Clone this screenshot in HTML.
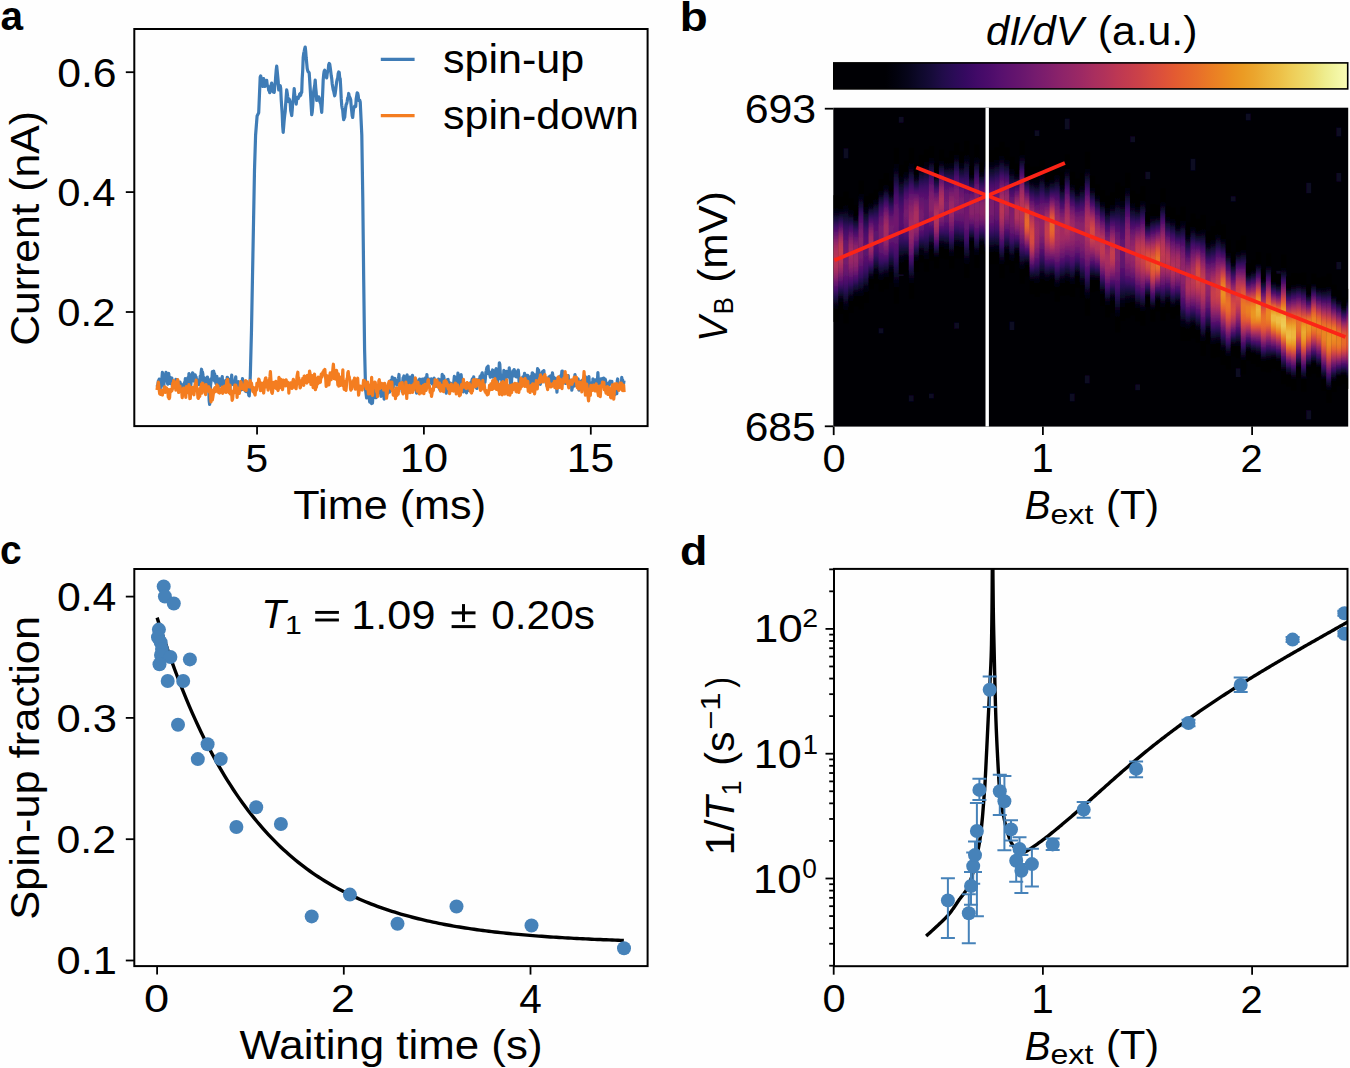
<!DOCTYPE html>
<html><head><meta charset="utf-8"><title>figure</title>
<style>html,body{margin:0;padding:0;background:#fff;}svg{display:block;}</style>
</head><body>
<svg width="1350" height="1068" viewBox="0 0 1350 1068">
<defs><linearGradient id="cbg" x1="0" y1="0" x2="1" y2="0"><stop offset="0" stop-color="#000004"/><stop offset="0.1" stop-color="#000004"/><stop offset="0.1225" stop-color="#02020e"/><stop offset="0.1450" stop-color="#07051b"/><stop offset="0.1675" stop-color="#0e092b"/><stop offset="0.1900" stop-color="#160b39"/><stop offset="0.2125" stop-color="#210c4a"/><stop offset="0.2350" stop-color="#2b0b57"/><stop offset="0.2575" stop-color="#360961"/><stop offset="0.2800" stop-color="#420a68"/><stop offset="0.3025" stop-color="#4c0c6b"/><stop offset="0.3250" stop-color="#57106e"/><stop offset="0.3475" stop-color="#61136e"/><stop offset="0.3700" stop-color="#6a176e"/><stop offset="0.3925" stop-color="#751b6e"/><stop offset="0.4150" stop-color="#7f1e6c"/><stop offset="0.4375" stop-color="#8a226a"/><stop offset="0.4600" stop-color="#932667"/><stop offset="0.4825" stop-color="#9d2964"/><stop offset="0.5050" stop-color="#a82e5f"/><stop offset="0.5275" stop-color="#b1325a"/><stop offset="0.5500" stop-color="#bc3754"/><stop offset="0.5725" stop-color="#c43c4e"/><stop offset="0.5950" stop-color="#cc4248"/><stop offset="0.6175" stop-color="#d54a41"/><stop offset="0.6400" stop-color="#dd513a"/><stop offset="0.6625" stop-color="#e35a32"/><stop offset="0.6850" stop-color="#e6642d"/><stop offset="0.7075" stop-color="#e86e2a"/><stop offset="0.7300" stop-color="#ea7a25"/><stop offset="0.7525" stop-color="#eb8523"/><stop offset="0.7750" stop-color="#eb9121"/><stop offset="0.7975" stop-color="#eb9c24"/><stop offset="0.8200" stop-color="#eba62e"/><stop offset="0.8425" stop-color="#ecb33a"/><stop offset="0.8650" stop-color="#edbe45"/><stop offset="0.8875" stop-color="#eecb55"/><stop offset="0.9100" stop-color="#eed664"/><stop offset="0.9325" stop-color="#ede075"/><stop offset="0.9550" stop-color="#eeec8d"/><stop offset="0.9775" stop-color="#f2f5a2"/><stop offset="1.0000" stop-color="#fafcb6"/></linearGradient>
<filter id="hblur" x="-2%" y="-2%" width="104%" height="104%"><feGaussianBlur stdDeviation="0.5 0.3"/></filter>
<linearGradient id="hc0" x1="0" y1="0" x2="0" y2="1"><stop offset="0.000" stop-color="#000004"/><stop offset="0.050" stop-color="#000004"/><stop offset="0.100" stop-color="#000004"/><stop offset="0.150" stop-color="#08051d"/><stop offset="0.200" stop-color="#1e0c45"/><stop offset="0.250" stop-color="#400a67"/><stop offset="0.300" stop-color="#61136e"/><stop offset="0.350" stop-color="#82206c"/><stop offset="0.400" stop-color="#9f2a63"/><stop offset="0.450" stop-color="#b1325a"/><stop offset="0.500" stop-color="#b93556"/><stop offset="0.550" stop-color="#b43359"/><stop offset="0.600" stop-color="#a32c61"/><stop offset="0.650" stop-color="#87216b"/><stop offset="0.700" stop-color="#64156e"/><stop offset="0.750" stop-color="#420a68"/><stop offset="0.800" stop-color="#1f0c48"/><stop offset="0.850" stop-color="#09061f"/><stop offset="0.900" stop-color="#000004"/><stop offset="0.950" stop-color="#000004"/><stop offset="1.000" stop-color="#000004"/></linearGradient>
<linearGradient id="hc1" x1="0" y1="0" x2="0" y2="1"><stop offset="0.000" stop-color="#000004"/><stop offset="0.050" stop-color="#000004"/><stop offset="0.100" stop-color="#000004"/><stop offset="0.150" stop-color="#0b0724"/><stop offset="0.200" stop-color="#280b53"/><stop offset="0.250" stop-color="#510e6c"/><stop offset="0.300" stop-color="#7a1d6d"/><stop offset="0.350" stop-color="#9f2a63"/><stop offset="0.400" stop-color="#b73557"/><stop offset="0.450" stop-color="#c13a50"/><stop offset="0.500" stop-color="#bf3952"/><stop offset="0.550" stop-color="#b3325a"/><stop offset="0.600" stop-color="#9f2a63"/><stop offset="0.650" stop-color="#84206b"/><stop offset="0.700" stop-color="#64156e"/><stop offset="0.750" stop-color="#440a68"/><stop offset="0.800" stop-color="#210c4a"/><stop offset="0.850" stop-color="#09061f"/><stop offset="0.900" stop-color="#000004"/><stop offset="0.950" stop-color="#000004"/><stop offset="1.000" stop-color="#000004"/></linearGradient>
<linearGradient id="hc2" x1="0" y1="0" x2="0" y2="1"><stop offset="0.000" stop-color="#000004"/><stop offset="0.050" stop-color="#000004"/><stop offset="0.100" stop-color="#000004"/><stop offset="0.150" stop-color="#060419"/><stop offset="0.200" stop-color="#140b34"/><stop offset="0.250" stop-color="#290b55"/><stop offset="0.300" stop-color="#420a68"/><stop offset="0.350" stop-color="#550f6d"/><stop offset="0.400" stop-color="#65156e"/><stop offset="0.450" stop-color="#71196e"/><stop offset="0.500" stop-color="#741a6e"/><stop offset="0.550" stop-color="#721a6e"/><stop offset="0.600" stop-color="#69166e"/><stop offset="0.650" stop-color="#59106e"/><stop offset="0.700" stop-color="#440a68"/><stop offset="0.750" stop-color="#2b0b57"/><stop offset="0.800" stop-color="#150b37"/><stop offset="0.850" stop-color="#060419"/><stop offset="0.900" stop-color="#000004"/><stop offset="0.950" stop-color="#000004"/><stop offset="1.000" stop-color="#000004"/></linearGradient>
<linearGradient id="hc3" x1="0" y1="0" x2="0" y2="1"><stop offset="0.000" stop-color="#000004"/><stop offset="0.050" stop-color="#000004"/><stop offset="0.100" stop-color="#000004"/><stop offset="0.150" stop-color="#08051d"/><stop offset="0.200" stop-color="#1c0c43"/><stop offset="0.250" stop-color="#3d0965"/><stop offset="0.300" stop-color="#5d126e"/><stop offset="0.350" stop-color="#7a1d6d"/><stop offset="0.400" stop-color="#922568"/><stop offset="0.450" stop-color="#9f2a63"/><stop offset="0.500" stop-color="#a02a63"/><stop offset="0.550" stop-color="#972766"/><stop offset="0.600" stop-color="#87216b"/><stop offset="0.650" stop-color="#6f196e"/><stop offset="0.700" stop-color="#540f6d"/><stop offset="0.750" stop-color="#360961"/><stop offset="0.800" stop-color="#190c3e"/><stop offset="0.850" stop-color="#07051b"/><stop offset="0.900" stop-color="#000004"/><stop offset="0.950" stop-color="#000004"/><stop offset="1.000" stop-color="#000004"/></linearGradient>
<linearGradient id="hc4" x1="0" y1="0" x2="0" y2="1"><stop offset="0.000" stop-color="#000004"/><stop offset="0.050" stop-color="#000004"/><stop offset="0.100" stop-color="#000004"/><stop offset="0.150" stop-color="#07051b"/><stop offset="0.200" stop-color="#1b0c41"/><stop offset="0.250" stop-color="#380962"/><stop offset="0.300" stop-color="#540f6d"/><stop offset="0.350" stop-color="#6d186e"/><stop offset="0.400" stop-color="#84206b"/><stop offset="0.450" stop-color="#922568"/><stop offset="0.500" stop-color="#972766"/><stop offset="0.550" stop-color="#932667"/><stop offset="0.600" stop-color="#87216b"/><stop offset="0.650" stop-color="#721a6e"/><stop offset="0.700" stop-color="#57106e"/><stop offset="0.750" stop-color="#390963"/><stop offset="0.800" stop-color="#1b0c41"/><stop offset="0.850" stop-color="#08051d"/><stop offset="0.900" stop-color="#000004"/><stop offset="0.950" stop-color="#000004"/><stop offset="1.000" stop-color="#000004"/></linearGradient>
<linearGradient id="hc5" x1="0" y1="0" x2="0" y2="1"><stop offset="0.000" stop-color="#000004"/><stop offset="0.050" stop-color="#000004"/><stop offset="0.100" stop-color="#000004"/><stop offset="0.150" stop-color="#07051b"/><stop offset="0.200" stop-color="#180c3c"/><stop offset="0.250" stop-color="#340a5f"/><stop offset="0.300" stop-color="#4f0d6c"/><stop offset="0.350" stop-color="#65156e"/><stop offset="0.400" stop-color="#781c6d"/><stop offset="0.450" stop-color="#82206c"/><stop offset="0.500" stop-color="#84206b"/><stop offset="0.550" stop-color="#7f1e6c"/><stop offset="0.600" stop-color="#741a6e"/><stop offset="0.650" stop-color="#61136e"/><stop offset="0.700" stop-color="#4a0c6b"/><stop offset="0.750" stop-color="#310a5c"/><stop offset="0.800" stop-color="#180c3c"/><stop offset="0.850" stop-color="#07051b"/><stop offset="0.900" stop-color="#000004"/><stop offset="0.950" stop-color="#000004"/><stop offset="1.000" stop-color="#000004"/></linearGradient>
<linearGradient id="hc6" x1="0" y1="0" x2="0" y2="1"><stop offset="0.000" stop-color="#000004"/><stop offset="0.050" stop-color="#000004"/><stop offset="0.100" stop-color="#000004"/><stop offset="0.150" stop-color="#050417"/><stop offset="0.200" stop-color="#120a32"/><stop offset="0.250" stop-color="#240c4f"/><stop offset="0.300" stop-color="#380962"/><stop offset="0.350" stop-color="#490b6a"/><stop offset="0.400" stop-color="#550f6d"/><stop offset="0.450" stop-color="#5c126e"/><stop offset="0.500" stop-color="#5d126e"/><stop offset="0.550" stop-color="#5c126e"/><stop offset="0.600" stop-color="#550f6d"/><stop offset="0.650" stop-color="#490b6a"/><stop offset="0.700" stop-color="#380962"/><stop offset="0.750" stop-color="#240c4f"/><stop offset="0.800" stop-color="#120a32"/><stop offset="0.850" stop-color="#050417"/><stop offset="0.900" stop-color="#000004"/><stop offset="0.950" stop-color="#000004"/><stop offset="1.000" stop-color="#000004"/></linearGradient>
<linearGradient id="hc7" x1="0" y1="0" x2="0" y2="1"><stop offset="0.000" stop-color="#000004"/><stop offset="0.050" stop-color="#000004"/><stop offset="0.100" stop-color="#000004"/><stop offset="0.150" stop-color="#07051b"/><stop offset="0.200" stop-color="#1b0c41"/><stop offset="0.250" stop-color="#380962"/><stop offset="0.300" stop-color="#57106e"/><stop offset="0.350" stop-color="#721a6e"/><stop offset="0.400" stop-color="#8c2369"/><stop offset="0.450" stop-color="#9d2964"/><stop offset="0.500" stop-color="#a62d60"/><stop offset="0.550" stop-color="#a52c60"/><stop offset="0.600" stop-color="#982766"/><stop offset="0.650" stop-color="#7f1e6c"/><stop offset="0.700" stop-color="#61136e"/><stop offset="0.750" stop-color="#3e0966"/><stop offset="0.800" stop-color="#1e0c45"/><stop offset="0.850" stop-color="#08051d"/><stop offset="0.900" stop-color="#000004"/><stop offset="0.950" stop-color="#000004"/><stop offset="1.000" stop-color="#000004"/></linearGradient>
<linearGradient id="hc8" x1="0" y1="0" x2="0" y2="1"><stop offset="0.000" stop-color="#000004"/><stop offset="0.050" stop-color="#000004"/><stop offset="0.100" stop-color="#000004"/><stop offset="0.150" stop-color="#050417"/><stop offset="0.200" stop-color="#120a32"/><stop offset="0.250" stop-color="#240c4f"/><stop offset="0.300" stop-color="#380962"/><stop offset="0.350" stop-color="#490b6a"/><stop offset="0.400" stop-color="#550f6d"/><stop offset="0.450" stop-color="#5c126e"/><stop offset="0.500" stop-color="#5d126e"/><stop offset="0.550" stop-color="#5c126e"/><stop offset="0.600" stop-color="#550f6d"/><stop offset="0.650" stop-color="#490b6a"/><stop offset="0.700" stop-color="#380962"/><stop offset="0.750" stop-color="#240c4f"/><stop offset="0.800" stop-color="#120a32"/><stop offset="0.850" stop-color="#050417"/><stop offset="0.900" stop-color="#000004"/><stop offset="0.950" stop-color="#000004"/><stop offset="1.000" stop-color="#000004"/></linearGradient>
<linearGradient id="hc9" x1="0" y1="0" x2="0" y2="1"><stop offset="0.000" stop-color="#000004"/><stop offset="0.050" stop-color="#000004"/><stop offset="0.100" stop-color="#000004"/><stop offset="0.150" stop-color="#08051d"/><stop offset="0.200" stop-color="#1b0c41"/><stop offset="0.250" stop-color="#360961"/><stop offset="0.300" stop-color="#4f0d6c"/><stop offset="0.350" stop-color="#62146e"/><stop offset="0.400" stop-color="#71196e"/><stop offset="0.450" stop-color="#771c6d"/><stop offset="0.500" stop-color="#781c6d"/><stop offset="0.550" stop-color="#741a6e"/><stop offset="0.600" stop-color="#6a176e"/><stop offset="0.650" stop-color="#5c126e"/><stop offset="0.700" stop-color="#470b6a"/><stop offset="0.750" stop-color="#2f0a5b"/><stop offset="0.800" stop-color="#160b39"/><stop offset="0.850" stop-color="#060419"/><stop offset="0.900" stop-color="#000004"/><stop offset="0.950" stop-color="#000004"/><stop offset="1.000" stop-color="#000004"/></linearGradient>
<linearGradient id="hc10" x1="0" y1="0" x2="0" y2="1"><stop offset="0.000" stop-color="#000004"/><stop offset="0.050" stop-color="#000004"/><stop offset="0.100" stop-color="#000004"/><stop offset="0.150" stop-color="#08051d"/><stop offset="0.200" stop-color="#1e0c45"/><stop offset="0.250" stop-color="#3d0965"/><stop offset="0.300" stop-color="#5d126e"/><stop offset="0.350" stop-color="#7a1d6d"/><stop offset="0.400" stop-color="#902568"/><stop offset="0.450" stop-color="#9f2a63"/><stop offset="0.500" stop-color="#a32c61"/><stop offset="0.550" stop-color="#9f2a63"/><stop offset="0.600" stop-color="#902568"/><stop offset="0.650" stop-color="#781c6d"/><stop offset="0.700" stop-color="#5d126e"/><stop offset="0.750" stop-color="#3d0965"/><stop offset="0.800" stop-color="#1e0c45"/><stop offset="0.850" stop-color="#08051d"/><stop offset="0.900" stop-color="#000004"/><stop offset="0.950" stop-color="#000004"/><stop offset="1.000" stop-color="#000004"/></linearGradient>
<linearGradient id="hc11" x1="0" y1="0" x2="0" y2="1"><stop offset="0.000" stop-color="#000004"/><stop offset="0.050" stop-color="#000004"/><stop offset="0.100" stop-color="#000004"/><stop offset="0.150" stop-color="#07051b"/><stop offset="0.200" stop-color="#160b39"/><stop offset="0.250" stop-color="#2f0a5b"/><stop offset="0.300" stop-color="#470b6a"/><stop offset="0.350" stop-color="#5d126e"/><stop offset="0.400" stop-color="#6c186e"/><stop offset="0.450" stop-color="#721a6e"/><stop offset="0.500" stop-color="#721a6e"/><stop offset="0.550" stop-color="#6a176e"/><stop offset="0.600" stop-color="#5d126e"/><stop offset="0.650" stop-color="#4d0d6c"/><stop offset="0.700" stop-color="#390963"/><stop offset="0.750" stop-color="#240c4f"/><stop offset="0.800" stop-color="#110a30"/><stop offset="0.850" stop-color="#050417"/><stop offset="0.900" stop-color="#000004"/><stop offset="0.950" stop-color="#000004"/><stop offset="1.000" stop-color="#000004"/></linearGradient>
<linearGradient id="hc12" x1="0" y1="0" x2="0" y2="1"><stop offset="0.000" stop-color="#000004"/><stop offset="0.050" stop-color="#000004"/><stop offset="0.100" stop-color="#000004"/><stop offset="0.150" stop-color="#060419"/><stop offset="0.200" stop-color="#150b37"/><stop offset="0.250" stop-color="#2b0b57"/><stop offset="0.300" stop-color="#440a68"/><stop offset="0.350" stop-color="#57106e"/><stop offset="0.400" stop-color="#67166e"/><stop offset="0.450" stop-color="#6f196e"/><stop offset="0.500" stop-color="#6f196e"/><stop offset="0.550" stop-color="#6a176e"/><stop offset="0.600" stop-color="#5f136e"/><stop offset="0.650" stop-color="#4f0d6c"/><stop offset="0.700" stop-color="#3d0965"/><stop offset="0.750" stop-color="#260c51"/><stop offset="0.800" stop-color="#120a32"/><stop offset="0.850" stop-color="#050417"/><stop offset="0.900" stop-color="#000004"/><stop offset="0.950" stop-color="#000004"/><stop offset="1.000" stop-color="#000004"/></linearGradient>
<linearGradient id="hc13" x1="0" y1="0" x2="0" y2="1"><stop offset="0.000" stop-color="#000004"/><stop offset="0.050" stop-color="#000004"/><stop offset="0.100" stop-color="#000004"/><stop offset="0.150" stop-color="#040314"/><stop offset="0.200" stop-color="#10092d"/><stop offset="0.250" stop-color="#1e0c45"/><stop offset="0.300" stop-color="#310a5c"/><stop offset="0.350" stop-color="#400a67"/><stop offset="0.400" stop-color="#4c0c6b"/><stop offset="0.450" stop-color="#540f6d"/><stop offset="0.500" stop-color="#550f6d"/><stop offset="0.550" stop-color="#540f6d"/><stop offset="0.600" stop-color="#4c0c6b"/><stop offset="0.650" stop-color="#400a67"/><stop offset="0.700" stop-color="#310a5c"/><stop offset="0.750" stop-color="#1e0c45"/><stop offset="0.800" stop-color="#0e092b"/><stop offset="0.850" stop-color="#040314"/><stop offset="0.900" stop-color="#000004"/><stop offset="0.950" stop-color="#000004"/><stop offset="1.000" stop-color="#000004"/></linearGradient>
<linearGradient id="hc14" x1="0" y1="0" x2="0" y2="1"><stop offset="0.000" stop-color="#000004"/><stop offset="0.050" stop-color="#000004"/><stop offset="0.100" stop-color="#000004"/><stop offset="0.150" stop-color="#060419"/><stop offset="0.200" stop-color="#160b39"/><stop offset="0.250" stop-color="#2f0a5b"/><stop offset="0.300" stop-color="#490b6a"/><stop offset="0.350" stop-color="#5d126e"/><stop offset="0.400" stop-color="#6d186e"/><stop offset="0.450" stop-color="#741a6e"/><stop offset="0.500" stop-color="#741a6e"/><stop offset="0.550" stop-color="#6f196e"/><stop offset="0.600" stop-color="#64156e"/><stop offset="0.650" stop-color="#540f6d"/><stop offset="0.700" stop-color="#3e0966"/><stop offset="0.750" stop-color="#280b53"/><stop offset="0.800" stop-color="#140b34"/><stop offset="0.850" stop-color="#050417"/><stop offset="0.900" stop-color="#000004"/><stop offset="0.950" stop-color="#000004"/><stop offset="1.000" stop-color="#000004"/></linearGradient>
<linearGradient id="hc15" x1="0" y1="0" x2="0" y2="1"><stop offset="0.000" stop-color="#000004"/><stop offset="0.050" stop-color="#000004"/><stop offset="0.100" stop-color="#000004"/><stop offset="0.150" stop-color="#08051d"/><stop offset="0.200" stop-color="#1c0c43"/><stop offset="0.250" stop-color="#3b0964"/><stop offset="0.300" stop-color="#59106e"/><stop offset="0.350" stop-color="#741a6e"/><stop offset="0.400" stop-color="#88226a"/><stop offset="0.450" stop-color="#972766"/><stop offset="0.500" stop-color="#9f2a63"/><stop offset="0.550" stop-color="#9d2964"/><stop offset="0.600" stop-color="#922568"/><stop offset="0.650" stop-color="#7d1e6d"/><stop offset="0.700" stop-color="#61136e"/><stop offset="0.750" stop-color="#400a67"/><stop offset="0.800" stop-color="#1f0c48"/><stop offset="0.850" stop-color="#09061f"/><stop offset="0.900" stop-color="#000004"/><stop offset="0.950" stop-color="#000004"/><stop offset="1.000" stop-color="#000004"/></linearGradient>
<linearGradient id="hc16" x1="0" y1="0" x2="0" y2="1"><stop offset="0.000" stop-color="#000004"/><stop offset="0.050" stop-color="#000004"/><stop offset="0.100" stop-color="#000004"/><stop offset="0.150" stop-color="#09061f"/><stop offset="0.200" stop-color="#210c4a"/><stop offset="0.250" stop-color="#450a69"/><stop offset="0.300" stop-color="#67166e"/><stop offset="0.350" stop-color="#85216b"/><stop offset="0.400" stop-color="#9d2964"/><stop offset="0.450" stop-color="#a82e5f"/><stop offset="0.500" stop-color="#ab2f5e"/><stop offset="0.550" stop-color="#a52c60"/><stop offset="0.600" stop-color="#952667"/><stop offset="0.650" stop-color="#7f1e6c"/><stop offset="0.700" stop-color="#62146e"/><stop offset="0.750" stop-color="#420a68"/><stop offset="0.800" stop-color="#1f0c48"/><stop offset="0.850" stop-color="#09061f"/><stop offset="0.900" stop-color="#000004"/><stop offset="0.950" stop-color="#000004"/><stop offset="1.000" stop-color="#000004"/></linearGradient>
<linearGradient id="hc17" x1="0" y1="0" x2="0" y2="1"><stop offset="0.000" stop-color="#000004"/><stop offset="0.050" stop-color="#000004"/><stop offset="0.100" stop-color="#000004"/><stop offset="0.150" stop-color="#050417"/><stop offset="0.200" stop-color="#140b34"/><stop offset="0.250" stop-color="#280b53"/><stop offset="0.300" stop-color="#3d0965"/><stop offset="0.350" stop-color="#4f0d6c"/><stop offset="0.400" stop-color="#5d126e"/><stop offset="0.450" stop-color="#69166e"/><stop offset="0.500" stop-color="#71196e"/><stop offset="0.550" stop-color="#751b6e"/><stop offset="0.600" stop-color="#741a6e"/><stop offset="0.650" stop-color="#6c186e"/><stop offset="0.700" stop-color="#5c126e"/><stop offset="0.750" stop-color="#440a68"/><stop offset="0.800" stop-color="#260c51"/><stop offset="0.850" stop-color="#0e092b"/><stop offset="0.900" stop-color="#02010a"/><stop offset="0.950" stop-color="#000004"/><stop offset="1.000" stop-color="#000004"/></linearGradient>
<linearGradient id="hc18" x1="0" y1="0" x2="0" y2="1"><stop offset="0.000" stop-color="#000004"/><stop offset="0.050" stop-color="#000004"/><stop offset="0.100" stop-color="#000004"/><stop offset="0.150" stop-color="#050417"/><stop offset="0.200" stop-color="#120a32"/><stop offset="0.250" stop-color="#260c51"/><stop offset="0.300" stop-color="#3b0964"/><stop offset="0.350" stop-color="#4d0d6c"/><stop offset="0.400" stop-color="#5a116e"/><stop offset="0.450" stop-color="#62146e"/><stop offset="0.500" stop-color="#64156e"/><stop offset="0.550" stop-color="#62146e"/><stop offset="0.600" stop-color="#5a116e"/><stop offset="0.650" stop-color="#4d0d6c"/><stop offset="0.700" stop-color="#3b0964"/><stop offset="0.750" stop-color="#260c51"/><stop offset="0.800" stop-color="#120a32"/><stop offset="0.850" stop-color="#050417"/><stop offset="0.900" stop-color="#000004"/><stop offset="0.950" stop-color="#000004"/><stop offset="1.000" stop-color="#000004"/></linearGradient>
<linearGradient id="hc19" x1="0" y1="0" x2="0" y2="1"><stop offset="0.000" stop-color="#000004"/><stop offset="0.050" stop-color="#000004"/><stop offset="0.100" stop-color="#000004"/><stop offset="0.150" stop-color="#07051b"/><stop offset="0.200" stop-color="#180c3c"/><stop offset="0.250" stop-color="#320a5e"/><stop offset="0.300" stop-color="#4c0c6b"/><stop offset="0.350" stop-color="#62146e"/><stop offset="0.400" stop-color="#741a6e"/><stop offset="0.450" stop-color="#801f6c"/><stop offset="0.500" stop-color="#85216b"/><stop offset="0.550" stop-color="#87216b"/><stop offset="0.600" stop-color="#7f1e6c"/><stop offset="0.650" stop-color="#6f196e"/><stop offset="0.700" stop-color="#57106e"/><stop offset="0.750" stop-color="#3b0964"/><stop offset="0.800" stop-color="#1c0c43"/><stop offset="0.850" stop-color="#08051d"/><stop offset="0.900" stop-color="#000004"/><stop offset="0.950" stop-color="#000004"/><stop offset="1.000" stop-color="#000004"/></linearGradient>
<linearGradient id="hc20" x1="0" y1="0" x2="0" y2="1"><stop offset="0.000" stop-color="#000004"/><stop offset="0.050" stop-color="#000004"/><stop offset="0.100" stop-color="#000004"/><stop offset="0.150" stop-color="#09061f"/><stop offset="0.200" stop-color="#1f0c48"/><stop offset="0.250" stop-color="#420a68"/><stop offset="0.300" stop-color="#62146e"/><stop offset="0.350" stop-color="#7f1e6c"/><stop offset="0.400" stop-color="#972766"/><stop offset="0.450" stop-color="#a82e5f"/><stop offset="0.500" stop-color="#b1325a"/><stop offset="0.550" stop-color="#b3325a"/><stop offset="0.600" stop-color="#a92e5e"/><stop offset="0.650" stop-color="#932667"/><stop offset="0.700" stop-color="#741a6e"/><stop offset="0.750" stop-color="#4f0d6c"/><stop offset="0.800" stop-color="#280b53"/><stop offset="0.850" stop-color="#0b0724"/><stop offset="0.900" stop-color="#000004"/><stop offset="0.950" stop-color="#000004"/><stop offset="1.000" stop-color="#000004"/></linearGradient>
<linearGradient id="hc21" x1="0" y1="0" x2="0" y2="1"><stop offset="0.000" stop-color="#000004"/><stop offset="0.050" stop-color="#000004"/><stop offset="0.100" stop-color="#000004"/><stop offset="0.150" stop-color="#09061f"/><stop offset="0.200" stop-color="#210c4a"/><stop offset="0.250" stop-color="#470b6a"/><stop offset="0.300" stop-color="#6a176e"/><stop offset="0.350" stop-color="#8a226a"/><stop offset="0.400" stop-color="#a22b62"/><stop offset="0.450" stop-color="#ae305c"/><stop offset="0.500" stop-color="#ad305d"/><stop offset="0.550" stop-color="#a32c61"/><stop offset="0.600" stop-color="#902568"/><stop offset="0.650" stop-color="#781c6d"/><stop offset="0.700" stop-color="#5c126e"/><stop offset="0.750" stop-color="#3d0965"/><stop offset="0.800" stop-color="#1e0c45"/><stop offset="0.850" stop-color="#08051d"/><stop offset="0.900" stop-color="#000004"/><stop offset="0.950" stop-color="#000004"/><stop offset="1.000" stop-color="#000004"/></linearGradient>
<linearGradient id="hc22" x1="0" y1="0" x2="0" y2="1"><stop offset="0.000" stop-color="#000004"/><stop offset="0.050" stop-color="#000004"/><stop offset="0.100" stop-color="#040314"/><stop offset="0.150" stop-color="#150b37"/><stop offset="0.200" stop-color="#2d0b59"/><stop offset="0.250" stop-color="#450a69"/><stop offset="0.300" stop-color="#59106e"/><stop offset="0.350" stop-color="#67166e"/><stop offset="0.400" stop-color="#71196e"/><stop offset="0.450" stop-color="#741a6e"/><stop offset="0.500" stop-color="#741a6e"/><stop offset="0.550" stop-color="#6f196e"/><stop offset="0.600" stop-color="#67166e"/><stop offset="0.650" stop-color="#59106e"/><stop offset="0.700" stop-color="#450a69"/><stop offset="0.750" stop-color="#2d0b59"/><stop offset="0.800" stop-color="#160b39"/><stop offset="0.850" stop-color="#060419"/><stop offset="0.900" stop-color="#000004"/><stop offset="0.950" stop-color="#000004"/><stop offset="1.000" stop-color="#000004"/></linearGradient>
<linearGradient id="hc23" x1="0" y1="0" x2="0" y2="1"><stop offset="0.000" stop-color="#000004"/><stop offset="0.050" stop-color="#000004"/><stop offset="0.100" stop-color="#000004"/><stop offset="0.150" stop-color="#07051b"/><stop offset="0.200" stop-color="#1b0c41"/><stop offset="0.250" stop-color="#380962"/><stop offset="0.300" stop-color="#550f6d"/><stop offset="0.350" stop-color="#721a6e"/><stop offset="0.400" stop-color="#88226a"/><stop offset="0.450" stop-color="#972766"/><stop offset="0.500" stop-color="#9a2865"/><stop offset="0.550" stop-color="#932667"/><stop offset="0.600" stop-color="#84206b"/><stop offset="0.650" stop-color="#6d186e"/><stop offset="0.700" stop-color="#520e6d"/><stop offset="0.750" stop-color="#340a5f"/><stop offset="0.800" stop-color="#190c3e"/><stop offset="0.850" stop-color="#07051b"/><stop offset="0.900" stop-color="#000004"/><stop offset="0.950" stop-color="#000004"/><stop offset="1.000" stop-color="#000004"/></linearGradient>
<linearGradient id="hc24" x1="0" y1="0" x2="0" y2="1"><stop offset="0.000" stop-color="#000004"/><stop offset="0.050" stop-color="#000004"/><stop offset="0.100" stop-color="#000004"/><stop offset="0.150" stop-color="#07051b"/><stop offset="0.200" stop-color="#180c3c"/><stop offset="0.250" stop-color="#310a5c"/><stop offset="0.300" stop-color="#4c0c6b"/><stop offset="0.350" stop-color="#62146e"/><stop offset="0.400" stop-color="#741a6e"/><stop offset="0.450" stop-color="#7f1e6c"/><stop offset="0.500" stop-color="#82206c"/><stop offset="0.550" stop-color="#801f6c"/><stop offset="0.600" stop-color="#751b6e"/><stop offset="0.650" stop-color="#64156e"/><stop offset="0.700" stop-color="#4d0d6c"/><stop offset="0.750" stop-color="#320a5e"/><stop offset="0.800" stop-color="#180c3c"/><stop offset="0.850" stop-color="#07051b"/><stop offset="0.900" stop-color="#000004"/><stop offset="0.950" stop-color="#000004"/><stop offset="1.000" stop-color="#000004"/></linearGradient>
<linearGradient id="hc25" x1="0" y1="0" x2="0" y2="1"><stop offset="0.000" stop-color="#000004"/><stop offset="0.050" stop-color="#000004"/><stop offset="0.100" stop-color="#000004"/><stop offset="0.150" stop-color="#060419"/><stop offset="0.200" stop-color="#160b39"/><stop offset="0.250" stop-color="#2f0a5b"/><stop offset="0.300" stop-color="#470b6a"/><stop offset="0.350" stop-color="#5c126e"/><stop offset="0.400" stop-color="#6c186e"/><stop offset="0.450" stop-color="#751b6e"/><stop offset="0.500" stop-color="#781c6d"/><stop offset="0.550" stop-color="#771c6d"/><stop offset="0.600" stop-color="#6d186e"/><stop offset="0.650" stop-color="#5d126e"/><stop offset="0.700" stop-color="#490b6a"/><stop offset="0.750" stop-color="#2f0a5b"/><stop offset="0.800" stop-color="#160b39"/><stop offset="0.850" stop-color="#060419"/><stop offset="0.900" stop-color="#000004"/><stop offset="0.950" stop-color="#000004"/><stop offset="1.000" stop-color="#000004"/></linearGradient>
<linearGradient id="hc26" x1="0" y1="0" x2="0" y2="1"><stop offset="0.000" stop-color="#000004"/><stop offset="0.050" stop-color="#000004"/><stop offset="0.100" stop-color="#000004"/><stop offset="0.150" stop-color="#060419"/><stop offset="0.200" stop-color="#140b34"/><stop offset="0.250" stop-color="#280b53"/><stop offset="0.300" stop-color="#3e0966"/><stop offset="0.350" stop-color="#520e6d"/><stop offset="0.400" stop-color="#61136e"/><stop offset="0.450" stop-color="#6a176e"/><stop offset="0.500" stop-color="#6f196e"/><stop offset="0.550" stop-color="#6f196e"/><stop offset="0.600" stop-color="#67166e"/><stop offset="0.650" stop-color="#5a116e"/><stop offset="0.700" stop-color="#470b6a"/><stop offset="0.750" stop-color="#2f0a5b"/><stop offset="0.800" stop-color="#160b39"/><stop offset="0.850" stop-color="#07051b"/><stop offset="0.900" stop-color="#000004"/><stop offset="0.950" stop-color="#000004"/><stop offset="1.000" stop-color="#000004"/></linearGradient>
<linearGradient id="hc27" x1="0" y1="0" x2="0" y2="1"><stop offset="0.000" stop-color="#000004"/><stop offset="0.050" stop-color="#000004"/><stop offset="0.100" stop-color="#000004"/><stop offset="0.150" stop-color="#07051b"/><stop offset="0.200" stop-color="#180c3c"/><stop offset="0.250" stop-color="#320a5e"/><stop offset="0.300" stop-color="#4d0d6c"/><stop offset="0.350" stop-color="#64156e"/><stop offset="0.400" stop-color="#771c6d"/><stop offset="0.450" stop-color="#84206b"/><stop offset="0.500" stop-color="#88226a"/><stop offset="0.550" stop-color="#88226a"/><stop offset="0.600" stop-color="#7f1e6c"/><stop offset="0.650" stop-color="#6c186e"/><stop offset="0.700" stop-color="#540f6d"/><stop offset="0.750" stop-color="#380962"/><stop offset="0.800" stop-color="#1b0c41"/><stop offset="0.850" stop-color="#07051b"/><stop offset="0.900" stop-color="#000004"/><stop offset="0.950" stop-color="#000004"/><stop offset="1.000" stop-color="#000004"/></linearGradient>
<linearGradient id="hc28" x1="0" y1="0" x2="0" y2="1"><stop offset="0.000" stop-color="#000004"/><stop offset="0.050" stop-color="#000004"/><stop offset="0.100" stop-color="#000004"/><stop offset="0.150" stop-color="#07051b"/><stop offset="0.200" stop-color="#1b0c41"/><stop offset="0.250" stop-color="#360961"/><stop offset="0.300" stop-color="#510e6c"/><stop offset="0.350" stop-color="#69166e"/><stop offset="0.400" stop-color="#7a1d6d"/><stop offset="0.450" stop-color="#84206b"/><stop offset="0.500" stop-color="#87216b"/><stop offset="0.550" stop-color="#84206b"/><stop offset="0.600" stop-color="#7a1d6d"/><stop offset="0.650" stop-color="#69166e"/><stop offset="0.700" stop-color="#510e6c"/><stop offset="0.750" stop-color="#360961"/><stop offset="0.800" stop-color="#1b0c41"/><stop offset="0.850" stop-color="#07051b"/><stop offset="0.900" stop-color="#000004"/><stop offset="0.950" stop-color="#000004"/><stop offset="1.000" stop-color="#000004"/></linearGradient>
<linearGradient id="hc29" x1="0" y1="0" x2="0" y2="1"><stop offset="0.000" stop-color="#000004"/><stop offset="0.050" stop-color="#000004"/><stop offset="0.100" stop-color="#000004"/><stop offset="0.150" stop-color="#07051b"/><stop offset="0.200" stop-color="#190c3e"/><stop offset="0.250" stop-color="#340a5f"/><stop offset="0.300" stop-color="#4f0d6c"/><stop offset="0.350" stop-color="#67166e"/><stop offset="0.400" stop-color="#7a1d6d"/><stop offset="0.450" stop-color="#85216b"/><stop offset="0.500" stop-color="#8a226a"/><stop offset="0.550" stop-color="#88226a"/><stop offset="0.600" stop-color="#7f1e6c"/><stop offset="0.650" stop-color="#6c186e"/><stop offset="0.700" stop-color="#540f6d"/><stop offset="0.750" stop-color="#360961"/><stop offset="0.800" stop-color="#1b0c41"/><stop offset="0.850" stop-color="#07051b"/><stop offset="0.900" stop-color="#000004"/><stop offset="0.950" stop-color="#000004"/><stop offset="1.000" stop-color="#000004"/></linearGradient>
<linearGradient id="hc30" x1="0" y1="0" x2="0" y2="1"><stop offset="0.000" stop-color="#000004"/><stop offset="0.050" stop-color="#000004"/><stop offset="0.100" stop-color="#000004"/><stop offset="0.150" stop-color="#07051b"/><stop offset="0.200" stop-color="#190c3e"/><stop offset="0.250" stop-color="#340a5f"/><stop offset="0.300" stop-color="#510e6c"/><stop offset="0.350" stop-color="#6a176e"/><stop offset="0.400" stop-color="#82206c"/><stop offset="0.450" stop-color="#922568"/><stop offset="0.500" stop-color="#9b2964"/><stop offset="0.550" stop-color="#9a2865"/><stop offset="0.600" stop-color="#8d2369"/><stop offset="0.650" stop-color="#771c6d"/><stop offset="0.700" stop-color="#5a116e"/><stop offset="0.750" stop-color="#3b0964"/><stop offset="0.800" stop-color="#1b0c41"/><stop offset="0.850" stop-color="#08051d"/><stop offset="0.900" stop-color="#000004"/><stop offset="0.950" stop-color="#000004"/><stop offset="1.000" stop-color="#000004"/></linearGradient>
<linearGradient id="hc31" x1="0" y1="0" x2="0" y2="1"><stop offset="0.000" stop-color="#000004"/><stop offset="0.050" stop-color="#000004"/><stop offset="0.100" stop-color="#000004"/><stop offset="0.150" stop-color="#060419"/><stop offset="0.200" stop-color="#140b34"/><stop offset="0.250" stop-color="#290b55"/><stop offset="0.300" stop-color="#440a68"/><stop offset="0.350" stop-color="#59106e"/><stop offset="0.400" stop-color="#6a176e"/><stop offset="0.450" stop-color="#751b6e"/><stop offset="0.500" stop-color="#781c6d"/><stop offset="0.550" stop-color="#751b6e"/><stop offset="0.600" stop-color="#6a176e"/><stop offset="0.650" stop-color="#59106e"/><stop offset="0.700" stop-color="#420a68"/><stop offset="0.750" stop-color="#290b55"/><stop offset="0.800" stop-color="#140b34"/><stop offset="0.850" stop-color="#060419"/><stop offset="0.900" stop-color="#000004"/><stop offset="0.950" stop-color="#000004"/><stop offset="1.000" stop-color="#000004"/></linearGradient>
<linearGradient id="hc32" x1="0" y1="0" x2="0" y2="1"><stop offset="0.000" stop-color="#000004"/><stop offset="0.050" stop-color="#000004"/><stop offset="0.100" stop-color="#000004"/><stop offset="0.150" stop-color="#060419"/><stop offset="0.200" stop-color="#150b37"/><stop offset="0.250" stop-color="#2b0b57"/><stop offset="0.300" stop-color="#440a68"/><stop offset="0.350" stop-color="#57106e"/><stop offset="0.400" stop-color="#65156e"/><stop offset="0.450" stop-color="#6d186e"/><stop offset="0.500" stop-color="#6f196e"/><stop offset="0.550" stop-color="#6c186e"/><stop offset="0.600" stop-color="#62146e"/><stop offset="0.650" stop-color="#540f6d"/><stop offset="0.700" stop-color="#400a67"/><stop offset="0.750" stop-color="#290b55"/><stop offset="0.800" stop-color="#150b37"/><stop offset="0.850" stop-color="#060419"/><stop offset="0.900" stop-color="#000004"/><stop offset="0.950" stop-color="#000004"/><stop offset="1.000" stop-color="#000004"/></linearGradient>
<linearGradient id="hc33" x1="0" y1="0" x2="0" y2="1"><stop offset="0.000" stop-color="#000004"/><stop offset="0.050" stop-color="#000004"/><stop offset="0.100" stop-color="#000004"/><stop offset="0.150" stop-color="#09061f"/><stop offset="0.200" stop-color="#1f0c48"/><stop offset="0.250" stop-color="#420a68"/><stop offset="0.300" stop-color="#65156e"/><stop offset="0.350" stop-color="#87216b"/><stop offset="0.400" stop-color="#a22b62"/><stop offset="0.450" stop-color="#b3325a"/><stop offset="0.500" stop-color="#b93556"/><stop offset="0.550" stop-color="#b1325a"/><stop offset="0.600" stop-color="#a02a63"/><stop offset="0.650" stop-color="#84206b"/><stop offset="0.700" stop-color="#64156e"/><stop offset="0.750" stop-color="#420a68"/><stop offset="0.800" stop-color="#1f0c48"/><stop offset="0.850" stop-color="#09061f"/><stop offset="0.900" stop-color="#000004"/><stop offset="0.950" stop-color="#000004"/><stop offset="1.000" stop-color="#000004"/></linearGradient>
<linearGradient id="hc34" x1="0" y1="0" x2="0" y2="1"><stop offset="0.000" stop-color="#000004"/><stop offset="0.050" stop-color="#000004"/><stop offset="0.100" stop-color="#000004"/><stop offset="0.150" stop-color="#08051d"/><stop offset="0.200" stop-color="#1e0c45"/><stop offset="0.250" stop-color="#3d0965"/><stop offset="0.300" stop-color="#5d126e"/><stop offset="0.350" stop-color="#781c6d"/><stop offset="0.400" stop-color="#8f2469"/><stop offset="0.450" stop-color="#9b2964"/><stop offset="0.500" stop-color="#9d2964"/><stop offset="0.550" stop-color="#972766"/><stop offset="0.600" stop-color="#88226a"/><stop offset="0.650" stop-color="#721a6e"/><stop offset="0.700" stop-color="#57106e"/><stop offset="0.750" stop-color="#390963"/><stop offset="0.800" stop-color="#1c0c43"/><stop offset="0.850" stop-color="#08051d"/><stop offset="0.900" stop-color="#000004"/><stop offset="0.950" stop-color="#000004"/><stop offset="1.000" stop-color="#000004"/></linearGradient>
<linearGradient id="hc35" x1="0" y1="0" x2="0" y2="1"><stop offset="0.000" stop-color="#000004"/><stop offset="0.050" stop-color="#000004"/><stop offset="0.100" stop-color="#000004"/><stop offset="0.150" stop-color="#060419"/><stop offset="0.200" stop-color="#150b37"/><stop offset="0.250" stop-color="#2d0b59"/><stop offset="0.300" stop-color="#450a69"/><stop offset="0.350" stop-color="#5c126e"/><stop offset="0.400" stop-color="#6f196e"/><stop offset="0.450" stop-color="#7c1d6d"/><stop offset="0.500" stop-color="#801f6c"/><stop offset="0.550" stop-color="#7f1e6c"/><stop offset="0.600" stop-color="#741a6e"/><stop offset="0.650" stop-color="#61136e"/><stop offset="0.700" stop-color="#4a0c6b"/><stop offset="0.750" stop-color="#2f0a5b"/><stop offset="0.800" stop-color="#160b39"/><stop offset="0.850" stop-color="#060419"/><stop offset="0.900" stop-color="#000004"/><stop offset="0.950" stop-color="#000004"/><stop offset="1.000" stop-color="#000004"/></linearGradient>
<linearGradient id="hc36" x1="0" y1="0" x2="0" y2="1"><stop offset="0.000" stop-color="#000004"/><stop offset="0.050" stop-color="#000004"/><stop offset="0.100" stop-color="#000004"/><stop offset="0.150" stop-color="#09061f"/><stop offset="0.200" stop-color="#230c4c"/><stop offset="0.250" stop-color="#470b6a"/><stop offset="0.300" stop-color="#6a176e"/><stop offset="0.350" stop-color="#8c2369"/><stop offset="0.400" stop-color="#a52c60"/><stop offset="0.450" stop-color="#b3325a"/><stop offset="0.500" stop-color="#b43359"/><stop offset="0.550" stop-color="#ad305d"/><stop offset="0.600" stop-color="#9b2964"/><stop offset="0.650" stop-color="#82206c"/><stop offset="0.700" stop-color="#64156e"/><stop offset="0.750" stop-color="#440a68"/><stop offset="0.800" stop-color="#210c4a"/><stop offset="0.850" stop-color="#09061f"/><stop offset="0.900" stop-color="#000004"/><stop offset="0.950" stop-color="#000004"/><stop offset="1.000" stop-color="#000004"/></linearGradient>
<linearGradient id="hc37" x1="0" y1="0" x2="0" y2="1"><stop offset="0.000" stop-color="#000004"/><stop offset="0.050" stop-color="#000004"/><stop offset="0.100" stop-color="#010005"/><stop offset="0.150" stop-color="#0d0829"/><stop offset="0.200" stop-color="#2f0a5b"/><stop offset="0.250" stop-color="#57106e"/><stop offset="0.300" stop-color="#7c1d6d"/><stop offset="0.350" stop-color="#9b2964"/><stop offset="0.400" stop-color="#ae305c"/><stop offset="0.450" stop-color="#b63458"/><stop offset="0.500" stop-color="#b43359"/><stop offset="0.550" stop-color="#ad305d"/><stop offset="0.600" stop-color="#9d2964"/><stop offset="0.650" stop-color="#85216b"/><stop offset="0.700" stop-color="#67166e"/><stop offset="0.750" stop-color="#450a69"/><stop offset="0.800" stop-color="#210c4a"/><stop offset="0.850" stop-color="#09061f"/><stop offset="0.900" stop-color="#000004"/><stop offset="0.950" stop-color="#000004"/><stop offset="1.000" stop-color="#000004"/></linearGradient>
<linearGradient id="hc38" x1="0" y1="0" x2="0" y2="1"><stop offset="0.000" stop-color="#000004"/><stop offset="0.050" stop-color="#000004"/><stop offset="0.100" stop-color="#000004"/><stop offset="0.150" stop-color="#0b0724"/><stop offset="0.200" stop-color="#290b55"/><stop offset="0.250" stop-color="#540f6d"/><stop offset="0.300" stop-color="#7f1e6c"/><stop offset="0.350" stop-color="#a92e5e"/><stop offset="0.400" stop-color="#ce4347"/><stop offset="0.450" stop-color="#e35933"/><stop offset="0.500" stop-color="#e7672c"/><stop offset="0.550" stop-color="#e6662d"/><stop offset="0.600" stop-color="#db503b"/><stop offset="0.650" stop-color="#ba3655"/><stop offset="0.700" stop-color="#8c2369"/><stop offset="0.750" stop-color="#5a116e"/><stop offset="0.800" stop-color="#2d0b59"/><stop offset="0.850" stop-color="#0c0826"/><stop offset="0.900" stop-color="#000004"/><stop offset="0.950" stop-color="#000004"/><stop offset="1.000" stop-color="#000004"/></linearGradient>
<linearGradient id="hc39" x1="0" y1="0" x2="0" y2="1"><stop offset="0.000" stop-color="#000004"/><stop offset="0.050" stop-color="#000004"/><stop offset="0.100" stop-color="#000004"/><stop offset="0.150" stop-color="#0a0722"/><stop offset="0.200" stop-color="#260c51"/><stop offset="0.250" stop-color="#4c0c6b"/><stop offset="0.300" stop-color="#71196e"/><stop offset="0.350" stop-color="#932667"/><stop offset="0.400" stop-color="#b0315b"/><stop offset="0.450" stop-color="#c63d4d"/><stop offset="0.500" stop-color="#d34743"/><stop offset="0.550" stop-color="#d84c3e"/><stop offset="0.600" stop-color="#d34743"/><stop offset="0.650" stop-color="#bc3754"/><stop offset="0.700" stop-color="#952667"/><stop offset="0.750" stop-color="#64156e"/><stop offset="0.800" stop-color="#340a5f"/><stop offset="0.850" stop-color="#0e092b"/><stop offset="0.900" stop-color="#010005"/><stop offset="0.950" stop-color="#000004"/><stop offset="1.000" stop-color="#000004"/></linearGradient>
<linearGradient id="hc40" x1="0" y1="0" x2="0" y2="1"><stop offset="0.000" stop-color="#000004"/><stop offset="0.050" stop-color="#000004"/><stop offset="0.100" stop-color="#000004"/><stop offset="0.150" stop-color="#08051d"/><stop offset="0.200" stop-color="#1e0c45"/><stop offset="0.250" stop-color="#3e0966"/><stop offset="0.300" stop-color="#5d126e"/><stop offset="0.350" stop-color="#781c6d"/><stop offset="0.400" stop-color="#8d2369"/><stop offset="0.450" stop-color="#9a2865"/><stop offset="0.500" stop-color="#9d2964"/><stop offset="0.550" stop-color="#9a2865"/><stop offset="0.600" stop-color="#8f2469"/><stop offset="0.650" stop-color="#781c6d"/><stop offset="0.700" stop-color="#5d126e"/><stop offset="0.750" stop-color="#3e0966"/><stop offset="0.800" stop-color="#1e0c45"/><stop offset="0.850" stop-color="#08051d"/><stop offset="0.900" stop-color="#000004"/><stop offset="0.950" stop-color="#000004"/><stop offset="1.000" stop-color="#000004"/></linearGradient>
<linearGradient id="hc41" x1="0" y1="0" x2="0" y2="1"><stop offset="0.000" stop-color="#000004"/><stop offset="0.050" stop-color="#000004"/><stop offset="0.100" stop-color="#000004"/><stop offset="0.150" stop-color="#07051b"/><stop offset="0.200" stop-color="#180c3c"/><stop offset="0.250" stop-color="#320a5e"/><stop offset="0.300" stop-color="#4f0d6c"/><stop offset="0.350" stop-color="#69166e"/><stop offset="0.400" stop-color="#7f1e6c"/><stop offset="0.450" stop-color="#8c2369"/><stop offset="0.500" stop-color="#8f2469"/><stop offset="0.550" stop-color="#88226a"/><stop offset="0.600" stop-color="#7a1d6d"/><stop offset="0.650" stop-color="#65156e"/><stop offset="0.700" stop-color="#4c0c6b"/><stop offset="0.750" stop-color="#310a5c"/><stop offset="0.800" stop-color="#180c3c"/><stop offset="0.850" stop-color="#060419"/><stop offset="0.900" stop-color="#000004"/><stop offset="0.950" stop-color="#000004"/><stop offset="1.000" stop-color="#000004"/></linearGradient>
<linearGradient id="hc42" x1="0" y1="0" x2="0" y2="1"><stop offset="0.000" stop-color="#000004"/><stop offset="0.050" stop-color="#000004"/><stop offset="0.100" stop-color="#000004"/><stop offset="0.150" stop-color="#0a0722"/><stop offset="0.200" stop-color="#230c4c"/><stop offset="0.250" stop-color="#490b6a"/><stop offset="0.300" stop-color="#6f196e"/><stop offset="0.350" stop-color="#932667"/><stop offset="0.400" stop-color="#b1325a"/><stop offset="0.450" stop-color="#c33b4f"/><stop offset="0.500" stop-color="#c73e4c"/><stop offset="0.550" stop-color="#c03a51"/><stop offset="0.600" stop-color="#ad305d"/><stop offset="0.650" stop-color="#8f2469"/><stop offset="0.700" stop-color="#6c186e"/><stop offset="0.750" stop-color="#470b6a"/><stop offset="0.800" stop-color="#230c4c"/><stop offset="0.850" stop-color="#09061f"/><stop offset="0.900" stop-color="#000004"/><stop offset="0.950" stop-color="#000004"/><stop offset="1.000" stop-color="#000004"/></linearGradient>
<linearGradient id="hc43" x1="0" y1="0" x2="0" y2="1"><stop offset="0.000" stop-color="#000004"/><stop offset="0.050" stop-color="#000004"/><stop offset="0.100" stop-color="#000004"/><stop offset="0.150" stop-color="#0c0826"/><stop offset="0.200" stop-color="#2d0b59"/><stop offset="0.250" stop-color="#5c126e"/><stop offset="0.300" stop-color="#8d2369"/><stop offset="0.350" stop-color="#bd3853"/><stop offset="0.400" stop-color="#de5238"/><stop offset="0.450" stop-color="#e7672c"/><stop offset="0.500" stop-color="#e7692b"/><stop offset="0.550" stop-color="#e35a32"/><stop offset="0.600" stop-color="#ce4347"/><stop offset="0.650" stop-color="#ab2f5e"/><stop offset="0.700" stop-color="#801f6c"/><stop offset="0.750" stop-color="#550f6d"/><stop offset="0.800" stop-color="#290b55"/><stop offset="0.850" stop-color="#0b0724"/><stop offset="0.900" stop-color="#000004"/><stop offset="0.950" stop-color="#000004"/><stop offset="1.000" stop-color="#000004"/></linearGradient>
<linearGradient id="hc44" x1="0" y1="0" x2="0" y2="1"><stop offset="0.000" stop-color="#000004"/><stop offset="0.050" stop-color="#000004"/><stop offset="0.100" stop-color="#000004"/><stop offset="0.150" stop-color="#09061f"/><stop offset="0.200" stop-color="#210c4a"/><stop offset="0.250" stop-color="#440a68"/><stop offset="0.300" stop-color="#64156e"/><stop offset="0.350" stop-color="#801f6c"/><stop offset="0.400" stop-color="#982766"/><stop offset="0.450" stop-color="#a62d60"/><stop offset="0.500" stop-color="#ad305d"/><stop offset="0.550" stop-color="#a92e5e"/><stop offset="0.600" stop-color="#9f2a63"/><stop offset="0.650" stop-color="#87216b"/><stop offset="0.700" stop-color="#69166e"/><stop offset="0.750" stop-color="#470b6a"/><stop offset="0.800" stop-color="#230c4c"/><stop offset="0.850" stop-color="#09061f"/><stop offset="0.900" stop-color="#000004"/><stop offset="0.950" stop-color="#000004"/><stop offset="1.000" stop-color="#000004"/></linearGradient>
<linearGradient id="hc45" x1="0" y1="0" x2="0" y2="1"><stop offset="0.000" stop-color="#000004"/><stop offset="0.050" stop-color="#000004"/><stop offset="0.100" stop-color="#000004"/><stop offset="0.150" stop-color="#08051d"/><stop offset="0.200" stop-color="#1e0c45"/><stop offset="0.250" stop-color="#3e0966"/><stop offset="0.300" stop-color="#5d126e"/><stop offset="0.350" stop-color="#7c1d6d"/><stop offset="0.400" stop-color="#932667"/><stop offset="0.450" stop-color="#a22b62"/><stop offset="0.500" stop-color="#a32c61"/><stop offset="0.550" stop-color="#9d2964"/><stop offset="0.600" stop-color="#8c2369"/><stop offset="0.650" stop-color="#741a6e"/><stop offset="0.700" stop-color="#59106e"/><stop offset="0.750" stop-color="#390963"/><stop offset="0.800" stop-color="#1c0c43"/><stop offset="0.850" stop-color="#08051d"/><stop offset="0.900" stop-color="#000004"/><stop offset="0.950" stop-color="#000004"/><stop offset="1.000" stop-color="#000004"/></linearGradient>
<linearGradient id="hc46" x1="0" y1="0" x2="0" y2="1"><stop offset="0.000" stop-color="#000004"/><stop offset="0.050" stop-color="#000004"/><stop offset="0.100" stop-color="#000004"/><stop offset="0.150" stop-color="#09061f"/><stop offset="0.200" stop-color="#210c4a"/><stop offset="0.250" stop-color="#440a68"/><stop offset="0.300" stop-color="#64156e"/><stop offset="0.350" stop-color="#84206b"/><stop offset="0.400" stop-color="#9d2964"/><stop offset="0.450" stop-color="#ad305d"/><stop offset="0.500" stop-color="#b1325a"/><stop offset="0.550" stop-color="#ad305d"/><stop offset="0.600" stop-color="#9d2964"/><stop offset="0.650" stop-color="#84206b"/><stop offset="0.700" stop-color="#65156e"/><stop offset="0.750" stop-color="#440a68"/><stop offset="0.800" stop-color="#210c4a"/><stop offset="0.850" stop-color="#09061f"/><stop offset="0.900" stop-color="#000004"/><stop offset="0.950" stop-color="#000004"/><stop offset="1.000" stop-color="#000004"/></linearGradient>
<linearGradient id="hc47" x1="0" y1="0" x2="0" y2="1"><stop offset="0.000" stop-color="#000004"/><stop offset="0.050" stop-color="#000004"/><stop offset="0.100" stop-color="#010005"/><stop offset="0.150" stop-color="#0b0724"/><stop offset="0.200" stop-color="#240c4f"/><stop offset="0.250" stop-color="#490b6a"/><stop offset="0.300" stop-color="#6c186e"/><stop offset="0.350" stop-color="#87216b"/><stop offset="0.400" stop-color="#9a2865"/><stop offset="0.450" stop-color="#a02a63"/><stop offset="0.500" stop-color="#9b2964"/><stop offset="0.550" stop-color="#902568"/><stop offset="0.600" stop-color="#7f1e6c"/><stop offset="0.650" stop-color="#6a176e"/><stop offset="0.700" stop-color="#520e6d"/><stop offset="0.750" stop-color="#360961"/><stop offset="0.800" stop-color="#190c3e"/><stop offset="0.850" stop-color="#07051b"/><stop offset="0.900" stop-color="#000004"/><stop offset="0.950" stop-color="#000004"/><stop offset="1.000" stop-color="#000004"/></linearGradient>
<linearGradient id="hc48" x1="0" y1="0" x2="0" y2="1"><stop offset="0.000" stop-color="#000004"/><stop offset="0.050" stop-color="#000004"/><stop offset="0.100" stop-color="#000004"/><stop offset="0.150" stop-color="#08051d"/><stop offset="0.200" stop-color="#1e0c45"/><stop offset="0.250" stop-color="#3b0964"/><stop offset="0.300" stop-color="#59106e"/><stop offset="0.350" stop-color="#721a6e"/><stop offset="0.400" stop-color="#84206b"/><stop offset="0.450" stop-color="#8c2369"/><stop offset="0.500" stop-color="#8d2369"/><stop offset="0.550" stop-color="#87216b"/><stop offset="0.600" stop-color="#7c1d6d"/><stop offset="0.650" stop-color="#69166e"/><stop offset="0.700" stop-color="#520e6d"/><stop offset="0.750" stop-color="#360961"/><stop offset="0.800" stop-color="#1b0c41"/><stop offset="0.850" stop-color="#07051b"/><stop offset="0.900" stop-color="#000004"/><stop offset="0.950" stop-color="#000004"/><stop offset="1.000" stop-color="#000004"/></linearGradient>
<linearGradient id="hc49" x1="0" y1="0" x2="0" y2="1"><stop offset="0.000" stop-color="#000004"/><stop offset="0.050" stop-color="#000004"/><stop offset="0.100" stop-color="#000004"/><stop offset="0.150" stop-color="#09061f"/><stop offset="0.200" stop-color="#1e0c45"/><stop offset="0.250" stop-color="#3d0965"/><stop offset="0.300" stop-color="#5a116e"/><stop offset="0.350" stop-color="#721a6e"/><stop offset="0.400" stop-color="#84206b"/><stop offset="0.450" stop-color="#8c2369"/><stop offset="0.500" stop-color="#8c2369"/><stop offset="0.550" stop-color="#85216b"/><stop offset="0.600" stop-color="#7a1d6d"/><stop offset="0.650" stop-color="#67166e"/><stop offset="0.700" stop-color="#510e6c"/><stop offset="0.750" stop-color="#360961"/><stop offset="0.800" stop-color="#190c3e"/><stop offset="0.850" stop-color="#07051b"/><stop offset="0.900" stop-color="#000004"/><stop offset="0.950" stop-color="#000004"/><stop offset="1.000" stop-color="#000004"/></linearGradient>
<linearGradient id="hc50" x1="0" y1="0" x2="0" y2="1"><stop offset="0.000" stop-color="#000004"/><stop offset="0.050" stop-color="#000004"/><stop offset="0.100" stop-color="#000004"/><stop offset="0.150" stop-color="#0a0722"/><stop offset="0.200" stop-color="#260c51"/><stop offset="0.250" stop-color="#4d0d6c"/><stop offset="0.300" stop-color="#741a6e"/><stop offset="0.350" stop-color="#952667"/><stop offset="0.400" stop-color="#ad305d"/><stop offset="0.450" stop-color="#b63458"/><stop offset="0.500" stop-color="#b1325a"/><stop offset="0.550" stop-color="#a32c61"/><stop offset="0.600" stop-color="#902568"/><stop offset="0.650" stop-color="#771c6d"/><stop offset="0.700" stop-color="#5a116e"/><stop offset="0.750" stop-color="#3b0964"/><stop offset="0.800" stop-color="#1c0c43"/><stop offset="0.850" stop-color="#08051d"/><stop offset="0.900" stop-color="#000004"/><stop offset="0.950" stop-color="#000004"/><stop offset="1.000" stop-color="#000004"/></linearGradient>
<linearGradient id="hc51" x1="0" y1="0" x2="0" y2="1"><stop offset="0.000" stop-color="#000004"/><stop offset="0.050" stop-color="#000004"/><stop offset="0.100" stop-color="#000004"/><stop offset="0.150" stop-color="#0a0722"/><stop offset="0.200" stop-color="#260c51"/><stop offset="0.250" stop-color="#4f0d6c"/><stop offset="0.300" stop-color="#7a1d6d"/><stop offset="0.350" stop-color="#a22b62"/><stop offset="0.400" stop-color="#c13a50"/><stop offset="0.450" stop-color="#d24644"/><stop offset="0.500" stop-color="#d34743"/><stop offset="0.550" stop-color="#c83f4b"/><stop offset="0.600" stop-color="#b3325a"/><stop offset="0.650" stop-color="#932667"/><stop offset="0.700" stop-color="#6f196e"/><stop offset="0.750" stop-color="#4a0c6b"/><stop offset="0.800" stop-color="#240c4f"/><stop offset="0.850" stop-color="#0a0722"/><stop offset="0.900" stop-color="#000004"/><stop offset="0.950" stop-color="#000004"/><stop offset="1.000" stop-color="#000004"/></linearGradient>
<linearGradient id="hc52" x1="0" y1="0" x2="0" y2="1"><stop offset="0.000" stop-color="#000004"/><stop offset="0.050" stop-color="#000004"/><stop offset="0.100" stop-color="#000004"/><stop offset="0.150" stop-color="#09061f"/><stop offset="0.200" stop-color="#1f0c48"/><stop offset="0.250" stop-color="#420a68"/><stop offset="0.300" stop-color="#62146e"/><stop offset="0.350" stop-color="#7f1e6c"/><stop offset="0.400" stop-color="#982766"/><stop offset="0.450" stop-color="#a92e5e"/><stop offset="0.500" stop-color="#b43359"/><stop offset="0.550" stop-color="#b93556"/><stop offset="0.600" stop-color="#b1325a"/><stop offset="0.650" stop-color="#9b2964"/><stop offset="0.700" stop-color="#7a1d6d"/><stop offset="0.750" stop-color="#540f6d"/><stop offset="0.800" stop-color="#2b0b57"/><stop offset="0.850" stop-color="#0c0826"/><stop offset="0.900" stop-color="#010005"/><stop offset="0.950" stop-color="#000004"/><stop offset="1.000" stop-color="#000004"/></linearGradient>
<linearGradient id="hc53" x1="0" y1="0" x2="0" y2="1"><stop offset="0.000" stop-color="#000004"/><stop offset="0.050" stop-color="#000004"/><stop offset="0.100" stop-color="#000004"/><stop offset="0.150" stop-color="#0a0722"/><stop offset="0.200" stop-color="#240c4f"/><stop offset="0.250" stop-color="#4a0c6b"/><stop offset="0.300" stop-color="#71196e"/><stop offset="0.350" stop-color="#922568"/><stop offset="0.400" stop-color="#ae305c"/><stop offset="0.450" stop-color="#bd3853"/><stop offset="0.500" stop-color="#c13a50"/><stop offset="0.550" stop-color="#bc3754"/><stop offset="0.600" stop-color="#ab2f5e"/><stop offset="0.650" stop-color="#902568"/><stop offset="0.700" stop-color="#6f196e"/><stop offset="0.750" stop-color="#4a0c6b"/><stop offset="0.800" stop-color="#240c4f"/><stop offset="0.850" stop-color="#0a0722"/><stop offset="0.900" stop-color="#000004"/><stop offset="0.950" stop-color="#000004"/><stop offset="1.000" stop-color="#000004"/></linearGradient>
<linearGradient id="hc54" x1="0" y1="0" x2="0" y2="1"><stop offset="0.000" stop-color="#000004"/><stop offset="0.050" stop-color="#000004"/><stop offset="0.100" stop-color="#000004"/><stop offset="0.150" stop-color="#08051d"/><stop offset="0.200" stop-color="#1e0c45"/><stop offset="0.250" stop-color="#3e0966"/><stop offset="0.300" stop-color="#5d126e"/><stop offset="0.350" stop-color="#781c6d"/><stop offset="0.400" stop-color="#902568"/><stop offset="0.450" stop-color="#a02a63"/><stop offset="0.500" stop-color="#a92e5e"/><stop offset="0.550" stop-color="#a82e5f"/><stop offset="0.600" stop-color="#9d2964"/><stop offset="0.650" stop-color="#87216b"/><stop offset="0.700" stop-color="#67166e"/><stop offset="0.750" stop-color="#450a69"/><stop offset="0.800" stop-color="#210c4a"/><stop offset="0.850" stop-color="#09061f"/><stop offset="0.900" stop-color="#000004"/><stop offset="0.950" stop-color="#000004"/><stop offset="1.000" stop-color="#000004"/></linearGradient>
<linearGradient id="hc55" x1="0" y1="0" x2="0" y2="1"><stop offset="0.000" stop-color="#000004"/><stop offset="0.050" stop-color="#000004"/><stop offset="0.100" stop-color="#000004"/><stop offset="0.150" stop-color="#09061f"/><stop offset="0.200" stop-color="#210c4a"/><stop offset="0.250" stop-color="#450a69"/><stop offset="0.300" stop-color="#69166e"/><stop offset="0.350" stop-color="#8c2369"/><stop offset="0.400" stop-color="#a92e5e"/><stop offset="0.450" stop-color="#bd3853"/><stop offset="0.500" stop-color="#c43c4e"/><stop offset="0.550" stop-color="#c03a51"/><stop offset="0.600" stop-color="#ae305c"/><stop offset="0.650" stop-color="#8f2469"/><stop offset="0.700" stop-color="#6c186e"/><stop offset="0.750" stop-color="#470b6a"/><stop offset="0.800" stop-color="#210c4a"/><stop offset="0.850" stop-color="#09061f"/><stop offset="0.900" stop-color="#000004"/><stop offset="0.950" stop-color="#000004"/><stop offset="1.000" stop-color="#000004"/></linearGradient>
<linearGradient id="hc56" x1="0" y1="0" x2="0" y2="1"><stop offset="0.000" stop-color="#000004"/><stop offset="0.050" stop-color="#000004"/><stop offset="0.100" stop-color="#000004"/><stop offset="0.150" stop-color="#060419"/><stop offset="0.200" stop-color="#160b39"/><stop offset="0.250" stop-color="#310a5c"/><stop offset="0.300" stop-color="#4c0c6b"/><stop offset="0.350" stop-color="#65156e"/><stop offset="0.400" stop-color="#781c6d"/><stop offset="0.450" stop-color="#84206b"/><stop offset="0.500" stop-color="#85216b"/><stop offset="0.550" stop-color="#7f1e6c"/><stop offset="0.600" stop-color="#71196e"/><stop offset="0.650" stop-color="#5c126e"/><stop offset="0.700" stop-color="#450a69"/><stop offset="0.750" stop-color="#2b0b57"/><stop offset="0.800" stop-color="#150b37"/><stop offset="0.850" stop-color="#060419"/><stop offset="0.900" stop-color="#000004"/><stop offset="0.950" stop-color="#000004"/><stop offset="1.000" stop-color="#000004"/></linearGradient>
<linearGradient id="hc57" x1="0" y1="0" x2="0" y2="1"><stop offset="0.000" stop-color="#000004"/><stop offset="0.050" stop-color="#000004"/><stop offset="0.100" stop-color="#000004"/><stop offset="0.150" stop-color="#050417"/><stop offset="0.200" stop-color="#140b34"/><stop offset="0.250" stop-color="#260c51"/><stop offset="0.300" stop-color="#3d0965"/><stop offset="0.350" stop-color="#4f0d6c"/><stop offset="0.400" stop-color="#5d126e"/><stop offset="0.450" stop-color="#65156e"/><stop offset="0.500" stop-color="#67166e"/><stop offset="0.550" stop-color="#64156e"/><stop offset="0.600" stop-color="#5c126e"/><stop offset="0.650" stop-color="#4d0d6c"/><stop offset="0.700" stop-color="#3b0964"/><stop offset="0.750" stop-color="#260c51"/><stop offset="0.800" stop-color="#120a32"/><stop offset="0.850" stop-color="#050417"/><stop offset="0.900" stop-color="#000004"/><stop offset="0.950" stop-color="#000004"/><stop offset="1.000" stop-color="#000004"/></linearGradient>
<linearGradient id="hc58" x1="0" y1="0" x2="0" y2="1"><stop offset="0.000" stop-color="#000004"/><stop offset="0.050" stop-color="#000004"/><stop offset="0.100" stop-color="#000004"/><stop offset="0.150" stop-color="#08051d"/><stop offset="0.200" stop-color="#1c0c43"/><stop offset="0.250" stop-color="#3d0965"/><stop offset="0.300" stop-color="#5a116e"/><stop offset="0.350" stop-color="#741a6e"/><stop offset="0.400" stop-color="#88226a"/><stop offset="0.450" stop-color="#952667"/><stop offset="0.500" stop-color="#9a2865"/><stop offset="0.550" stop-color="#972766"/><stop offset="0.600" stop-color="#8d2369"/><stop offset="0.650" stop-color="#781c6d"/><stop offset="0.700" stop-color="#5f136e"/><stop offset="0.750" stop-color="#400a67"/><stop offset="0.800" stop-color="#1f0c48"/><stop offset="0.850" stop-color="#09061f"/><stop offset="0.900" stop-color="#000004"/><stop offset="0.950" stop-color="#000004"/><stop offset="1.000" stop-color="#000004"/></linearGradient>
<linearGradient id="hc59" x1="0" y1="0" x2="0" y2="1"><stop offset="0.000" stop-color="#000004"/><stop offset="0.050" stop-color="#000004"/><stop offset="0.100" stop-color="#000004"/><stop offset="0.150" stop-color="#08051d"/><stop offset="0.200" stop-color="#1b0c41"/><stop offset="0.250" stop-color="#380962"/><stop offset="0.300" stop-color="#550f6d"/><stop offset="0.350" stop-color="#6f196e"/><stop offset="0.400" stop-color="#84206b"/><stop offset="0.450" stop-color="#922568"/><stop offset="0.500" stop-color="#982766"/><stop offset="0.550" stop-color="#952667"/><stop offset="0.600" stop-color="#8a226a"/><stop offset="0.650" stop-color="#751b6e"/><stop offset="0.700" stop-color="#5a116e"/><stop offset="0.750" stop-color="#3b0964"/><stop offset="0.800" stop-color="#1c0c43"/><stop offset="0.850" stop-color="#08051d"/><stop offset="0.900" stop-color="#000004"/><stop offset="0.950" stop-color="#000004"/><stop offset="1.000" stop-color="#000004"/></linearGradient>
<linearGradient id="hc60" x1="0" y1="0" x2="0" y2="1"><stop offset="0.000" stop-color="#000004"/><stop offset="0.050" stop-color="#000004"/><stop offset="0.100" stop-color="#000004"/><stop offset="0.150" stop-color="#0b0724"/><stop offset="0.200" stop-color="#280b53"/><stop offset="0.250" stop-color="#510e6c"/><stop offset="0.300" stop-color="#781c6d"/><stop offset="0.350" stop-color="#9f2a63"/><stop offset="0.400" stop-color="#b93556"/><stop offset="0.450" stop-color="#c33b4f"/><stop offset="0.500" stop-color="#c13a50"/><stop offset="0.550" stop-color="#b63458"/><stop offset="0.600" stop-color="#a22b62"/><stop offset="0.650" stop-color="#85216b"/><stop offset="0.700" stop-color="#65156e"/><stop offset="0.750" stop-color="#440a68"/><stop offset="0.800" stop-color="#210c4a"/><stop offset="0.850" stop-color="#09061f"/><stop offset="0.900" stop-color="#000004"/><stop offset="0.950" stop-color="#000004"/><stop offset="1.000" stop-color="#000004"/></linearGradient>
<linearGradient id="hc61" x1="0" y1="0" x2="0" y2="1"><stop offset="0.000" stop-color="#000004"/><stop offset="0.050" stop-color="#000004"/><stop offset="0.100" stop-color="#000004"/><stop offset="0.150" stop-color="#0a0722"/><stop offset="0.200" stop-color="#240c4f"/><stop offset="0.250" stop-color="#4c0c6b"/><stop offset="0.300" stop-color="#71196e"/><stop offset="0.350" stop-color="#952667"/><stop offset="0.400" stop-color="#b43359"/><stop offset="0.450" stop-color="#c73e4c"/><stop offset="0.500" stop-color="#ce4347"/><stop offset="0.550" stop-color="#c83f4b"/><stop offset="0.600" stop-color="#b73557"/><stop offset="0.650" stop-color="#982766"/><stop offset="0.700" stop-color="#721a6e"/><stop offset="0.750" stop-color="#4c0c6b"/><stop offset="0.800" stop-color="#240c4f"/><stop offset="0.850" stop-color="#0a0722"/><stop offset="0.900" stop-color="#000004"/><stop offset="0.950" stop-color="#000004"/><stop offset="1.000" stop-color="#000004"/></linearGradient>
<linearGradient id="hc62" x1="0" y1="0" x2="0" y2="1"><stop offset="0.000" stop-color="#000004"/><stop offset="0.050" stop-color="#000004"/><stop offset="0.100" stop-color="#000004"/><stop offset="0.150" stop-color="#0b0724"/><stop offset="0.200" stop-color="#2b0b57"/><stop offset="0.250" stop-color="#550f6d"/><stop offset="0.300" stop-color="#801f6c"/><stop offset="0.350" stop-color="#a82e5f"/><stop offset="0.400" stop-color="#c63d4d"/><stop offset="0.450" stop-color="#d74b3f"/><stop offset="0.500" stop-color="#dd513a"/><stop offset="0.550" stop-color="#da4e3c"/><stop offset="0.600" stop-color="#cc4248"/><stop offset="0.650" stop-color="#b0315b"/><stop offset="0.700" stop-color="#87216b"/><stop offset="0.750" stop-color="#59106e"/><stop offset="0.800" stop-color="#2d0b59"/><stop offset="0.850" stop-color="#0c0826"/><stop offset="0.900" stop-color="#000004"/><stop offset="0.950" stop-color="#000004"/><stop offset="1.000" stop-color="#000004"/></linearGradient>
<linearGradient id="hc63" x1="0" y1="0" x2="0" y2="1"><stop offset="0.000" stop-color="#000004"/><stop offset="0.050" stop-color="#000004"/><stop offset="0.100" stop-color="#000004"/><stop offset="0.150" stop-color="#0b0724"/><stop offset="0.200" stop-color="#2b0b57"/><stop offset="0.250" stop-color="#550f6d"/><stop offset="0.300" stop-color="#82206c"/><stop offset="0.350" stop-color="#ab2f5e"/><stop offset="0.400" stop-color="#cb4149"/><stop offset="0.450" stop-color="#e05536"/><stop offset="0.500" stop-color="#e5612f"/><stop offset="0.550" stop-color="#e45f30"/><stop offset="0.600" stop-color="#da4e3c"/><stop offset="0.650" stop-color="#bc3754"/><stop offset="0.700" stop-color="#8d2369"/><stop offset="0.750" stop-color="#5c126e"/><stop offset="0.800" stop-color="#2f0a5b"/><stop offset="0.850" stop-color="#0c0826"/><stop offset="0.900" stop-color="#000004"/><stop offset="0.950" stop-color="#000004"/><stop offset="1.000" stop-color="#000004"/></linearGradient>
<linearGradient id="hc64" x1="0" y1="0" x2="0" y2="1"><stop offset="0.000" stop-color="#000004"/><stop offset="0.050" stop-color="#000004"/><stop offset="0.100" stop-color="#000004"/><stop offset="0.150" stop-color="#0c0826"/><stop offset="0.200" stop-color="#2d0b59"/><stop offset="0.250" stop-color="#59106e"/><stop offset="0.300" stop-color="#85216b"/><stop offset="0.350" stop-color="#b0315b"/><stop offset="0.400" stop-color="#d24644"/><stop offset="0.450" stop-color="#e45e31"/><stop offset="0.500" stop-color="#e97128"/><stop offset="0.550" stop-color="#e97726"/><stop offset="0.600" stop-color="#e6662d"/><stop offset="0.650" stop-color="#d04545"/><stop offset="0.700" stop-color="#a02a63"/><stop offset="0.750" stop-color="#69166e"/><stop offset="0.800" stop-color="#360961"/><stop offset="0.850" stop-color="#0d0829"/><stop offset="0.900" stop-color="#000004"/><stop offset="0.950" stop-color="#000004"/><stop offset="1.000" stop-color="#000004"/></linearGradient>
<linearGradient id="hc65" x1="0" y1="0" x2="0" y2="1"><stop offset="0.000" stop-color="#000004"/><stop offset="0.050" stop-color="#000004"/><stop offset="0.100" stop-color="#000004"/><stop offset="0.150" stop-color="#0a0722"/><stop offset="0.200" stop-color="#260c51"/><stop offset="0.250" stop-color="#4c0c6b"/><stop offset="0.300" stop-color="#71196e"/><stop offset="0.350" stop-color="#922568"/><stop offset="0.400" stop-color="#ad305d"/><stop offset="0.450" stop-color="#bc3754"/><stop offset="0.500" stop-color="#c03a51"/><stop offset="0.550" stop-color="#bc3754"/><stop offset="0.600" stop-color="#ad305d"/><stop offset="0.650" stop-color="#922568"/><stop offset="0.700" stop-color="#71196e"/><stop offset="0.750" stop-color="#4c0c6b"/><stop offset="0.800" stop-color="#260c51"/><stop offset="0.850" stop-color="#0a0722"/><stop offset="0.900" stop-color="#000004"/><stop offset="0.950" stop-color="#000004"/><stop offset="1.000" stop-color="#000004"/></linearGradient>
<linearGradient id="hc66" x1="0" y1="0" x2="0" y2="1"><stop offset="0.000" stop-color="#000004"/><stop offset="0.050" stop-color="#000004"/><stop offset="0.100" stop-color="#000004"/><stop offset="0.150" stop-color="#09061f"/><stop offset="0.200" stop-color="#1f0c48"/><stop offset="0.250" stop-color="#420a68"/><stop offset="0.300" stop-color="#65156e"/><stop offset="0.350" stop-color="#87216b"/><stop offset="0.400" stop-color="#a32c61"/><stop offset="0.450" stop-color="#b63458"/><stop offset="0.500" stop-color="#bd3853"/><stop offset="0.550" stop-color="#b73557"/><stop offset="0.600" stop-color="#a62d60"/><stop offset="0.650" stop-color="#8a226a"/><stop offset="0.700" stop-color="#67166e"/><stop offset="0.750" stop-color="#440a68"/><stop offset="0.800" stop-color="#210c4a"/><stop offset="0.850" stop-color="#09061f"/><stop offset="0.900" stop-color="#000004"/><stop offset="0.950" stop-color="#000004"/><stop offset="1.000" stop-color="#000004"/></linearGradient>
<linearGradient id="hc67" x1="0" y1="0" x2="0" y2="1"><stop offset="0.000" stop-color="#000004"/><stop offset="0.050" stop-color="#000004"/><stop offset="0.100" stop-color="#000004"/><stop offset="0.150" stop-color="#08051d"/><stop offset="0.200" stop-color="#1c0c43"/><stop offset="0.250" stop-color="#3b0964"/><stop offset="0.300" stop-color="#59106e"/><stop offset="0.350" stop-color="#751b6e"/><stop offset="0.400" stop-color="#8d2369"/><stop offset="0.450" stop-color="#a02a63"/><stop offset="0.500" stop-color="#ad305d"/><stop offset="0.550" stop-color="#b1325a"/><stop offset="0.600" stop-color="#a82e5f"/><stop offset="0.650" stop-color="#902568"/><stop offset="0.700" stop-color="#71196e"/><stop offset="0.750" stop-color="#4a0c6b"/><stop offset="0.800" stop-color="#240c4f"/><stop offset="0.850" stop-color="#0a0722"/><stop offset="0.900" stop-color="#000004"/><stop offset="0.950" stop-color="#000004"/><stop offset="1.000" stop-color="#000004"/></linearGradient>
<linearGradient id="hc68" x1="0" y1="0" x2="0" y2="1"><stop offset="0.000" stop-color="#000004"/><stop offset="0.050" stop-color="#000004"/><stop offset="0.100" stop-color="#000004"/><stop offset="0.150" stop-color="#08051d"/><stop offset="0.200" stop-color="#1e0c45"/><stop offset="0.250" stop-color="#3e0966"/><stop offset="0.300" stop-color="#61136e"/><stop offset="0.350" stop-color="#7f1e6c"/><stop offset="0.400" stop-color="#9a2865"/><stop offset="0.450" stop-color="#a92e5e"/><stop offset="0.500" stop-color="#ae305c"/><stop offset="0.550" stop-color="#a82e5f"/><stop offset="0.600" stop-color="#972766"/><stop offset="0.650" stop-color="#7d1e6d"/><stop offset="0.700" stop-color="#5f136e"/><stop offset="0.750" stop-color="#3e0966"/><stop offset="0.800" stop-color="#1e0c45"/><stop offset="0.850" stop-color="#08051d"/><stop offset="0.900" stop-color="#000004"/><stop offset="0.950" stop-color="#000004"/><stop offset="1.000" stop-color="#000004"/></linearGradient>
<linearGradient id="hc69" x1="0" y1="0" x2="0" y2="1"><stop offset="0.000" stop-color="#000004"/><stop offset="0.050" stop-color="#000004"/><stop offset="0.100" stop-color="#000004"/><stop offset="0.150" stop-color="#08051d"/><stop offset="0.200" stop-color="#1e0c45"/><stop offset="0.250" stop-color="#3d0965"/><stop offset="0.300" stop-color="#5c126e"/><stop offset="0.350" stop-color="#751b6e"/><stop offset="0.400" stop-color="#88226a"/><stop offset="0.450" stop-color="#922568"/><stop offset="0.500" stop-color="#922568"/><stop offset="0.550" stop-color="#8a226a"/><stop offset="0.600" stop-color="#7c1d6d"/><stop offset="0.650" stop-color="#69166e"/><stop offset="0.700" stop-color="#510e6c"/><stop offset="0.750" stop-color="#360961"/><stop offset="0.800" stop-color="#190c3e"/><stop offset="0.850" stop-color="#07051b"/><stop offset="0.900" stop-color="#000004"/><stop offset="0.950" stop-color="#000004"/><stop offset="1.000" stop-color="#000004"/></linearGradient>
<linearGradient id="hc70" x1="0" y1="0" x2="0" y2="1"><stop offset="0.000" stop-color="#000004"/><stop offset="0.050" stop-color="#000004"/><stop offset="0.100" stop-color="#000004"/><stop offset="0.150" stop-color="#08051d"/><stop offset="0.200" stop-color="#1c0c43"/><stop offset="0.250" stop-color="#3b0964"/><stop offset="0.300" stop-color="#5c126e"/><stop offset="0.350" stop-color="#7a1d6d"/><stop offset="0.400" stop-color="#972766"/><stop offset="0.450" stop-color="#a92e5e"/><stop offset="0.500" stop-color="#b3325a"/><stop offset="0.550" stop-color="#b1325a"/><stop offset="0.600" stop-color="#a22b62"/><stop offset="0.650" stop-color="#85216b"/><stop offset="0.700" stop-color="#64156e"/><stop offset="0.750" stop-color="#420a68"/><stop offset="0.800" stop-color="#1f0c48"/><stop offset="0.850" stop-color="#08051d"/><stop offset="0.900" stop-color="#000004"/><stop offset="0.950" stop-color="#000004"/><stop offset="1.000" stop-color="#000004"/></linearGradient>
<linearGradient id="hc71" x1="0" y1="0" x2="0" y2="1"><stop offset="0.000" stop-color="#000004"/><stop offset="0.050" stop-color="#000004"/><stop offset="0.100" stop-color="#000004"/><stop offset="0.150" stop-color="#09061f"/><stop offset="0.200" stop-color="#1f0c48"/><stop offset="0.250" stop-color="#420a68"/><stop offset="0.300" stop-color="#62146e"/><stop offset="0.350" stop-color="#801f6c"/><stop offset="0.400" stop-color="#9a2865"/><stop offset="0.450" stop-color="#ae305c"/><stop offset="0.500" stop-color="#b93556"/><stop offset="0.550" stop-color="#bd3853"/><stop offset="0.600" stop-color="#b3325a"/><stop offset="0.650" stop-color="#9b2964"/><stop offset="0.700" stop-color="#781c6d"/><stop offset="0.750" stop-color="#510e6c"/><stop offset="0.800" stop-color="#280b53"/><stop offset="0.850" stop-color="#0b0724"/><stop offset="0.900" stop-color="#000004"/><stop offset="0.950" stop-color="#000004"/><stop offset="1.000" stop-color="#000004"/></linearGradient>
<linearGradient id="hc72" x1="0" y1="0" x2="0" y2="1"><stop offset="0.000" stop-color="#000004"/><stop offset="0.050" stop-color="#000004"/><stop offset="0.100" stop-color="#010005"/><stop offset="0.150" stop-color="#0d0829"/><stop offset="0.200" stop-color="#310a5c"/><stop offset="0.250" stop-color="#5d126e"/><stop offset="0.300" stop-color="#8d2369"/><stop offset="0.350" stop-color="#b73557"/><stop offset="0.400" stop-color="#d04545"/><stop offset="0.450" stop-color="#d84c3e"/><stop offset="0.500" stop-color="#d34743"/><stop offset="0.550" stop-color="#c63d4d"/><stop offset="0.600" stop-color="#ae305c"/><stop offset="0.650" stop-color="#902568"/><stop offset="0.700" stop-color="#6d186e"/><stop offset="0.750" stop-color="#4a0c6b"/><stop offset="0.800" stop-color="#240c4f"/><stop offset="0.850" stop-color="#0a0722"/><stop offset="0.900" stop-color="#000004"/><stop offset="0.950" stop-color="#000004"/><stop offset="1.000" stop-color="#000004"/></linearGradient>
<linearGradient id="hc73" x1="0" y1="0" x2="0" y2="1"><stop offset="0.000" stop-color="#000004"/><stop offset="0.050" stop-color="#000004"/><stop offset="0.100" stop-color="#000004"/><stop offset="0.150" stop-color="#0a0722"/><stop offset="0.200" stop-color="#240c4f"/><stop offset="0.250" stop-color="#4a0c6b"/><stop offset="0.300" stop-color="#71196e"/><stop offset="0.350" stop-color="#952667"/><stop offset="0.400" stop-color="#b1325a"/><stop offset="0.450" stop-color="#c33b4f"/><stop offset="0.500" stop-color="#c63d4d"/><stop offset="0.550" stop-color="#bf3952"/><stop offset="0.600" stop-color="#ab2f5e"/><stop offset="0.650" stop-color="#8f2469"/><stop offset="0.700" stop-color="#6c186e"/><stop offset="0.750" stop-color="#490b6a"/><stop offset="0.800" stop-color="#230c4c"/><stop offset="0.850" stop-color="#09061f"/><stop offset="0.900" stop-color="#000004"/><stop offset="0.950" stop-color="#000004"/><stop offset="1.000" stop-color="#000004"/></linearGradient>
<linearGradient id="hc74" x1="0" y1="0" x2="0" y2="1"><stop offset="0.000" stop-color="#000004"/><stop offset="0.050" stop-color="#000004"/><stop offset="0.100" stop-color="#000004"/><stop offset="0.150" stop-color="#09061f"/><stop offset="0.200" stop-color="#1e0c45"/><stop offset="0.250" stop-color="#3e0966"/><stop offset="0.300" stop-color="#5f136e"/><stop offset="0.350" stop-color="#7a1d6d"/><stop offset="0.400" stop-color="#8d2369"/><stop offset="0.450" stop-color="#952667"/><stop offset="0.500" stop-color="#932667"/><stop offset="0.550" stop-color="#8a226a"/><stop offset="0.600" stop-color="#7c1d6d"/><stop offset="0.650" stop-color="#67166e"/><stop offset="0.700" stop-color="#4f0d6c"/><stop offset="0.750" stop-color="#340a5f"/><stop offset="0.800" stop-color="#190c3e"/><stop offset="0.850" stop-color="#07051b"/><stop offset="0.900" stop-color="#000004"/><stop offset="0.950" stop-color="#000004"/><stop offset="1.000" stop-color="#000004"/></linearGradient>
<linearGradient id="hc75" x1="0" y1="0" x2="0" y2="1"><stop offset="0.000" stop-color="#000004"/><stop offset="0.050" stop-color="#000004"/><stop offset="0.100" stop-color="#000004"/><stop offset="0.150" stop-color="#09061f"/><stop offset="0.200" stop-color="#210c4a"/><stop offset="0.250" stop-color="#440a68"/><stop offset="0.300" stop-color="#67166e"/><stop offset="0.350" stop-color="#8a226a"/><stop offset="0.400" stop-color="#a82e5f"/><stop offset="0.450" stop-color="#bd3853"/><stop offset="0.500" stop-color="#c63d4d"/><stop offset="0.550" stop-color="#c33b4f"/><stop offset="0.600" stop-color="#b1325a"/><stop offset="0.650" stop-color="#922568"/><stop offset="0.700" stop-color="#6d186e"/><stop offset="0.750" stop-color="#470b6a"/><stop offset="0.800" stop-color="#230c4c"/><stop offset="0.850" stop-color="#09061f"/><stop offset="0.900" stop-color="#000004"/><stop offset="0.950" stop-color="#000004"/><stop offset="1.000" stop-color="#000004"/></linearGradient>
<linearGradient id="hc76" x1="0" y1="0" x2="0" y2="1"><stop offset="0.000" stop-color="#000004"/><stop offset="0.050" stop-color="#000004"/><stop offset="0.100" stop-color="#000004"/><stop offset="0.150" stop-color="#0a0722"/><stop offset="0.200" stop-color="#240c4f"/><stop offset="0.250" stop-color="#4c0c6b"/><stop offset="0.300" stop-color="#71196e"/><stop offset="0.350" stop-color="#952667"/><stop offset="0.400" stop-color="#b3325a"/><stop offset="0.450" stop-color="#c63d4d"/><stop offset="0.500" stop-color="#cf4446"/><stop offset="0.550" stop-color="#ce4347"/><stop offset="0.600" stop-color="#bf3952"/><stop offset="0.650" stop-color="#a22b62"/><stop offset="0.700" stop-color="#7a1d6d"/><stop offset="0.750" stop-color="#510e6c"/><stop offset="0.800" stop-color="#280b53"/><stop offset="0.850" stop-color="#0b0724"/><stop offset="0.900" stop-color="#000004"/><stop offset="0.950" stop-color="#000004"/><stop offset="1.000" stop-color="#000004"/></linearGradient>
<linearGradient id="hc77" x1="0" y1="0" x2="0" y2="1"><stop offset="0.000" stop-color="#000004"/><stop offset="0.050" stop-color="#000004"/><stop offset="0.100" stop-color="#000004"/><stop offset="0.150" stop-color="#0c0826"/><stop offset="0.200" stop-color="#310a5c"/><stop offset="0.250" stop-color="#62146e"/><stop offset="0.300" stop-color="#972766"/><stop offset="0.350" stop-color="#ca404a"/><stop offset="0.400" stop-color="#e7672c"/><stop offset="0.450" stop-color="#eb8822"/><stop offset="0.500" stop-color="#eb8f21"/><stop offset="0.550" stop-color="#ea7f24"/><stop offset="0.600" stop-color="#e45c31"/><stop offset="0.650" stop-color="#c13a50"/><stop offset="0.700" stop-color="#902568"/><stop offset="0.750" stop-color="#5d126e"/><stop offset="0.800" stop-color="#2f0a5b"/><stop offset="0.850" stop-color="#0c0826"/><stop offset="0.900" stop-color="#000004"/><stop offset="0.950" stop-color="#000004"/><stop offset="1.000" stop-color="#000004"/></linearGradient>
<linearGradient id="hc78" x1="0" y1="0" x2="0" y2="1"><stop offset="0.000" stop-color="#000004"/><stop offset="0.050" stop-color="#000004"/><stop offset="0.100" stop-color="#000004"/><stop offset="0.150" stop-color="#0c0826"/><stop offset="0.200" stop-color="#310a5c"/><stop offset="0.250" stop-color="#5f136e"/><stop offset="0.300" stop-color="#902568"/><stop offset="0.350" stop-color="#bd3853"/><stop offset="0.400" stop-color="#de5238"/><stop offset="0.450" stop-color="#e7692c"/><stop offset="0.500" stop-color="#e97228"/><stop offset="0.550" stop-color="#e7692b"/><stop offset="0.600" stop-color="#dd513a"/><stop offset="0.650" stop-color="#bd3853"/><stop offset="0.700" stop-color="#8f2469"/><stop offset="0.750" stop-color="#5f136e"/><stop offset="0.800" stop-color="#310a5c"/><stop offset="0.850" stop-color="#0c0826"/><stop offset="0.900" stop-color="#000004"/><stop offset="0.950" stop-color="#000004"/><stop offset="1.000" stop-color="#000004"/></linearGradient>
<linearGradient id="hc79" x1="0" y1="0" x2="0" y2="1"><stop offset="0.000" stop-color="#000004"/><stop offset="0.050" stop-color="#000004"/><stop offset="0.100" stop-color="#000004"/><stop offset="0.150" stop-color="#0a0722"/><stop offset="0.200" stop-color="#280b53"/><stop offset="0.250" stop-color="#4f0d6c"/><stop offset="0.300" stop-color="#751b6e"/><stop offset="0.350" stop-color="#9a2865"/><stop offset="0.400" stop-color="#b63458"/><stop offset="0.450" stop-color="#ca404a"/><stop offset="0.500" stop-color="#d34743"/><stop offset="0.550" stop-color="#d74b3f"/><stop offset="0.600" stop-color="#ce4347"/><stop offset="0.650" stop-color="#b73557"/><stop offset="0.700" stop-color="#922568"/><stop offset="0.750" stop-color="#62146e"/><stop offset="0.800" stop-color="#340a5f"/><stop offset="0.850" stop-color="#0e092b"/><stop offset="0.900" stop-color="#010005"/><stop offset="0.950" stop-color="#000004"/><stop offset="1.000" stop-color="#000004"/></linearGradient>
<linearGradient id="hc80" x1="0" y1="0" x2="0" y2="1"><stop offset="0.000" stop-color="#000004"/><stop offset="0.050" stop-color="#000004"/><stop offset="0.100" stop-color="#000004"/><stop offset="0.150" stop-color="#0c0826"/><stop offset="0.200" stop-color="#2f0a5b"/><stop offset="0.250" stop-color="#5c126e"/><stop offset="0.300" stop-color="#88226a"/><stop offset="0.350" stop-color="#b0315b"/><stop offset="0.400" stop-color="#c83f4b"/><stop offset="0.450" stop-color="#d24644"/><stop offset="0.500" stop-color="#cf4446"/><stop offset="0.550" stop-color="#c63d4d"/><stop offset="0.600" stop-color="#b3325a"/><stop offset="0.650" stop-color="#972766"/><stop offset="0.700" stop-color="#741a6e"/><stop offset="0.750" stop-color="#4d0d6c"/><stop offset="0.800" stop-color="#260c51"/><stop offset="0.850" stop-color="#0a0722"/><stop offset="0.900" stop-color="#000004"/><stop offset="0.950" stop-color="#000004"/><stop offset="1.000" stop-color="#000004"/></linearGradient>
<linearGradient id="hc81" x1="0" y1="0" x2="0" y2="1"><stop offset="0.000" stop-color="#000004"/><stop offset="0.050" stop-color="#000004"/><stop offset="0.100" stop-color="#000004"/><stop offset="0.150" stop-color="#0d0829"/><stop offset="0.200" stop-color="#310a5c"/><stop offset="0.250" stop-color="#61136e"/><stop offset="0.300" stop-color="#902568"/><stop offset="0.350" stop-color="#bd3853"/><stop offset="0.400" stop-color="#dd513a"/><stop offset="0.450" stop-color="#e7692b"/><stop offset="0.500" stop-color="#ea7726"/><stop offset="0.550" stop-color="#e97328"/><stop offset="0.600" stop-color="#e45e30"/><stop offset="0.650" stop-color="#ca404a"/><stop offset="0.700" stop-color="#9a2865"/><stop offset="0.750" stop-color="#65156e"/><stop offset="0.800" stop-color="#340a5f"/><stop offset="0.850" stop-color="#0d0829"/><stop offset="0.900" stop-color="#000004"/><stop offset="0.950" stop-color="#000004"/><stop offset="1.000" stop-color="#000004"/></linearGradient>
<linearGradient id="hc82" x1="0" y1="0" x2="0" y2="1"><stop offset="0.000" stop-color="#000004"/><stop offset="0.050" stop-color="#000004"/><stop offset="0.100" stop-color="#000004"/><stop offset="0.150" stop-color="#0d0829"/><stop offset="0.200" stop-color="#360961"/><stop offset="0.250" stop-color="#69166e"/><stop offset="0.300" stop-color="#a02a63"/><stop offset="0.350" stop-color="#d24644"/><stop offset="0.400" stop-color="#e7692b"/><stop offset="0.450" stop-color="#ea7f24"/><stop offset="0.500" stop-color="#ea7f24"/><stop offset="0.550" stop-color="#e87029"/><stop offset="0.600" stop-color="#df5337"/><stop offset="0.650" stop-color="#bf3952"/><stop offset="0.700" stop-color="#922568"/><stop offset="0.750" stop-color="#61136e"/><stop offset="0.800" stop-color="#320a5e"/><stop offset="0.850" stop-color="#0d0829"/><stop offset="0.900" stop-color="#000004"/><stop offset="0.950" stop-color="#000004"/><stop offset="1.000" stop-color="#000004"/></linearGradient>
<linearGradient id="hc83" x1="0" y1="0" x2="0" y2="1"><stop offset="0.000" stop-color="#000004"/><stop offset="0.050" stop-color="#000004"/><stop offset="0.100" stop-color="#000004"/><stop offset="0.150" stop-color="#0e092b"/><stop offset="0.200" stop-color="#380962"/><stop offset="0.250" stop-color="#6a176e"/><stop offset="0.300" stop-color="#a02a63"/><stop offset="0.350" stop-color="#d04545"/><stop offset="0.400" stop-color="#e86b2a"/><stop offset="0.450" stop-color="#eb8822"/><stop offset="0.500" stop-color="#eb9622"/><stop offset="0.550" stop-color="#eb9322"/><stop offset="0.600" stop-color="#ea7c25"/><stop offset="0.650" stop-color="#dd513a"/><stop offset="0.700" stop-color="#ad305d"/><stop offset="0.750" stop-color="#721a6e"/><stop offset="0.800" stop-color="#3b0964"/><stop offset="0.850" stop-color="#10092d"/><stop offset="0.900" stop-color="#000004"/><stop offset="0.950" stop-color="#000004"/><stop offset="1.000" stop-color="#000004"/></linearGradient>
<linearGradient id="hc84" x1="0" y1="0" x2="0" y2="1"><stop offset="0.000" stop-color="#000004"/><stop offset="0.050" stop-color="#000004"/><stop offset="0.100" stop-color="#000004"/><stop offset="0.150" stop-color="#10092d"/><stop offset="0.200" stop-color="#3d0965"/><stop offset="0.250" stop-color="#741a6e"/><stop offset="0.300" stop-color="#b0315b"/><stop offset="0.350" stop-color="#e05536"/><stop offset="0.400" stop-color="#eb8622"/><stop offset="0.450" stop-color="#eba62e"/><stop offset="0.500" stop-color="#ecb33a"/><stop offset="0.550" stop-color="#ebaa31"/><stop offset="0.600" stop-color="#eb8a22"/><stop offset="0.650" stop-color="#e25734"/><stop offset="0.700" stop-color="#b1325a"/><stop offset="0.750" stop-color="#751b6e"/><stop offset="0.800" stop-color="#3d0965"/><stop offset="0.850" stop-color="#10092d"/><stop offset="0.900" stop-color="#000004"/><stop offset="0.950" stop-color="#000004"/><stop offset="1.000" stop-color="#000004"/></linearGradient>
<linearGradient id="hc85" x1="0" y1="0" x2="0" y2="1"><stop offset="0.000" stop-color="#000004"/><stop offset="0.050" stop-color="#000004"/><stop offset="0.100" stop-color="#000004"/><stop offset="0.150" stop-color="#0d0829"/><stop offset="0.200" stop-color="#340a5f"/><stop offset="0.250" stop-color="#64156e"/><stop offset="0.300" stop-color="#972766"/><stop offset="0.350" stop-color="#c63d4d"/><stop offset="0.400" stop-color="#e25734"/><stop offset="0.450" stop-color="#e86c2a"/><stop offset="0.500" stop-color="#e97128"/><stop offset="0.550" stop-color="#e7672c"/><stop offset="0.600" stop-color="#dd513a"/><stop offset="0.650" stop-color="#bf3952"/><stop offset="0.700" stop-color="#922568"/><stop offset="0.750" stop-color="#61136e"/><stop offset="0.800" stop-color="#320a5e"/><stop offset="0.850" stop-color="#0d0829"/><stop offset="0.900" stop-color="#000004"/><stop offset="0.950" stop-color="#000004"/><stop offset="1.000" stop-color="#000004"/></linearGradient>
<linearGradient id="hc86" x1="0" y1="0" x2="0" y2="1"><stop offset="0.000" stop-color="#000004"/><stop offset="0.050" stop-color="#000004"/><stop offset="0.100" stop-color="#000004"/><stop offset="0.150" stop-color="#0d0829"/><stop offset="0.200" stop-color="#340a5f"/><stop offset="0.250" stop-color="#64156e"/><stop offset="0.300" stop-color="#972766"/><stop offset="0.350" stop-color="#c73e4c"/><stop offset="0.400" stop-color="#e45e30"/><stop offset="0.450" stop-color="#ea7a26"/><stop offset="0.500" stop-color="#eb8822"/><stop offset="0.550" stop-color="#ea8323"/><stop offset="0.600" stop-color="#e7692b"/><stop offset="0.650" stop-color="#cf4446"/><stop offset="0.700" stop-color="#9f2a63"/><stop offset="0.750" stop-color="#67166e"/><stop offset="0.800" stop-color="#340a5f"/><stop offset="0.850" stop-color="#0d0829"/><stop offset="0.900" stop-color="#000004"/><stop offset="0.950" stop-color="#000004"/><stop offset="1.000" stop-color="#000004"/></linearGradient>
<linearGradient id="hc87" x1="0" y1="0" x2="0" y2="1"><stop offset="0.000" stop-color="#000004"/><stop offset="0.050" stop-color="#000004"/><stop offset="0.100" stop-color="#000004"/><stop offset="0.150" stop-color="#0e092b"/><stop offset="0.200" stop-color="#390963"/><stop offset="0.250" stop-color="#721a6e"/><stop offset="0.300" stop-color="#b3325a"/><stop offset="0.350" stop-color="#e55f30"/><stop offset="0.400" stop-color="#eb9823"/><stop offset="0.450" stop-color="#edb73d"/><stop offset="0.500" stop-color="#edb73d"/><stop offset="0.550" stop-color="#eb9c25"/><stop offset="0.600" stop-color="#e97228"/><stop offset="0.650" stop-color="#d04545"/><stop offset="0.700" stop-color="#9f2a63"/><stop offset="0.750" stop-color="#69166e"/><stop offset="0.800" stop-color="#360961"/><stop offset="0.850" stop-color="#0d0829"/><stop offset="0.900" stop-color="#000004"/><stop offset="0.950" stop-color="#000004"/><stop offset="1.000" stop-color="#000004"/></linearGradient>
<linearGradient id="hc88" x1="0" y1="0" x2="0" y2="1"><stop offset="0.000" stop-color="#000004"/><stop offset="0.050" stop-color="#000004"/><stop offset="0.100" stop-color="#000004"/><stop offset="0.150" stop-color="#0e092b"/><stop offset="0.200" stop-color="#3b0964"/><stop offset="0.250" stop-color="#751b6e"/><stop offset="0.300" stop-color="#b63458"/><stop offset="0.350" stop-color="#e6622e"/><stop offset="0.400" stop-color="#eb9c25"/><stop offset="0.450" stop-color="#edbe45"/><stop offset="0.500" stop-color="#edbe45"/><stop offset="0.550" stop-color="#eba62e"/><stop offset="0.600" stop-color="#ea7c25"/><stop offset="0.650" stop-color="#d74b3f"/><stop offset="0.700" stop-color="#a52c60"/><stop offset="0.750" stop-color="#6c186e"/><stop offset="0.800" stop-color="#380962"/><stop offset="0.850" stop-color="#0e092b"/><stop offset="0.900" stop-color="#000004"/><stop offset="0.950" stop-color="#000004"/><stop offset="1.000" stop-color="#000004"/></linearGradient>
<linearGradient id="hc89" x1="0" y1="0" x2="0" y2="1"><stop offset="0.000" stop-color="#000004"/><stop offset="0.050" stop-color="#000004"/><stop offset="0.100" stop-color="#000004"/><stop offset="0.150" stop-color="#0e092b"/><stop offset="0.200" stop-color="#390963"/><stop offset="0.250" stop-color="#6f196e"/><stop offset="0.300" stop-color="#a92e5e"/><stop offset="0.350" stop-color="#da4e3c"/><stop offset="0.400" stop-color="#ea8123"/><stop offset="0.450" stop-color="#ebac33"/><stop offset="0.500" stop-color="#eec54e"/><stop offset="0.550" stop-color="#eecb55"/><stop offset="0.600" stop-color="#ecaf36"/><stop offset="0.650" stop-color="#e97527"/><stop offset="0.700" stop-color="#c33b4f"/><stop offset="0.750" stop-color="#7f1e6c"/><stop offset="0.800" stop-color="#400a67"/><stop offset="0.850" stop-color="#110a30"/><stop offset="0.900" stop-color="#000004"/><stop offset="0.950" stop-color="#000004"/><stop offset="1.000" stop-color="#000004"/></linearGradient>
<linearGradient id="hc90" x1="0" y1="0" x2="0" y2="1"><stop offset="0.000" stop-color="#000004"/><stop offset="0.050" stop-color="#000004"/><stop offset="0.100" stop-color="#000004"/><stop offset="0.150" stop-color="#0e092b"/><stop offset="0.200" stop-color="#390963"/><stop offset="0.250" stop-color="#71196e"/><stop offset="0.300" stop-color="#a92e5e"/><stop offset="0.350" stop-color="#da4e3c"/><stop offset="0.400" stop-color="#ea7e24"/><stop offset="0.450" stop-color="#eba32a"/><stop offset="0.500" stop-color="#edb83f"/><stop offset="0.550" stop-color="#edbc43"/><stop offset="0.600" stop-color="#eba32a"/><stop offset="0.650" stop-color="#e86e29"/><stop offset="0.700" stop-color="#c03a51"/><stop offset="0.750" stop-color="#7d1e6d"/><stop offset="0.800" stop-color="#400a67"/><stop offset="0.850" stop-color="#110a30"/><stop offset="0.900" stop-color="#000004"/><stop offset="0.950" stop-color="#000004"/><stop offset="1.000" stop-color="#000004"/></linearGradient>
<linearGradient id="hc91" x1="0" y1="0" x2="0" y2="1"><stop offset="0.000" stop-color="#000004"/><stop offset="0.050" stop-color="#000004"/><stop offset="0.100" stop-color="#000004"/><stop offset="0.150" stop-color="#10092d"/><stop offset="0.200" stop-color="#3b0964"/><stop offset="0.250" stop-color="#721a6e"/><stop offset="0.300" stop-color="#ad305d"/><stop offset="0.350" stop-color="#dd513a"/><stop offset="0.400" stop-color="#ea7f24"/><stop offset="0.450" stop-color="#eba32a"/><stop offset="0.500" stop-color="#edb53b"/><stop offset="0.550" stop-color="#edb53b"/><stop offset="0.600" stop-color="#eb9c24"/><stop offset="0.650" stop-color="#e7692b"/><stop offset="0.700" stop-color="#bf3952"/><stop offset="0.750" stop-color="#7d1e6d"/><stop offset="0.800" stop-color="#420a68"/><stop offset="0.850" stop-color="#110a30"/><stop offset="0.900" stop-color="#000004"/><stop offset="0.950" stop-color="#000004"/><stop offset="1.000" stop-color="#000004"/></linearGradient>
<linearGradient id="hc92" x1="0" y1="0" x2="0" y2="1"><stop offset="0.000" stop-color="#000004"/><stop offset="0.050" stop-color="#000004"/><stop offset="0.100" stop-color="#000004"/><stop offset="0.150" stop-color="#0d0829"/><stop offset="0.200" stop-color="#340a5f"/><stop offset="0.250" stop-color="#64156e"/><stop offset="0.300" stop-color="#972766"/><stop offset="0.350" stop-color="#c33b4f"/><stop offset="0.400" stop-color="#e15635"/><stop offset="0.450" stop-color="#e86c2a"/><stop offset="0.500" stop-color="#e97328"/><stop offset="0.550" stop-color="#e86c2a"/><stop offset="0.600" stop-color="#e15635"/><stop offset="0.650" stop-color="#c33b4f"/><stop offset="0.700" stop-color="#972766"/><stop offset="0.750" stop-color="#64156e"/><stop offset="0.800" stop-color="#340a5f"/><stop offset="0.850" stop-color="#0d0829"/><stop offset="0.900" stop-color="#000004"/><stop offset="0.950" stop-color="#000004"/><stop offset="1.000" stop-color="#000004"/></linearGradient>
<linearGradient id="hc93" x1="0" y1="0" x2="0" y2="1"><stop offset="0.000" stop-color="#000004"/><stop offset="0.050" stop-color="#000004"/><stop offset="0.100" stop-color="#000004"/><stop offset="0.150" stop-color="#0d0829"/><stop offset="0.200" stop-color="#360961"/><stop offset="0.250" stop-color="#69166e"/><stop offset="0.300" stop-color="#a02a63"/><stop offset="0.350" stop-color="#d44842"/><stop offset="0.400" stop-color="#e97527"/><stop offset="0.450" stop-color="#eb9c24"/><stop offset="0.500" stop-color="#ebaa31"/><stop offset="0.550" stop-color="#eb9f27"/><stop offset="0.600" stop-color="#ea7c25"/><stop offset="0.650" stop-color="#d84c3e"/><stop offset="0.700" stop-color="#a32c61"/><stop offset="0.750" stop-color="#6a176e"/><stop offset="0.800" stop-color="#360961"/><stop offset="0.850" stop-color="#0e092b"/><stop offset="0.900" stop-color="#000004"/><stop offset="0.950" stop-color="#000004"/><stop offset="1.000" stop-color="#000004"/></linearGradient>
<linearGradient id="hc94" x1="0" y1="0" x2="0" y2="1"><stop offset="0.000" stop-color="#000004"/><stop offset="0.050" stop-color="#000004"/><stop offset="0.100" stop-color="#000004"/><stop offset="0.150" stop-color="#0e092b"/><stop offset="0.200" stop-color="#3b0964"/><stop offset="0.250" stop-color="#721a6e"/><stop offset="0.300" stop-color="#ae305c"/><stop offset="0.350" stop-color="#e05536"/><stop offset="0.400" stop-color="#ea7f24"/><stop offset="0.450" stop-color="#eb9522"/><stop offset="0.500" stop-color="#eb9121"/><stop offset="0.550" stop-color="#ea7e25"/><stop offset="0.600" stop-color="#e45e30"/><stop offset="0.650" stop-color="#c63d4d"/><stop offset="0.700" stop-color="#972766"/><stop offset="0.750" stop-color="#64156e"/><stop offset="0.800" stop-color="#340a5f"/><stop offset="0.850" stop-color="#0d0829"/><stop offset="0.900" stop-color="#000004"/><stop offset="0.950" stop-color="#000004"/><stop offset="1.000" stop-color="#000004"/></linearGradient>
<linearGradient id="hc95" x1="0" y1="0" x2="0" y2="1"><stop offset="0.000" stop-color="#000004"/><stop offset="0.050" stop-color="#000004"/><stop offset="0.100" stop-color="#000004"/><stop offset="0.150" stop-color="#0e092b"/><stop offset="0.200" stop-color="#380962"/><stop offset="0.250" stop-color="#6c186e"/><stop offset="0.300" stop-color="#a32c61"/><stop offset="0.350" stop-color="#d24644"/><stop offset="0.400" stop-color="#e7672c"/><stop offset="0.450" stop-color="#ea8123"/><stop offset="0.500" stop-color="#eb8622"/><stop offset="0.550" stop-color="#ea7e24"/><stop offset="0.600" stop-color="#e5622e"/><stop offset="0.650" stop-color="#cc4248"/><stop offset="0.700" stop-color="#9f2a63"/><stop offset="0.750" stop-color="#69166e"/><stop offset="0.800" stop-color="#360961"/><stop offset="0.850" stop-color="#0e092b"/><stop offset="0.900" stop-color="#000004"/><stop offset="0.950" stop-color="#000004"/><stop offset="1.000" stop-color="#000004"/></linearGradient>
<linearGradient id="hc96" x1="0" y1="0" x2="0" y2="1"><stop offset="0.000" stop-color="#000004"/><stop offset="0.050" stop-color="#000004"/><stop offset="0.100" stop-color="#000004"/><stop offset="0.150" stop-color="#0d0829"/><stop offset="0.200" stop-color="#340a5f"/><stop offset="0.250" stop-color="#65156e"/><stop offset="0.300" stop-color="#9a2865"/><stop offset="0.350" stop-color="#ca404a"/><stop offset="0.400" stop-color="#e5612f"/><stop offset="0.450" stop-color="#ea7c25"/><stop offset="0.500" stop-color="#ea8323"/><stop offset="0.550" stop-color="#ea7a25"/><stop offset="0.600" stop-color="#e45e30"/><stop offset="0.650" stop-color="#c83f4b"/><stop offset="0.700" stop-color="#982766"/><stop offset="0.750" stop-color="#65156e"/><stop offset="0.800" stop-color="#340a5f"/><stop offset="0.850" stop-color="#0d0829"/><stop offset="0.900" stop-color="#000004"/><stop offset="0.950" stop-color="#000004"/><stop offset="1.000" stop-color="#000004"/></linearGradient>
<linearGradient id="hc97" x1="0" y1="0" x2="0" y2="1"><stop offset="0.000" stop-color="#000004"/><stop offset="0.050" stop-color="#000004"/><stop offset="0.100" stop-color="#000004"/><stop offset="0.150" stop-color="#0e092b"/><stop offset="0.200" stop-color="#360961"/><stop offset="0.250" stop-color="#6a176e"/><stop offset="0.300" stop-color="#9f2a63"/><stop offset="0.350" stop-color="#ce4347"/><stop offset="0.400" stop-color="#e6642d"/><stop offset="0.450" stop-color="#ea7e24"/><stop offset="0.500" stop-color="#eb8622"/><stop offset="0.550" stop-color="#ea7e25"/><stop offset="0.600" stop-color="#e6642e"/><stop offset="0.650" stop-color="#ce4347"/><stop offset="0.700" stop-color="#9f2a63"/><stop offset="0.750" stop-color="#6a176e"/><stop offset="0.800" stop-color="#380962"/><stop offset="0.850" stop-color="#0e092b"/><stop offset="0.900" stop-color="#000004"/><stop offset="0.950" stop-color="#000004"/><stop offset="1.000" stop-color="#000004"/></linearGradient>
<linearGradient id="hc98" x1="0" y1="0" x2="0" y2="1"><stop offset="0.000" stop-color="#000004"/><stop offset="0.050" stop-color="#000004"/><stop offset="0.100" stop-color="#000004"/><stop offset="0.150" stop-color="#0e092b"/><stop offset="0.200" stop-color="#380962"/><stop offset="0.250" stop-color="#6c186e"/><stop offset="0.300" stop-color="#a32c61"/><stop offset="0.350" stop-color="#d34743"/><stop offset="0.400" stop-color="#e86c2a"/><stop offset="0.450" stop-color="#eb8a22"/><stop offset="0.500" stop-color="#eb9321"/><stop offset="0.550" stop-color="#eb8a22"/><stop offset="0.600" stop-color="#e86e29"/><stop offset="0.650" stop-color="#d34743"/><stop offset="0.700" stop-color="#a32c61"/><stop offset="0.750" stop-color="#6c186e"/><stop offset="0.800" stop-color="#380962"/><stop offset="0.850" stop-color="#0e092b"/><stop offset="0.900" stop-color="#000004"/><stop offset="0.950" stop-color="#000004"/><stop offset="1.000" stop-color="#000004"/></linearGradient>
<linearGradient id="hc99" x1="0" y1="0" x2="0" y2="1"><stop offset="0.000" stop-color="#000004"/><stop offset="0.050" stop-color="#000004"/><stop offset="0.100" stop-color="#000004"/><stop offset="0.150" stop-color="#0e092b"/><stop offset="0.200" stop-color="#390963"/><stop offset="0.250" stop-color="#6f196e"/><stop offset="0.300" stop-color="#a82e5f"/><stop offset="0.350" stop-color="#d84c3e"/><stop offset="0.400" stop-color="#e97527"/><stop offset="0.450" stop-color="#eb8c22"/><stop offset="0.500" stop-color="#eb8d21"/><stop offset="0.550" stop-color="#ea7f24"/><stop offset="0.600" stop-color="#e5612f"/><stop offset="0.650" stop-color="#ca404a"/><stop offset="0.700" stop-color="#9b2964"/><stop offset="0.750" stop-color="#67166e"/><stop offset="0.800" stop-color="#360961"/><stop offset="0.850" stop-color="#0d0829"/><stop offset="0.900" stop-color="#000004"/><stop offset="0.950" stop-color="#000004"/><stop offset="1.000" stop-color="#000004"/></linearGradient>
<linearGradient id="hc100" x1="0" y1="0" x2="0" y2="1"><stop offset="0.000" stop-color="#000004"/><stop offset="0.050" stop-color="#000004"/><stop offset="0.100" stop-color="#000004"/><stop offset="0.150" stop-color="#0d0829"/><stop offset="0.200" stop-color="#340a5f"/><stop offset="0.250" stop-color="#64156e"/><stop offset="0.300" stop-color="#972766"/><stop offset="0.350" stop-color="#c43c4e"/><stop offset="0.400" stop-color="#e25734"/><stop offset="0.450" stop-color="#e87228"/><stop offset="0.500" stop-color="#eb8123"/><stop offset="0.550" stop-color="#ea8124"/><stop offset="0.600" stop-color="#e87029"/><stop offset="0.650" stop-color="#da4e3c"/><stop offset="0.700" stop-color="#ae305c"/><stop offset="0.750" stop-color="#751b6e"/><stop offset="0.800" stop-color="#3d0965"/><stop offset="0.850" stop-color="#110a30"/><stop offset="0.900" stop-color="#000004"/><stop offset="0.950" stop-color="#000004"/><stop offset="1.000" stop-color="#000004"/></linearGradient>
<linearGradient id="hc101" x1="0" y1="0" x2="0" y2="1"><stop offset="0.000" stop-color="#000004"/><stop offset="0.050" stop-color="#000004"/><stop offset="0.100" stop-color="#000004"/><stop offset="0.150" stop-color="#0d0829"/><stop offset="0.200" stop-color="#310a5c"/><stop offset="0.250" stop-color="#61136e"/><stop offset="0.300" stop-color="#902568"/><stop offset="0.350" stop-color="#bc3754"/><stop offset="0.400" stop-color="#da4e3c"/><stop offset="0.450" stop-color="#e5622e"/><stop offset="0.500" stop-color="#e76b2b"/><stop offset="0.550" stop-color="#e6662d"/><stop offset="0.600" stop-color="#de5238"/><stop offset="0.650" stop-color="#c13a50"/><stop offset="0.700" stop-color="#952667"/><stop offset="0.750" stop-color="#62146e"/><stop offset="0.800" stop-color="#320a5e"/><stop offset="0.850" stop-color="#0d0829"/><stop offset="0.900" stop-color="#000004"/><stop offset="0.950" stop-color="#000004"/><stop offset="1.000" stop-color="#000004"/></linearGradient>
<linearGradient id="hc102" x1="0" y1="0" x2="0" y2="1"><stop offset="0.000" stop-color="#000004"/><stop offset="0.050" stop-color="#000004"/><stop offset="0.100" stop-color="#000004"/><stop offset="0.150" stop-color="#0c0826"/><stop offset="0.200" stop-color="#2d0b59"/><stop offset="0.250" stop-color="#5a116e"/><stop offset="0.300" stop-color="#87216b"/><stop offset="0.350" stop-color="#b0315b"/><stop offset="0.400" stop-color="#ce4347"/><stop offset="0.450" stop-color="#df5337"/><stop offset="0.500" stop-color="#e35a32"/><stop offset="0.550" stop-color="#e35933"/><stop offset="0.600" stop-color="#d74b3f"/><stop offset="0.650" stop-color="#ba3655"/><stop offset="0.700" stop-color="#8f2469"/><stop offset="0.750" stop-color="#5f136e"/><stop offset="0.800" stop-color="#310a5c"/><stop offset="0.850" stop-color="#0c0826"/><stop offset="0.900" stop-color="#000004"/><stop offset="0.950" stop-color="#000004"/><stop offset="1.000" stop-color="#000004"/></linearGradient></defs>
<rect width="1350" height="1068" fill="#fefefe"/>
<g id="pa">
<clipPath id="clipA"><rect x="134.3" y="29.0" width="513.3" height="397.1"/></clipPath>
<g clip-path="url(#clipA)">
<polyline points="157,385 157.45,386.25 157.9,384.38 158.35,380.91 158.8,381.19 159.25,379.03 159.7,382.51 160.15,389.49 160.6,384.86 161.05,382.22 161.5,382.4 161.95,377.78 162.4,372.4 162.85,375.79 163.3,380.45 163.75,386.97 164.2,380.04 164.65,380.67 165.1,374.82 165.55,374.77 166,372.4 166.45,378.14 166.9,376.34 167.35,382.04 167.8,384.11 168.25,383.58 168.7,373.45 169.15,377.27 169.6,381.06 170.05,383.44 170.5,377.54 170.95,379.33 171.4,378.01 171.85,378.13 172.3,386.1 172.75,381.75 173.2,383.08 173.65,387.55 174.1,383.33 174.55,383.42 175,384.4 175.45,384.63 175.9,379.26 176.35,382.35 176.8,389.18 177.25,379.91 177.7,385.94 178.15,385.51 178.6,382.08 179.05,391.73 179.5,390.81 179.95,382.07 180.4,383.53 180.85,386.31 181.3,384.3 181.75,387.09 182.2,385.16 182.65,387.39 183.1,391.66 183.55,384.6 184,385.14 184.45,382.55 184.9,383.88 185.35,378.71 185.8,378.8 186.25,380.32 186.7,385.5 187.15,388.74 187.6,379.59 188.05,377.57 188.5,382.63 188.95,373.58 189.4,375.85 189.85,378.28 190.3,384.98 190.75,385.44 191.2,381.2 191.65,377.97 192.1,374.69 192.55,372.84 193,373.44 193.45,376.04 193.9,381.07 194.35,379.97 194.8,379.15 195.25,374.89 195.7,377.65 196.15,377.06 196.6,383.62 197.05,384.4 197.5,381.88 197.95,383.68 198.4,380.21 198.85,384.56 199.3,382.03 199.75,383.39 200.2,376.05 200.65,379.69 201.1,372.7 201.55,369.23 202,372.45 202.45,372.05 202.9,374.35 203.35,385.03 203.8,380.28 204.25,377.48 204.7,379.74 205.15,381.97 205.6,380.14 206.05,379.19 206.5,382.61 206.95,383.38 207.4,377.14 207.85,378.38 208.3,379.42 208.75,387.73 209.2,401.12 209.65,404.42 210.1,395.41 210.55,385.33 211,381.54 211.45,378.52 211.9,379.25 212.35,371.69 212.8,372.04 213.25,378.62 213.7,371.1 214.15,380.41 214.6,373.69 215.05,381.36 215.5,378.1 215.95,383.61 216.4,383.42 216.85,376.34 217.3,385.06 217.75,389.88 218.2,385.74 218.65,383.07 219.1,382.44 219.55,378.78 220,386.01 220.45,382.39 220.9,382.92 221.35,380.1 221.8,379.62 222.25,376.65 222.7,386.05 223.15,384.3 223.6,388.27 224.05,386.03 224.5,382.03 224.95,381.79 225.4,380.71 225.85,382.64 226.3,381.89 226.75,381.88 227.2,377.31 227.65,377.69 228.1,388.31 228.55,383.23 229,379.33 229.45,383.49 229.9,389.91 230.35,380.67 230.8,381.8 231.25,380.53 231.7,375.17 232.15,383.36 232.6,383.84 233.05,384.46 233.5,381.26 233.95,384.95 234.4,382.4 234.85,382.94 235.3,379.1 235.75,376.93 236.2,386.78 236.65,383.41 237.1,385.28 237.55,384.76 238,382.8 238.45,381.65 238.9,385.97 239.35,383.97 239.8,383.71 240.25,384.34 240.7,389.53 241.15,389.77 241.6,388.63 242.05,384.11 242.5,378.61 242.95,386.04 243.4,389.46 243.85,386.31 244.3,387.8 244.75,389.5 245.2,390.48 245.65,391.31 246.1,385.86 246.55,391.77 247,382.73 247.45,387.61 247.9,388.25 248.35,390.16 248.8,395.3 249.25,395.93 250.3,376 251.5,330 253,250 254.5,170 255.6,135 257.1,115.9 258.7,112.8 260.2,77.11 260.7,75.9 261.2,78.66 261.7,79.94 262.2,85.94 262.7,86.42 263.2,81.22 263.7,78.64 264.2,83.13 264.7,86.5 265.2,86.12 265.7,84.06 266.2,80.45 266.7,80.35 267.2,84.97 267.7,86.11 268.2,86.43 268.7,90.42 269.2,90.87 269.7,92.67 270.2,91.19 270.7,88.48 271.2,84.91 271.7,83.03 272.2,86.88 272.7,88.04 273.2,91.96 273.7,91.08 274.2,92.4 274.7,87.09 275.2,83.86 275.7,76.39 276.2,70.3 276.7,66.13 277.2,70.95 277.7,76.05 278.2,81.37 278.7,89.89 279.2,87.74 279.7,86.6 280.2,85.57 280.7,88.33 281.2,99.27 281.7,106.59 282.2,113.9 282.7,126.42 283.2,132.42 283.7,126.22 284.2,120.1 284.7,115.44 285.2,111.47 285.7,103.54 286.2,96.73 286.7,89.93 287.2,92.9 287.7,96.75 288.2,99.27 288.7,101.68 289.2,99.09 289.7,100.16 290.2,102.81 290.7,110.62 291.2,113.05 291.7,115.54 292.2,110.02 292.7,102.62 293.2,100.88 293.7,94.85 294.2,88.7 294.7,94.8 295.2,98.79 295.7,99.4 296.2,104.17 296.7,99.61 297.2,97.69 297.7,97.14 298.2,98.57 298.7,96.79 299.2,96.66 299.7,94.01 300.2,93.45 300.7,95.33 301.2,92.5 301.7,92.59 302.2,78.43 302.7,70.51 303.2,57.42 303.7,53.43 304.2,51.28 304.7,48.73 305.2,47.05 305.7,51.35 306.2,58 306.7,63.05 307.2,68.41 307.7,70.64 308.2,71.81 308.7,72.1 309.2,72.99 309.7,80.27 310.2,88.33 310.7,97.24 311.2,106.18 311.7,114.66 312.2,112.14 312.7,106.14 313.2,97.27 313.7,91.09 314.2,88.04 314.7,85.4 315.2,80.13 315.7,87.59 316.2,92.49 316.7,100.45 317.2,97.8 317.7,99.05 318.2,99.78 318.7,96.89 319.2,97.97 319.7,100.94 320.2,102.62 320.7,103.57 321.2,107.89 321.7,112.35 322.2,103.56 322.7,92.29 323.2,79.85 323.7,74.33 324.2,71.1 324.7,70.08 325.2,73.18 325.7,72.12 326.2,76.48 326.7,77.94 327.2,73.59 327.7,71.26 328.2,70.37 328.7,64.87 329.2,63.4 329.7,64.09 330.2,67.58 330.7,71.12 331.2,75.63 331.7,78.35 332.2,83.65 332.7,86.74 333.2,89.78 333.7,91.13 334.2,93.68 334.7,95.79 335.2,93.31 335.7,89.48 336.2,85.64 336.7,81.75 337.2,79.44 337.7,78.15 338.2,73.41 338.7,71.97 339.2,72.46 339.7,77.9 340.2,78.66 340.7,87.29 341.2,98.16 341.7,105.14 342.2,108.12 342.7,110.19 343.2,116.02 343.7,119.72 344.2,118.33 344.7,117.34 345.2,111.6 345.7,107.21 346.2,104.34 346.7,103.61 347.2,101.27 347.7,97.83 348.2,97.3 348.7,93.47 349.2,96.17 349.7,97.13 350.2,98.2 350.7,99.77 351.2,106.36 351.7,110.83 352.2,115.81 352.7,117.45 353.2,112.17 353.7,107.95 354.2,107.59 354.7,106.11 355.2,106.44 355.7,106.47 356.2,98.75 356.7,95.81 357.2,92.89 357.7,93.43 358.2,95.62 358.7,100.64 359.2,100.85 359.7,100.29 360.2,101.93 360.3,103.4 361.8,135 362.8,200 363.7,280 364.6,350 365.6,390 366.6,398 367.5,395.1 367.95,396.96 368.4,388.85 368.85,397.6 369.3,398.74 369.75,402.14 370.2,397.14 370.65,395.28 371.1,391.33 371.55,403.55 372,398.77 372.45,403.22 372.9,396.68 373.35,396.78 373.8,389.81 374.25,391.53 374.7,397.48 375.15,391.6 375.6,397.77 376.05,397.7 376.5,392.38 376.95,392.01 377.4,391.97 377.85,393.47 378.3,392.26 378.75,390.56 379.2,391.75 379.65,389.5 380.1,387.45 380.55,391.22 381,396.41 381.45,389.53 381.9,392.24 382.35,390.92 382.8,389.05 383.25,395.14 383.7,392.62 384.15,399.12 384.6,393.34 385.05,395.09 385.5,393.08 385.95,389.89 386.4,393.27 386.85,391.69 387.3,393.58 387.75,391.67 388.2,386.58 388.65,387.75 389.1,388.57 389.55,392.12 390,386.33 390.45,386.74 390.9,380.24 391.35,386.06 391.8,381.81 392.25,377.07 392.7,381.61 393.15,388.02 393.6,380.84 394.05,379.2 394.5,379.72 394.95,378.42 395.4,383.51 395.85,381.23 396.3,380.46 396.75,385.03 397.2,381.92 397.65,384.98 398.1,380.96 398.55,378.17 399,374.48 399.45,386.82 399.9,384.01 400.35,384.92 400.8,384.3 401.25,384.74 401.7,384.52 402.15,391.5 402.6,383.42 403.05,377.81 403.5,377.36 403.95,375.93 404.4,383.21 404.85,386.77 405.3,381.59 405.75,377.62 406.2,379.78 406.65,387.4 407.1,374.8 407.55,381.86 408,378.94 408.45,385.68 408.9,380.66 409.35,381.41 409.8,377.1 410.25,377.18 410.7,386.2 411.15,388.12 411.6,384.32 412.05,380.83 412.5,375.37 412.95,378.62 413.4,381.46 413.85,382.54 414.3,382.98 414.75,379.27 415.2,381.62 415.65,382.78 416.1,388.36 416.55,393.07 417,387.56 417.45,382.69 417.9,383.16 418.35,381.31 418.8,379.96 419.25,381.96 419.7,379.11 420.15,384.11 420.6,383.65 421.05,384.8 421.5,383.66 421.95,381.08 422.4,379.08 422.85,380.88 423.3,380.51 423.75,383.32 424.2,383.68 424.65,378.67 425.1,381.86 425.55,377.92 426,378.92 426.45,380.59 426.9,374.57 427.35,380.1 427.8,382.82 428.25,382.87 428.7,381.88 429.15,381.62 429.6,379.21 430.05,380.82 430.5,380.47 430.95,382.76 431.4,378.86 431.85,382.58 432.3,383.91 432.75,383.42 433.2,382.07 433.65,385.23 434.1,378.22 434.55,383.15 435,384.54 435.45,385.32 435.9,386.05 436.35,382.44 436.8,382.31 437.25,385.66 437.7,386.39 438.15,385.86 438.6,379.07 439.05,383.83 439.5,388.37 439.95,389.81 440.4,387.51 440.85,379.65 441.3,385.63 441.75,384.17 442.2,374.44 442.65,381.13 443.1,377.03 443.55,375.93 444,377.95 444.45,386.12 444.9,383.54 445.35,384.83 445.8,391.02 446.25,393.23 446.7,387.76 447.15,384.77 447.6,379.55 448.05,379.35 448.5,383.53 448.95,385.29 449.4,385 449.85,388.24 450.3,382.97 450.75,383.32 451.2,386.48 451.65,387.34 452.1,389.58 452.55,388.02 453,384.63 453.45,385.66 453.9,380.93 454.35,376.38 454.8,382.78 455.25,383.24 455.7,384.83 456.15,377.91 456.6,379.87 457.05,379.86 457.5,378.85 457.95,373.1 458.4,377.82 458.85,384.63 459.3,385.74 459.75,382.49 460.2,383.27 460.65,386.55 461.1,374.64 461.55,379.31 462,383.96 462.45,386.58 462.9,391.63 463.35,391.76 463.8,388.68 464.25,387.26 464.7,388.46 465.15,383.95 465.6,383.83 466.05,387.37 466.5,392.97 466.95,387.43 467.4,385.36 467.85,385.37 468.3,389.73 468.75,386.46 469.2,390.7 469.65,383.34 470.1,382.99 470.55,382.79 471,386.45 471.45,389.08 471.9,380.54 472.35,378.96 472.8,383.01 473.25,381.05 473.7,376.88 474.15,384.75 474.6,386.22 475.05,386.87 475.5,383.48 475.95,387.68 476.4,384.74 476.85,388.51 477.3,382.56 477.75,380.1 478.2,382.57 478.65,379.43 479.1,382.7 479.55,382.03 480,376.67 480.45,377.49 480.9,375.69 481.35,379.14 481.8,374.25 482.25,372.79 482.7,378.61 483.15,385.15 483.6,387.17 484.05,380.72 484.5,378.41 484.95,382.37 485.4,377.84 485.85,372.29 486.3,370.87 486.75,368.17 487.2,367.08 487.65,366.87 488.1,366.19 488.55,373.57 489,371.47 489.45,372.87 489.9,374.85 490.35,377.29 490.8,374.76 491.25,376.79 491.7,372.42 492.15,372.46 492.6,369.96 493.05,377.04 493.5,375.81 493.95,372.55 494.4,372.56 494.85,373.06 495.3,376.79 495.75,369.73 496.2,368.68 496.65,370.72 497.1,382.71 497.55,382.11 498,377.77 498.45,376.65 498.9,372.56 499.35,362.74 499.8,364.16 500.25,372.49 500.7,378.99 501.15,379.35 501.6,375.02 502.05,382.33 502.5,384.81 502.95,381.57 503.4,380.86 503.85,370.42 504.3,376.06 504.75,375.61 505.2,377.99 505.65,380.19 506.1,377.47 506.55,371.29 507,376.53 507.45,374.52 507.9,375.18 508.35,374.43 508.8,375.09 509.25,367.9 509.7,378.09 510.15,379 510.6,382.68 511.05,387.64 511.5,382.43 511.95,373.13 512.4,372.41 512.85,370.89 513.3,372.89 513.75,376 514.2,369.48 514.65,375.47 515.1,371.11 515.55,376.03 516,376.7 516.45,376.22 516.9,376.92 517.35,375.46 517.8,374.53 518.25,370.03 518.7,374.3 519.15,383.36 519.6,387.95 520.05,387.51 520.5,384.97 520.95,378.56 521.4,383.74 521.85,380.37 522.3,378.8 522.75,377.25 523.2,378.01 523.65,376.35 524.1,376.94 524.55,373.39 525,374.51 525.45,385.11 525.9,380.93 526.35,378.41 526.8,380.21 527.25,381.69 527.7,375.42 528.15,376.05 528.6,380.62 529.05,380.21 529.5,379.46 529.95,384.57 530.4,378.38 530.85,378.48 531.3,376.24 531.75,382.88 532.2,372.77 532.65,373.09 533.1,373.78 533.55,378.63 534,380.59 534.45,384.48 534.9,374.92 535.35,379.47 535.8,377.55 536.25,375.26 536.7,378.82 537.15,374.87 537.6,368.69 538.05,372.4 538.5,369.78 538.95,371.83 539.4,376.64 539.85,378.57 540.3,384.41 540.75,380.36 541.2,373.55 541.65,373.53 542.1,373 542.55,371.72 543,377.52 543.45,376.12 543.9,370.51 544.35,378.25 544.8,378.76 545.25,380.86 545.7,380.94 546.15,383.07 546.6,381.86 547.05,385.97 547.5,384.83 547.95,384.28 548.4,384.04 548.85,376.83 549.3,378.5 549.75,378.89 550.2,380.84 550.65,375.76 551.1,384.86 551.55,383.13 552,377.35 552.45,372.85 552.9,376.26 553.35,378.53 553.8,377.15 554.25,379.62 554.7,377.94 555.15,381.72 555.6,378.57 556.05,379.76 556.5,384.17 556.95,392.21 557.4,382.21 557.85,379.78 558.3,377.25 558.75,382.3 559.2,377.21 559.65,377.45 560.1,379.29 560.55,376.51 561,375.33 561.45,376.64 561.9,371.04 562.35,371.02 562.8,374.94 563.25,378.84 563.7,379.32 564.15,373.49 564.6,375.86 565.05,381.72 565.5,383.44 565.95,381.8 566.4,377.98 566.85,382.04 567.3,379.27 567.75,375.77 568.2,375.59 568.65,384.08 569.1,383.22 569.55,386.41 570,381.61 570.45,384.85 570.9,380.44 571.35,380.15 571.8,390.08 572.25,388.01 572.7,382.25 573.15,381.24 573.6,382.35 574.05,386.21 574.5,381.48 574.95,374.59 575.4,377.05 575.85,379.28 576.3,380.64 576.75,385.85 577.2,384.39 577.65,385.62 578.1,378.89 578.55,383.35 579,390.04 579.45,388.01 579.9,385.12 580.35,383.44 580.8,388.9 581.25,381.03 581.7,380.59 582.15,382.57 582.6,384.54 583.05,380.93 583.5,382.14 583.95,380.45 584.4,381.21 584.85,380.59 585.3,376.47 585.75,378.88 586.2,383.39 586.65,378.39 587.1,378.91 587.55,382.59 588,377.64 588.45,380.18 588.9,376.6 589.35,383.34 589.8,390.86 590.25,393.13 590.7,385.63 591.15,385.9 591.6,383.66 592.05,382.59 592.5,387.61 592.95,378.95 593.4,384.09 593.85,382.21 594.3,386.9 594.75,384.37 595.2,379.96 595.65,381.59 596.1,384.06 596.55,382.52 597,383.54 597.45,380.16 597.9,372.5 598.35,380.6 598.8,383.48 599.25,382.68 599.7,382.02 600.15,385.48 600.6,381.54 601.05,378.94 601.5,379.87 601.95,385.66 602.4,378.58 602.85,385.33 603.3,381.52 603.75,378.18 604.2,385.78 604.65,384.16 605.1,378.98 605.55,380.35 606,386 606.45,389.44 606.9,384.82 607.35,385.92 607.8,387.58 608.25,383.16 608.7,384.97 609.15,384.32 609.6,382.1 610.05,381.27 610.5,383.03 610.95,383.68 611.4,381.7 611.85,381.34 612.3,387.04 612.75,386.18 613.2,388.35 613.65,390.53 614.1,389.18 614.55,394.97 615,385.8 615.45,387.89 615.9,384.54 616.35,391.31 616.8,393.76 617.25,380.95 617.7,378.94 618.15,384.25 618.6,387.12 619.05,388.21 619.5,385.62 619.95,386.46 620.4,387.59 620.85,385.32 621.3,388.5 621.75,377.43 622.2,383.45 622.65,379.82 623.1,385.77 623.55,383.92 624,380.58" fill="none" stroke="#3f7cb6" stroke-width="3.2" stroke-linejoin="round" stroke-linecap="butt"/>
<polyline points="157,390 157.45,386.7 157.9,385.22 158.35,382.18 158.8,386.41 159.25,390.22 159.7,393.85 160.15,391.26 160.6,394.42 161.05,392.11 161.5,390.67 161.95,392.45 162.4,395.02 162.85,391.1 163.3,389.7 163.75,389.37 164.2,390.11 164.65,386.89 165.1,392.44 165.55,389.76 166,391.69 166.45,387.89 166.9,390.48 167.35,391.78 167.8,389.42 168.25,397.22 168.7,394.75 169.15,398.75 169.6,397.58 170.05,391.18 170.5,389.32 170.95,391.46 171.4,391.07 171.85,390.85 172.3,389.55 172.75,383.44 173.2,386.44 173.65,380.57 174.1,387.33 174.55,386.39 175,386.01 175.45,387.65 175.9,390.18 176.35,385.14 176.8,381.72 177.25,382.67 177.7,379.56 178.15,382.07 178.6,392.49 179.05,387.57 179.5,391.56 179.95,386.02 180.4,389.6 180.85,388.97 181.3,389.63 181.75,392.22 182.2,397.7 182.65,394.5 183.1,392.82 183.55,388.08 184,391.6 184.45,390.18 184.9,393.46 185.35,391.77 185.8,397.49 186.25,386.55 186.7,387.76 187.15,392.58 187.6,390.28 188.05,387.65 188.5,388.39 188.95,384.68 189.4,388.46 189.85,398.59 190.3,398.45 190.75,390.21 191.2,387.37 191.65,387.8 192.1,393.11 192.55,388.88 193,387.45 193.45,392.54 193.9,394.76 194.35,391.27 194.8,387 195.25,383.52 195.7,385.05 196.15,380.18 196.6,388.81 197.05,387.7 197.5,391.23 197.95,397.86 198.4,398.33 198.85,390.11 199.3,393.75 199.75,396.44 200.2,390.73 200.65,387.39 201.1,388.94 201.55,384.21 202,393.22 202.45,383.19 202.9,383.38 203.35,386.49 203.8,388.03 204.25,390.14 204.7,391.46 205.15,390.28 205.6,394.64 206.05,384.7 206.5,387.97 206.95,386.84 207.4,389.4 207.85,390.85 208.3,387.39 208.75,386.8 209.2,391.72 209.65,392.32 210.1,388.84 210.55,397.13 211,401.83 211.45,390.24 211.9,391.42 212.35,399.94 212.8,397.51 213.25,394.36 213.7,391.37 214.15,388.8 214.6,388.83 215.05,387.6 215.5,391.74 215.95,389.44 216.4,388.23 216.85,384.92 217.3,387.6 217.75,385.73 218.2,387.46 218.65,392.67 219.1,392.54 219.55,392.98 220,392.62 220.45,391.37 220.9,390.12 221.35,388.89 221.8,392.2 222.25,386.98 222.7,393.42 223.15,391.57 223.6,387.88 224.05,387.15 224.5,386.13 224.95,388.69 225.4,386.65 225.85,392.47 226.3,388.09 226.75,380.7 227.2,382.95 227.65,379.32 228.1,384.82 228.55,391.27 229,392.66 229.45,386.07 229.9,385.18 230.35,393.99 230.8,392.65 231.25,390.89 231.7,393.9 232.15,400.31 232.6,398.99 233.05,394.18 233.5,392.79 233.95,393.1 234.4,388.77 234.85,385.18 235.3,387.59 235.75,385.04 236.2,387.09 236.65,388.57 237.1,397.37 237.55,389.74 238,388.93 238.45,388.41 238.9,390.34 239.35,393.41 239.8,389.2 240.25,386.07 240.7,381.65 241.15,382.22 241.6,387.75 242.05,388.42 242.5,384.84 242.95,385.53 243.4,387.27 243.85,389.73 244.3,386.83 244.75,386.73 245.2,380.96 245.65,380.75 246.1,390.67 246.55,381.29 247,383.75 247.45,386.85 247.9,386.05 248.35,384.09 248.8,385.88 249.25,386.86 249.7,386.98 250.15,380.49 250.6,383.81 251.05,382.71 251.5,383.29 251.95,386.33 252.4,389.17 252.85,391.34 253.3,387.23 253.75,390.5 254.2,392.84 254.65,393.73 255.1,395.01 255.55,389.98 256,387.58 256.45,390.1 256.9,383.24 257.35,385.84 257.8,384.29 258.25,384.15 258.7,379.06 259.15,379.83 259.6,383.3 260.05,388.13 260.5,390.64 260.95,387.85 261.4,386.16 261.85,383.04 262.3,386.09 262.75,385.09 263.2,387.71 263.65,393.03 264.1,388.93 264.55,381.74 265,380.8 265.45,378.19 265.9,377.93 266.35,386.88 266.8,386.97 267.25,380.65 267.7,385.68 268.15,390.12 268.6,386.21 269.05,383.29 269.5,380.26 269.95,376.7 270.4,371.5 270.85,378.65 271.3,386.87 271.75,392.52 272.2,393.37 272.65,391.19 273.1,382.23 273.55,383.26 274,385.31 274.45,383.69 274.9,387.63 275.35,384.77 275.8,381.41 276.25,388.48 276.7,388.81 277.15,387.32 277.6,389.19 278.05,390.51 278.5,388.46 278.95,377.36 279.4,378.81 279.85,380.24 280.3,378.94 280.75,382.63 281.2,387.87 281.65,384.13 282.1,380.06 282.55,389.69 283,385 283.45,380.03 283.9,383.11 284.35,385.16 284.8,381.95 285.25,385.86 285.7,382.89 286.15,379.89 286.6,382.47 287.05,385.7 287.5,381.98 287.95,383.73 288.4,382.9 288.85,393.04 289.3,384.71 289.75,388.48 290.2,384.88 290.65,382.92 291.1,385.04 291.55,386.54 292,388.49 292.45,385.89 292.9,381.27 293.35,379.35 293.8,382.2 294.25,383.67 294.7,387.22 295.15,385.19 295.6,386.53 296.05,388.71 296.5,384.71 296.95,376.84 297.4,374.34 297.85,372.2 298.3,382.24 298.75,377.92 299.2,383.51 299.65,383.68 300.1,387.85 300.55,387.13 301,382.79 301.45,380.48 301.9,380.47 302.35,380.79 302.8,378.36 303.25,379.07 303.7,385.34 304.15,376.14 304.6,379.11 305.05,376.21 305.5,378.87 305.95,382.43 306.4,380.77 306.85,383.03 307.3,375.47 307.75,381.85 308.2,378.5 308.65,381.44 309.1,381.16 309.55,370.98 310,373.04 310.45,377.5 310.9,384.34 311.35,382.82 311.8,382.02 312.25,375.59 312.7,383.01 313.15,387.71 313.6,383.36 314.05,380.5 314.5,374.13 314.95,380.34 315.4,389.73 315.85,386.74 316.3,387.38 316.75,385.04 317.2,378.43 317.65,383.88 318.1,377 318.55,377.61 319,379.66 319.45,382.76 319.9,382.46 320.35,382.21 320.8,377.93 321.25,374.08 321.7,377.24 322.15,375.86 322.6,373.06 323.05,371.95 323.5,374.26 323.95,370.35 324.4,370.42 324.85,369.4 325.3,375.53 325.75,379.1 326.2,386.51 326.65,377.11 327.1,375.85 327.55,381.05 328,379.29 328.45,378.09 328.9,384.93 329.35,380.58 329.8,375.64 330.25,372.83 330.7,377.56 331.15,379.57 331.6,374.38 332.05,373.45 332.5,373.36 332.95,368.24 333.4,364.22 333.85,371.12 334.3,378.77 334.75,373.91 335.2,375.63 335.65,379.04 336.1,376.99 336.55,370.37 337,374.12 337.45,379.56 337.9,385.01 338.35,373.77 338.8,386.14 339.25,378.13 339.7,382.08 340.15,384.91 340.6,385.41 341.05,382.69 341.5,376.79 341.95,380.7 342.4,377.68 342.85,369.84 343.3,385.82 343.75,385.39 344.2,389.31 344.65,381.25 345.1,386.34 345.55,389.16 346,390.38 346.45,385.29 346.9,378.8 347.35,379.68 347.8,372.81 348.25,371.62 348.7,377.67 349.15,376.55 349.6,379.13 350.05,380.57 350.5,388.71 350.95,390.15 351.4,386.01 351.85,388.78 352.3,382.91 352.75,381.97 353.2,386.17 353.65,380.35 354.1,381.32 354.55,378.07 355,381.92 355.45,389.25 355.9,383.98 356.35,385.26 356.8,381.85 357.25,379.5 357.7,378.22 358.15,387.51 358.6,395.08 359.05,391.76 359.5,386.01 359.95,388.67 360.4,386.19 360.85,389.3 361.3,388.93 361.75,388.83 362.2,390.06 362.65,386.41 363.1,385.49 363.55,380.4 364,382.84 364.45,380.48 364.9,384.15 365.35,382.78 365.8,385.98 366.25,388.68 366.7,383.07 367.15,382.74 367.6,382.1 368.05,387.93 368.5,394.02 368.95,393.64 369.4,389.1 369.85,393.62 370.3,384.83 370.75,391.79 371.2,387.08 371.65,377.24 372.1,392.5 372.55,395.46 373,387.31 373.45,387.98 373.9,386.87 374.35,387.51 374.8,382.02 375.25,382.45 375.7,386.79 376.15,387.84 376.6,391.84 377.05,389.56 377.5,396.76 377.95,388.86 378.4,388.82 378.85,380.89 379.3,379.72 379.75,388.54 380.2,384.27 380.65,387.7 381.1,387.1 381.55,383.26 382,384.07 382.45,383.83 382.9,383.82 383.35,388.33 383.8,389.99 384.25,386.27 384.7,383.41 385.15,386.44 385.6,386.42 386.05,390.51 386.5,398.25 386.95,395.16 387.4,390.59 387.85,388.04 388.3,384.4 388.75,382.59 389.2,381.43 389.65,383.11 390.1,383.76 390.55,388.3 391,386.2 391.45,385.99 391.9,382.19 392.35,390.87 392.8,390.66 393.25,395.21 393.7,393.67 394.15,395.49 394.6,390 395.05,391.04 395.5,398.72 395.95,387.92 396.4,391.78 396.85,395.41 397.3,392.41 397.75,392.31 398.2,394.14 398.65,387.88 399.1,389.02 399.55,384.8 400,383.61 400.45,383.3 400.9,384.92 401.35,386.73 401.8,388.68 402.25,382.61 402.7,392.51 403.15,393.9 403.6,392.94 404.05,388.48 404.5,387.47 404.95,389.39 405.4,389.75 405.85,382.13 406.3,387.71 406.75,398.32 407.2,385.37 407.65,390.12 408.1,389.94 408.55,388.06 409,392.75 409.45,385.35 409.9,387.03 410.35,392.63 410.8,388.97 411.25,386.5 411.7,387.38 412.15,385.69 412.6,392.36 413.05,386.21 413.5,390.09 413.95,383.91 414.4,388.3 414.85,387.39 415.3,377.73 415.75,383.01 416.2,381.42 416.65,383.04 417.1,391.16 417.55,384.91 418,382.32 418.45,390.48 418.9,389.21 419.35,393.97 419.8,391.56 420.25,385.98 420.7,386.52 421.15,391.6 421.6,392.81 422.05,389.85 422.5,388.7 422.95,387.58 423.4,385.35 423.85,393.71 424.3,390.29 424.75,384.51 425.2,384.35 425.65,388.77 426.1,390.45 426.55,388.3 427,385.35 427.45,386.61 427.9,380.84 428.35,379.64 428.8,386.94 429.25,385.46 429.7,387.98 430.15,392.27 430.6,392.07 431.05,389.64 431.5,396.42 431.95,394.02 432.4,389.12 432.85,390.98 433.3,390.61 433.75,385.73 434.2,387 434.65,386.69 435.1,379.83 435.55,383.44 436,384.65 436.45,384.62 436.9,380.11 437.35,382.89 437.8,385.32 438.25,386.95 438.7,383.06 439.15,387.92 439.6,383.21 440.05,384.79 440.5,391.21 440.95,386.65 441.4,385.28 441.85,390.57 442.3,387.52 442.75,386.47 443.2,387.94 443.65,391.69 444.1,381.25 444.55,381.68 445,381.21 445.45,380.71 445.9,381.35 446.35,381.7 446.8,386.11 447.25,383.66 447.7,386.33 448.15,388.57 448.6,385.37 449.05,387.13 449.5,393.53 449.95,391.52 450.4,387.06 450.85,387.18 451.3,384.07 451.75,387.08 452.2,390.64 452.65,386 453.1,386.18 453.55,391.16 454,387.44 454.45,388.31 454.9,384.2 455.35,383.12 455.8,383.77 456.25,393.87 456.7,389.03 457.15,386.42 457.6,385.12 458.05,385.99 458.5,389.36 458.95,389.18 459.4,395.89 459.85,392.22 460.3,395.04 460.75,392.07 461.2,391.93 461.65,384.43 462.1,385.84 462.55,386.68 463,386.43 463.45,379.39 463.9,387.24 464.35,386.17 464.8,385.5 465.25,385.87 465.7,386.14 466.15,388.57 466.6,383.57 467.05,382.56 467.5,386.54 467.95,387.81 468.4,386.48 468.85,385.18 469.3,383.64 469.75,385.77 470.2,391.23 470.65,385.56 471.1,392.39 471.55,392.99 472,388.56 472.45,391.05 472.9,384.02 473.35,379.89 473.8,379.64 474.25,382.72 474.7,384.42 475.15,384.49 475.6,386.76 476.05,379.67 476.5,386.03 476.95,381.95 477.4,382.87 477.85,384.18 478.3,382.08 478.75,380.35 479.2,380.91 479.65,384.76 480.1,388.68 480.55,390.35 481,385.43 481.45,383.95 481.9,382.81 482.35,387.27 482.8,380.24 483.25,388.96 483.7,386.63 484.15,384.49 484.6,387.6 485.05,391.51 485.5,390.76 485.95,392.99 486.4,390.66 486.85,393.58 487.3,394.95 487.75,390.68 488.2,394.33 488.65,391.35 489.1,389.72 489.55,385.32 490,385.63 490.45,389.64 490.9,383.85 491.35,388.36 491.8,389.29 492.25,389.45 492.7,380.5 493.15,384.1 493.6,388.45 494.05,385.27 494.5,386.94 494.95,378.72 495.4,386.09 495.85,384.56 496.3,389.43 496.75,381.77 497.2,387.51 497.65,386.72 498.1,390.15 498.55,385.4 499,384.37 499.45,394.29 499.9,387.59 500.35,385.03 500.8,385.43 501.25,382.89 501.7,389.78 502.15,394.81 502.6,388.26 503.05,381.59 503.5,389.11 503.95,392.25 504.4,392.62 504.85,394 505.3,387.27 505.75,386.77 506.2,382.13 506.65,379.92 507.1,387.62 507.55,385.08 508,394.65 508.45,390.94 508.9,386.68 509.35,389.97 509.8,395.09 510.25,392.62 510.7,385.32 511.15,387.79 511.6,392.55 512.05,387.9 512.5,384.79 512.95,389.88 513.4,388.98 513.85,384.06 514.3,384.47 514.75,383.28 515.2,386.56 515.65,387.35 516.1,391.48 516.55,391.74 517,383.6 517.45,387.08 517.9,390.42 518.35,390.32 518.8,392.35 519.25,387.53 519.7,383.9 520.15,389.08 520.6,384.17 521.05,377.98 521.5,386.75 521.95,384.35 522.4,384.77 522.85,381 523.3,379.56 523.75,379.52 524.2,382.38 524.65,386.32 525.1,378.4 525.55,385.91 526,382.26 526.45,381.03 526.9,386.8 527.35,386.67 527.8,381.29 528.25,391.14 528.7,385.75 529.15,387.34 529.6,387.88 530.05,392.49 530.5,387.58 530.95,390.56 531.4,385.42 531.85,389.75 532.3,384.74 532.75,383.81 533.2,391.46 533.65,389.05 534.1,387.09 534.55,393.83 535,389.91 535.45,383.75 535.9,386.48 536.35,380.63 536.8,386.26 537.25,388.95 537.7,383.58 538.15,380.84 538.6,382.4 539.05,382.39 539.5,378.66 539.95,382.47 540.4,374.77 540.85,377.14 541.3,378.3 541.75,379.29 542.2,381.82 542.65,377.38 543.1,381.96 543.55,381.22 544,379.17 544.45,375.63 544.9,374.7 545.35,379.86 545.8,377.37 546.25,379.97 546.7,384.75 547.15,386.78 547.6,389.59 548.05,384.11 548.5,378.77 548.95,383.99 549.4,383.75 549.85,386.59 550.3,383.81 550.75,386.85 551.2,386.94 551.65,386.49 552.1,385.51 552.55,384.67 553,383.68 553.45,383.19 553.9,385.74 554.35,381.42 554.8,387.62 555.25,383.71 555.7,385.91 556.15,382.98 556.6,381.08 557.05,388.48 557.5,383.3 557.95,377.45 558.4,376.84 558.85,378 559.3,387.48 559.75,384.66 560.2,386.03 560.65,379.6 561.1,381.61 561.55,383.66 562,388.67 562.45,381.85 562.9,383.48 563.35,383.11 563.8,378.13 564.25,379.51 564.7,379.23 565.15,371.61 565.6,378.78 566.05,381.79 566.5,379.57 566.95,375.3 567.4,383.59 567.85,382.91 568.3,385.31 568.75,387.81 569.2,381.91 569.65,384.08 570.1,381.22 570.55,380.57 571,380.18 571.45,380.3 571.9,384.39 572.35,382.63 572.8,380.81 573.25,379.54 573.7,381.19 574.15,377.44 574.6,377.16 575.05,378.66 575.5,377.46 575.95,378.53 576.4,377.21 576.85,386.09 577.3,387.63 577.75,385.12 578.2,382.15 578.65,388.94 579.1,385.21 579.55,382.03 580,382 580.45,382.76 580.9,387.52 581.35,384.89 581.8,391.81 582.25,384.51 582.7,387.36 583.15,379.43 583.6,377.85 584.05,371.71 584.5,378.03 584.95,387.44 585.4,395.14 585.85,388.48 586.3,388.16 586.75,384.09 587.2,387.82 587.65,392.38 588.1,397.03 588.55,400.88 589,395.47 589.45,389.15 589.9,390.01 590.35,395.44 590.8,385.37 591.25,387.41 591.7,387.23 592.15,390.45 592.6,386.65 593.05,387.85 593.5,385.15 593.95,390.22 594.4,390.33 594.85,389.43 595.3,390.95 595.75,389.39 596.2,383.93 596.65,389.27 597.1,390.55 597.55,389.52 598,393.18 598.45,395.67 598.9,388.39 599.35,386.24 599.8,393.72 600.25,396.61 600.7,390.08 601.15,385.53 601.6,385.44 602.05,385.9 602.5,382.16 602.95,386.34 603.4,383.45 603.85,382.39 604.3,389.63 604.75,387.08 605.2,388.14 605.65,391.16 606.1,393.18 606.55,389.9 607,389.81 607.45,386.6 607.9,394.49 608.35,394.05 608.8,387.48 609.25,388.54 609.7,391.58 610.15,392.1 610.6,397.22 611.05,397.86 611.5,391.21 611.95,389.84 612.4,384.89 612.85,388.21 613.3,389.34 613.75,399.11 614.2,394.04 614.65,383.8 615.1,384.34 615.55,387.43 616,383.85 616.45,383.64 616.9,385.36 617.35,388.69 617.8,388.35 618.25,385.56 618.7,390.38 619.15,387.73 619.6,386.67 620.05,383 620.5,383.49 620.95,388.93 621.4,383.13 621.85,386.12 622.3,390.33 622.75,388.24 623.2,389.54 623.65,385.19 624.1,392.04" fill="none" stroke="#f47d20" stroke-width="3.2" stroke-linejoin="round" stroke-linecap="butt"/>
</g>
<line x1="380.8" y1="59.3" x2="414.6" y2="59.3" stroke="#3f7cb6" stroke-width="3.2"/>
<line x1="380.8" y1="115.6" x2="414.6" y2="115.6" stroke="#f47d20" stroke-width="3.2"/>
<rect x="134.3" y="29" width="513.3" height="397.1" fill="none" stroke="#000" stroke-width="2.0"/>
<line x1="257.05" y1="426.1" x2="257.05" y2="434.6" stroke="#000" stroke-width="1.8"/>
<line x1="423.9" y1="426.1" x2="423.9" y2="434.6" stroke="#000" stroke-width="1.8"/>
<line x1="590.8" y1="426.1" x2="590.8" y2="434.6" stroke="#000" stroke-width="1.8"/>
<line x1="125.8" y1="72.2" x2="134.3" y2="72.2" stroke="#000" stroke-width="1.8"/>
<line x1="125.8" y1="192.1" x2="134.3" y2="192.1" stroke="#000" stroke-width="1.8"/>
<line x1="125.8" y1="312" x2="134.3" y2="312" stroke="#000" stroke-width="1.8"/>
</g>
<g id="pb">
<rect x="833.8" y="62.9" width="513.9" height="26" fill="url(#cbg)" stroke="#000" stroke-width="1.6"/>
<rect x="833.3" y="107.7" width="514.9" height="318.9" fill="#000004"/>
<clipPath id="clipB"><rect x="833.3" y="107.7" width="514.9" height="318.9"/></clipPath>
<g clip-path="url(#clipB)"><g filter="url(#hblur)">
<rect x="898.69" y="266.92" width="5.03" height="9.21" fill="#0a0722"/>
<rect x="898.69" y="116.85" width="5.03" height="6.04" fill="#0a0722"/>
<rect x="1034.5" y="130.16" width="5.03" height="5.91" fill="#0a0722"/>
<rect x="1306.12" y="410.12" width="5.03" height="9.35" fill="#0a0722"/>
<rect x="1275.94" y="270.78" width="5.03" height="9.64" fill="#0a0722"/>
<rect x="1019.41" y="195.5" width="5.03" height="5.97" fill="#0a0722"/>
<rect x="1009.35" y="321.48" width="5.03" height="8.59" fill="#0a0722"/>
<rect x="1235.7" y="368.16" width="5.03" height="8.84" fill="#0a0722"/>
<rect x="1336.3" y="172.92" width="5.03" height="8.88" fill="#0a0722"/>
<rect x="1336.3" y="261.93" width="5.03" height="7.47" fill="#0a0722"/>
<rect x="1306.12" y="182.74" width="5.03" height="10.62" fill="#0a0722"/>
<rect x="1135.1" y="384.29" width="5.03" height="5.9" fill="#0a0722"/>
<rect x="1230.67" y="196.08" width="5.03" height="5.58" fill="#0a0722"/>
<rect x="1069.71" y="393.42" width="5.03" height="8.01" fill="#0a0722"/>
<rect x="954.02" y="322.44" width="5.03" height="6.42" fill="#0a0722"/>
<rect x="908.75" y="395.17" width="5.03" height="6.52" fill="#0a0722"/>
<rect x="1145.16" y="171.73" width="5.03" height="7.42" fill="#0a0722"/>
<rect x="848.39" y="257.23" width="5.03" height="11.34" fill="#0a0722"/>
<rect x="1150.19" y="215.91" width="5.03" height="5.12" fill="#0a0722"/>
<rect x="1190.43" y="158.67" width="5.03" height="11.98" fill="#0a0722"/>
<rect x="878.57" y="328.07" width="5.03" height="5.38" fill="#0a0722"/>
<rect x="1064.68" y="118.56" width="5.03" height="10.92" fill="#0a0722"/>
<rect x="868.51" y="206.15" width="5.03" height="7.22" fill="#0a0722"/>
<rect x="1130.07" y="136.16" width="5.03" height="6.21" fill="#0a0722"/>
<rect x="1084.8" y="375.3" width="5.03" height="8.26" fill="#0a0722"/>
<rect x="843.36" y="148.27" width="5.03" height="10.17" fill="#0a0722"/>
<rect x="1336.3" y="127.45" width="5.03" height="9.19" fill="#0a0722"/>
<rect x="928.87" y="393.36" width="5.03" height="5.19" fill="#0a0722"/>
<rect x="1044.56" y="168.35" width="5.03" height="5.65" fill="#0a0722"/>
<rect x="1245.76" y="113.43" width="5.03" height="7.05" fill="#0a0722"/>
<rect x="833.3" y="195.16" width="5.43" height="126.69" fill="url(#hc0)"/>
<rect x="838.33" y="196.7" width="5.43" height="117.38" fill="url(#hc1)"/>
<rect x="843.36" y="191.43" width="5.43" height="132.15" fill="url(#hc2)"/>
<rect x="848.39" y="198.37" width="5.43" height="114.6" fill="url(#hc3)"/>
<rect x="853.42" y="204.89" width="5.43" height="101.55" fill="url(#hc4)"/>
<rect x="858.45" y="180.45" width="5.43" height="129.05" fill="url(#hc5)"/>
<rect x="863.48" y="195.89" width="5.43" height="107.08" fill="url(#hc6)"/>
<rect x="868.51" y="193.37" width="5.43" height="95.88" fill="url(#hc7)"/>
<rect x="873.54" y="189.39" width="5.43" height="94.35" fill="url(#hc8)"/>
<rect x="878.57" y="179.06" width="5.43" height="112.57" fill="url(#hc9)"/>
<rect x="883.6" y="173.09" width="5.43" height="116.24" fill="url(#hc10)"/>
<rect x="888.63" y="180.7" width="5.43" height="101.94" fill="url(#hc11)"/>
<rect x="893.66" y="147.84" width="5.43" height="156.03" fill="url(#hc12)"/>
<rect x="898.69" y="164.77" width="5.43" height="109.54" fill="url(#hc13)"/>
<rect x="903.72" y="160.5" width="5.43" height="111.72" fill="url(#hc14)"/>
<rect x="908.75" y="147.74" width="5.43" height="150.97" fill="url(#hc15)"/>
<rect x="913.78" y="163.85" width="5.43" height="108.14" fill="url(#hc16)"/>
<rect x="918.81" y="154.71" width="5.43" height="107.74" fill="url(#hc17)"/>
<rect x="923.84" y="149.28" width="5.43" height="122.4" fill="url(#hc18)"/>
<rect x="928.87" y="146.09" width="5.43" height="114.58" fill="url(#hc19)"/>
<rect x="933.9" y="162.92" width="5.43" height="105.46" fill="url(#hc20)"/>
<rect x="938.93" y="149.54" width="5.43" height="108.98" fill="url(#hc21)"/>
<rect x="943.96" y="157.57" width="5.43" height="101.92" fill="url(#hc22)"/>
<rect x="948.99" y="150.88" width="5.43" height="117.74" fill="url(#hc23)"/>
<rect x="954.02" y="142.68" width="5.43" height="115.94" fill="url(#hc24)"/>
<rect x="959.05" y="151.61" width="5.43" height="106.97" fill="url(#hc25)"/>
<rect x="964.08" y="140.83" width="5.43" height="137.18" fill="url(#hc26)"/>
<rect x="969.11" y="165.81" width="5.43" height="84.5" fill="url(#hc27)"/>
<rect x="974.14" y="144.47" width="5.43" height="123.47" fill="url(#hc28)"/>
<rect x="979.17" y="162.34" width="5.43" height="91.88" fill="url(#hc29)"/>
<rect x="984.2" y="149" width="5.43" height="114.72" fill="url(#hc30)"/>
<rect x="989.23" y="149.94" width="5.43" height="114.26" fill="url(#hc31)"/>
<rect x="994.26" y="147.32" width="5.43" height="116.83" fill="url(#hc32)"/>
<rect x="999.29" y="141.75" width="5.43" height="136.44" fill="url(#hc33)"/>
<rect x="1004.32" y="147.36" width="5.43" height="118" fill="url(#hc34)"/>
<rect x="1009.35" y="156.77" width="5.43" height="116.11" fill="url(#hc35)"/>
<rect x="1014.38" y="163.59" width="5.43" height="99.93" fill="url(#hc36)"/>
<rect x="1019.41" y="140.54" width="5.43" height="143.26" fill="url(#hc37)"/>
<rect x="1024.44" y="163.84" width="5.43" height="112.57" fill="url(#hc38)"/>
<rect x="1029.47" y="166.71" width="5.43" height="127.45" fill="url(#hc39)"/>
<rect x="1034.5" y="166.45" width="5.43" height="130.49" fill="url(#hc40)"/>
<rect x="1039.53" y="159.79" width="5.43" height="133.48" fill="url(#hc41)"/>
<rect x="1044.56" y="169.19" width="5.43" height="124.64" fill="url(#hc42)"/>
<rect x="1049.59" y="166.79" width="5.43" height="124.74" fill="url(#hc43)"/>
<rect x="1054.62" y="160.37" width="5.43" height="141.34" fill="url(#hc44)"/>
<rect x="1059.65" y="171.82" width="5.43" height="124.05" fill="url(#hc45)"/>
<rect x="1064.68" y="154.34" width="5.43" height="141.01" fill="url(#hc46)"/>
<rect x="1069.71" y="171.67" width="5.43" height="125.42" fill="url(#hc47)"/>
<rect x="1074.74" y="178.62" width="5.43" height="109.19" fill="url(#hc48)"/>
<rect x="1079.77" y="172.9" width="5.43" height="125.14" fill="url(#hc49)"/>
<rect x="1084.8" y="151.82" width="5.43" height="163.96" fill="url(#hc50)"/>
<rect x="1089.83" y="175.71" width="5.43" height="116.6" fill="url(#hc51)"/>
<rect x="1094.86" y="184.37" width="5.43" height="106.6" fill="url(#hc52)"/>
<rect x="1099.89" y="190.08" width="5.43" height="116" fill="url(#hc53)"/>
<rect x="1104.92" y="195.61" width="5.43" height="121.91" fill="url(#hc54)"/>
<rect x="1109.95" y="192.35" width="5.43" height="120.77" fill="url(#hc55)"/>
<rect x="1114.98" y="182.61" width="5.43" height="149.82" fill="url(#hc56)"/>
<rect x="1120.01" y="186.36" width="5.43" height="134.66" fill="url(#hc57)"/>
<rect x="1125.04" y="172.79" width="5.43" height="145.41" fill="url(#hc58)"/>
<rect x="1130.07" y="190.4" width="5.43" height="124.98" fill="url(#hc59)"/>
<rect x="1135.1" y="193.71" width="5.43" height="127.77" fill="url(#hc60)"/>
<rect x="1140.13" y="186.09" width="5.43" height="139.78" fill="url(#hc61)"/>
<rect x="1145.16" y="212.08" width="5.43" height="94.92" fill="url(#hc62)"/>
<rect x="1150.19" y="203.94" width="5.43" height="117.76" fill="url(#hc63)"/>
<rect x="1155.22" y="204.7" width="5.43" height="106.86" fill="url(#hc64)"/>
<rect x="1160.25" y="188.24" width="5.43" height="132.42" fill="url(#hc65)"/>
<rect x="1165.28" y="206.11" width="5.43" height="107.22" fill="url(#hc66)"/>
<rect x="1170.31" y="207.4" width="5.43" height="111.26" fill="url(#hc67)"/>
<rect x="1175.34" y="214.87" width="5.43" height="100.74" fill="url(#hc68)"/>
<rect x="1180.37" y="206.45" width="5.43" height="134.52" fill="url(#hc69)"/>
<rect x="1185.4" y="222.28" width="5.43" height="118.62" fill="url(#hc70)"/>
<rect x="1190.43" y="213.6" width="5.43" height="124.85" fill="url(#hc71)"/>
<rect x="1195.46" y="218.77" width="5.43" height="123.92" fill="url(#hc72)"/>
<rect x="1200.49" y="214.76" width="5.43" height="141.13" fill="url(#hc73)"/>
<rect x="1205.52" y="231.24" width="5.43" height="113.12" fill="url(#hc74)"/>
<rect x="1210.55" y="225.95" width="5.43" height="132.22" fill="url(#hc75)"/>
<rect x="1215.58" y="220.25" width="5.43" height="137.09" fill="url(#hc76)"/>
<rect x="1220.61" y="224.35" width="5.43" height="140.7" fill="url(#hc77)"/>
<rect x="1225.64" y="239.46" width="5.43" height="130.14" fill="url(#hc78)"/>
<rect x="1230.67" y="251.8" width="5.43" height="104.72" fill="url(#hc79)"/>
<rect x="1235.7" y="240.22" width="5.43" height="118.09" fill="url(#hc80)"/>
<rect x="1240.73" y="235.58" width="5.43" height="138.87" fill="url(#hc81)"/>
<rect x="1245.76" y="262.93" width="5.43" height="97.83" fill="url(#hc82)"/>
<rect x="1250.79" y="259.77" width="5.43" height="104.29" fill="url(#hc83)"/>
<rect x="1255.82" y="251.92" width="5.43" height="115.08" fill="url(#hc84)"/>
<rect x="1260.85" y="268.69" width="5.43" height="102.95" fill="url(#hc85)"/>
<rect x="1265.88" y="253.26" width="5.43" height="119.32" fill="url(#hc86)"/>
<rect x="1270.91" y="271.76" width="5.43" height="97.07" fill="url(#hc87)"/>
<rect x="1275.94" y="273.88" width="5.43" height="96.92" fill="url(#hc88)"/>
<rect x="1280.97" y="254.62" width="5.43" height="129.75" fill="url(#hc89)"/>
<rect x="1286" y="276.19" width="5.43" height="110.53" fill="url(#hc90)"/>
<rect x="1291.03" y="272.93" width="5.43" height="117.78" fill="url(#hc91)"/>
<rect x="1296.06" y="273.14" width="5.43" height="104.84" fill="url(#hc92)"/>
<rect x="1301.09" y="272.55" width="5.43" height="119.23" fill="url(#hc93)"/>
<rect x="1306.12" y="284.06" width="5.43" height="92.63" fill="url(#hc94)"/>
<rect x="1311.15" y="273.56" width="5.43" height="100.15" fill="url(#hc95)"/>
<rect x="1316.18" y="277.5" width="5.43" height="100.02" fill="url(#hc96)"/>
<rect x="1321.21" y="276.5" width="5.43" height="114.56" fill="url(#hc97)"/>
<rect x="1326.24" y="273.52" width="5.43" height="129.46" fill="url(#hc98)"/>
<rect x="1331.27" y="284.48" width="5.43" height="107.45" fill="url(#hc99)"/>
<rect x="1336.3" y="290.09" width="5.43" height="96.24" fill="url(#hc100)"/>
<rect x="1341.33" y="297.48" width="5.43" height="86.48" fill="url(#hc101)"/>
<rect x="1346.36" y="288.86" width="5.43" height="100.04" fill="url(#hc102)"/>
</g></g>
<line x1="834.5" y1="260.3" x2="1064.9" y2="163" stroke="#fb2417" stroke-width="3.8" stroke-linecap="butt"/>
<line x1="916.3" y1="167.5" x2="1345.5" y2="337.1" stroke="#fb2417" stroke-width="3.8" stroke-linecap="butt"/>
<line x1="987.2" y1="107.7" x2="987.2" y2="426.6" stroke="#ffffff" stroke-width="3.4"/>
<line x1="833.7" y1="426.6" x2="833.7" y2="435.1" stroke="#000" stroke-width="1.8"/>
<line x1="1042.9" y1="426.6" x2="1042.9" y2="435.1" stroke="#000" stroke-width="1.8"/>
<line x1="1252.1" y1="426.6" x2="1252.1" y2="435.1" stroke="#000" stroke-width="1.8"/>
<line x1="824.8" y1="108.7" x2="833.3" y2="108.7" stroke="#000" stroke-width="1.8"/>
<line x1="824.8" y1="426.3" x2="833.3" y2="426.3" stroke="#000" stroke-width="1.8"/>
</g>
<g id="pc">
<polyline points="157.1,617.62 160.04,626.9 162.97,635.91 165.91,644.66 168.84,653.17 171.78,661.43 174.71,669.46 177.65,677.26 180.58,684.84 183.52,692.2 186.46,699.36 189.39,706.31 192.33,713.06 195.26,719.62 198.2,725.99 201.13,732.19 204.07,738.2 207,744.05 209.94,749.73 212.88,755.24 215.81,760.61 218.75,765.81 221.68,770.87 224.62,775.79 227.55,780.57 230.49,785.21 233.42,789.72 236.36,794.1 239.29,798.35 242.23,802.49 245.17,806.51 248.1,810.41 251.04,814.2 253.97,817.89 256.91,821.46 259.84,824.94 262.78,828.32 265.71,831.6 268.65,834.79 271.59,837.89 274.52,840.9 277.46,843.83 280.39,846.67 283.33,849.43 286.26,852.11 289.2,854.72 292.13,857.25 295.07,859.71 298.01,862.1 300.94,864.42 303.88,866.68 306.81,868.87 309.75,871 312.68,873.07 315.62,875.08 318.55,877.03 321.49,878.93 324.43,880.77 327.36,882.56 330.3,884.31 333.23,886 336.17,887.64 339.1,889.23 342.04,890.78 344.97,892.29 347.91,893.75 350.85,895.18 353.78,896.56 356.72,897.9 359.65,899.2 362.59,900.47 365.52,901.7 368.46,902.9 371.39,904.06 374.33,905.19 377.27,906.29 380.2,907.35 383.14,908.39 386.07,909.39 389.01,910.37 391.94,911.32 394.88,912.24 397.81,913.14 400.75,914.01 403.68,914.85 406.62,915.68 409.56,916.47 412.49,917.25 415.43,918 418.36,918.74 421.3,919.45 424.23,920.14 427.17,920.81 430.1,921.46 433.04,922.1 435.98,922.71 438.91,923.31 441.85,923.89 444.78,924.46 447.72,925.01 450.65,925.54 453.59,926.06 456.52,926.56 459.46,927.05 462.4,927.53 465.33,927.99 468.27,928.44 471.2,928.87 474.14,929.29 477.07,929.71 480.01,930.11 482.94,930.49 485.88,930.87 488.82,931.24 491.75,931.59 494.69,931.94 497.62,932.28 500.56,932.6 503.49,932.92 506.43,933.23 509.36,933.53 512.3,933.82 515.24,934.1 518.17,934.37 521.11,934.64 524.04,934.9 526.98,935.15 529.91,935.4 532.85,935.64 535.78,935.87 538.72,936.09 541.66,936.31 544.59,936.52 547.53,936.73 550.46,936.93 553.4,937.12 556.33,937.31 559.27,937.49 562.2,937.67 565.14,937.84 568.07,938.01 571.01,938.17 573.95,938.33 576.88,938.49 579.82,938.64 582.75,938.78 585.69,938.92 588.62,939.06 591.56,939.2 594.49,939.33 597.43,939.45 600.37,939.57 603.3,939.69 606.24,939.81 609.17,939.92 612.11,940.03 615.04,940.14 617.98,940.24 620.91,940.34 623.85,940.44" fill="none" stroke="#000" stroke-width="3.4" stroke-linejoin="round" stroke-linecap="butt"/>
<circle cx="163.7" cy="586.4" r="7" fill="#4682b9"/>
<circle cx="164.9" cy="596.5" r="7" fill="#4682b9"/>
<circle cx="173.8" cy="603.5" r="7" fill="#4682b9"/>
<circle cx="158.9" cy="629.6" r="7" fill="#4682b9"/>
<circle cx="158" cy="637.3" r="7" fill="#4682b9"/>
<circle cx="160.7" cy="642.4" r="7" fill="#4682b9"/>
<circle cx="162" cy="649" r="7" fill="#4682b9"/>
<circle cx="161" cy="655" r="7" fill="#4682b9"/>
<circle cx="170.4" cy="657" r="7" fill="#4682b9"/>
<circle cx="159.5" cy="664.3" r="7" fill="#4682b9"/>
<circle cx="189.9" cy="659.4" r="7" fill="#4682b9"/>
<circle cx="167.7" cy="681" r="7" fill="#4682b9"/>
<circle cx="183.2" cy="681" r="7" fill="#4682b9"/>
<circle cx="178" cy="724.7" r="7" fill="#4682b9"/>
<circle cx="207.6" cy="744.3" r="7" fill="#4682b9"/>
<circle cx="197.8" cy="759.1" r="7" fill="#4682b9"/>
<circle cx="220.7" cy="759.1" r="7" fill="#4682b9"/>
<circle cx="256.2" cy="807.2" r="7" fill="#4682b9"/>
<circle cx="236.4" cy="827" r="7" fill="#4682b9"/>
<circle cx="280.9" cy="824" r="7" fill="#4682b9"/>
<circle cx="349.9" cy="894.6" r="7" fill="#4682b9"/>
<circle cx="311.7" cy="916.4" r="7" fill="#4682b9"/>
<circle cx="397.5" cy="923.8" r="7" fill="#4682b9"/>
<circle cx="456.5" cy="906.5" r="7" fill="#4682b9"/>
<circle cx="531.5" cy="925.5" r="7" fill="#4682b9"/>
<circle cx="624" cy="948.2" r="7" fill="#4682b9"/>
<rect x="134.3" y="569" width="513.3" height="397.1" fill="none" stroke="#000" stroke-width="2.0"/>
<line x1="157.1" y1="966.1" x2="157.1" y2="974.6" stroke="#000" stroke-width="1.8"/>
<line x1="343.8" y1="966.1" x2="343.8" y2="974.6" stroke="#000" stroke-width="1.8"/>
<line x1="530.5" y1="966.1" x2="530.5" y2="974.6" stroke="#000" stroke-width="1.8"/>
<line x1="125.8" y1="596.6" x2="134.3" y2="596.6" stroke="#000" stroke-width="1.8"/>
<line x1="125.8" y1="717.9" x2="134.3" y2="717.9" stroke="#000" stroke-width="1.8"/>
<line x1="125.8" y1="839.2" x2="134.3" y2="839.2" stroke="#000" stroke-width="1.8"/>
<line x1="125.8" y1="960.5" x2="134.3" y2="960.5" stroke="#000" stroke-width="1.8"/>
</g>
<g id="pd">
<clipPath id="clipD"><rect x="834" y="568.9" width="513.5" height="397.3"/></clipPath>
<g clip-path="url(#clipD)">
<polyline points="926.1,936 926.43,935.71 926.77,935.42 927.1,935.14 927.43,934.85 927.77,934.55 928.1,934.26 928.44,933.97 928.77,933.68 929.1,933.38 929.44,933.09 929.77,932.79 930.1,932.49 930.44,932.19 930.77,931.89 931.11,931.59 931.44,931.29 931.77,930.99 932.11,930.69 932.44,930.38 932.77,930.08 933.11,929.77 933.44,929.47 933.77,929.16 934.11,928.85 934.44,928.54 934.78,928.23 935.11,927.92 935.44,927.61 935.78,927.3 936.11,926.99 936.44,926.67 936.78,926.36 937.11,926.04 937.44,925.73 937.78,925.41 938,925.2 938.11,925.09 938.45,924.78 938.78,924.46 939.11,924.15 939.45,923.83 939.78,923.52 940.11,923.21 940.45,922.9 940.78,922.58 941.12,922.27 941.45,921.96 941.78,921.64 942.12,921.33 942.45,921.01 942.78,920.69 943.12,920.37 943.45,920.05 943.78,919.72 944.12,919.39 944.45,919.06 944.79,918.73 945.12,918.39 945.45,918.05 945.79,917.71 946.12,917.36 946.45,917.01 946.79,916.65 947.12,916.29 947.45,915.93 947.79,915.56 948.12,915.18 948.46,914.8 948.79,914.41 948.8,914.4 949.12,914.02 949.46,913.61 949.79,913.2 950.12,912.78 950.46,912.34 950.79,911.91 951.13,911.46 951.46,911.01 951.79,910.55 952.13,910.08 952.46,909.61 952.79,909.14 953.13,908.66 953.46,908.18 953.79,907.69 954.13,907.2 954.46,906.71 954.8,906.22 955.13,905.72 955.46,905.22 955.8,904.73 956.13,904.23 956.46,903.73 956.8,903.23 957.13,902.74 957.46,902.25 957.8,901.75 958.13,901.27 958.47,900.78 958.8,900.3 959.13,899.82 959.47,899.35 959.5,899.3 959.8,898.88 960.13,898.43 960.47,897.99 960.8,897.55 961.14,897.12 961.47,896.7 961.8,896.28 962.14,895.86 962.47,895.44 962.8,895.02 963.14,894.6 963.47,894.17 963.8,893.73 964.14,893.28 964.47,892.82 964.81,892.35 965.14,891.86 965.47,891.36 965.81,890.83 966.14,890.29 966.47,889.73 966.81,889.14 967.1,888.6 967.14,888.52 967.47,887.87 967.81,887.19 968.14,886.47 968.48,885.71 968.81,884.92 969.14,884.09 969.48,883.24 969.81,882.35 970.14,881.44 970.48,880.5 970.81,879.53 971.15,878.54 971.48,877.52 971.81,876.48 972.15,875.42 972.4,874.6 972.48,874.34 972.81,873.21 973.15,872.02 973.48,870.78 973.81,869.48 974.15,868.14 974.48,866.76 974.82,865.34 975.15,863.89 975.48,862.4 975.82,860.89 976.15,859.35 976.48,857.79 976.8,856.3 976.82,856.22 977.15,854.63 977.48,853.04 977.82,851.41 978.15,849.73 978.49,848 978.82,846.2 979.15,844.3 979.49,842.3 979.82,840.19 980,839 980.15,837.94 980.49,835.49 980.82,832.84 981.16,830 981.49,826.98 981.82,823.8 982.16,820.45 982.2,820 982.49,816.83 982.82,812.8 983.16,808.5 983.49,804.08 983.8,800 983.82,799.68 984.16,795.38 984.49,790.97 984.83,786.16 984.9,785 985.16,780.66 985.49,774.47 985.83,767.84 986.16,760.98 986.49,754.14 986.6,752 986.83,747.41 987.16,740.57 987.49,733.64 987.83,726.7 988.16,719.78 988.2,719 988.5,712.96 988.83,706.24 989.16,699.5 989.5,692.63 989.83,685.52 989.9,684 990.16,678.56 990.5,672.15 990.83,665.16 991.17,656.42 991.4,648.6 991.5,644.48 991.83,624.02 992,610 992.17,589.84 992.3,569 992.5,530 992.7,530 992.9,569 992.97,578.76 993.25,606.22 993.3,610 993.52,623.23 993.8,635.88 994.07,647.29 994.1,648.6 994.34,659.29 994.62,671.21 994.89,682.81 995.17,693.86 995.44,704.13 995.71,713.39 995.9,719 995.99,721.44 996.26,728.58 996.54,735.07 996.81,741.06 997.08,746.71 997.36,752.17 997.5,755 997.63,757.58 997.91,762.83 998.18,767.9 998.45,772.78 998.73,777.45 999,781.9 999.2,785 999.27,786.15 999.55,790.48 999.82,794.61 1000.1,798.1 1000.3,800 1000.37,800.52 1000.64,802.35 1000.92,803.91 1001.19,805.25 1001.47,806.45 1001.74,807.55 1002.01,808.63 1002.29,809.73 1002.56,810.92 1002.6,811.1 1002.84,812.21 1003.11,813.52 1003.38,814.85 1003.66,816.19 1003.93,817.52 1004.21,818.86 1004.48,820.18 1004.75,821.49 1005.03,822.78 1005.3,824.03 1005.58,825.25 1005.85,826.42 1006.12,827.54 1006.4,828.61 1006.67,829.62 1006.9,830.4 1006.95,830.55 1007.22,831.45 1007.49,832.34 1007.77,833.22 1008.04,834.09 1008.32,834.93 1008.59,835.76 1008.86,836.57 1009.14,837.36 1009.41,838.13 1009.68,838.87 1009.96,839.59 1010.23,840.27 1010.51,840.93 1010.78,841.56 1011.05,842.15 1011.33,842.71 1011.6,843.24 1011.88,843.73 1012.15,844.17 1012.3,844.4 1012.42,844.58 1012.7,844.98 1012.97,845.38 1013.25,845.77 1013.52,846.15 1013.79,846.53 1014.07,846.9 1014.34,847.25 1014.62,847.6 1014.89,847.94 1015.16,848.26 1015.44,848.57 1015.71,848.87 1015.99,849.15 1016.26,849.41 1016.53,849.66 1016.81,849.89 1017.08,850.1 1017.36,850.29 1017.63,850.46 1017.9,850.6 1018.18,850.73 1018.45,850.83 1018.7,850.9 1018.73,850.91 1019,850.97 1019.27,851.03 1019.55,851.1 1019.82,851.16 1020.09,851.21 1020.37,851.27 1020.64,851.32 1020.92,851.37 1021.19,851.42 1021.46,851.47 1021.74,851.51 1022.01,851.55 1022.29,851.59 1022.56,851.62 1022.83,851.66 1023.11,851.69 1023.38,851.71 1023.66,851.73 1023.93,851.75 1024.2,851.77 1024.48,851.78 1024.75,851.79 1025.03,851.8 1025.3,851.8 1026.79,851.05 1028.28,850.11 1029.78,849.15 1031.27,848.17 1032.76,847.17 1034.25,846.16 1035.74,845.12 1037.23,844.06 1038.73,842.99 1040.22,841.91 1041.71,840.8 1043.2,839.68 1044.69,838.55 1046.18,837.41 1047.68,836.25 1049.17,835.07 1050.66,833.89 1052.15,832.69 1053.64,831.49 1055.14,830.27 1056.63,829.05 1058.12,827.82 1059.61,826.57 1061.1,825.33 1062.59,824.07 1064.09,822.81 1065.58,821.54 1067.07,820.27 1068.56,818.99 1070.05,817.71 1071.55,816.42 1073.04,815.13 1074.53,813.84 1076.02,812.54 1077.51,811.23 1079,809.93 1080.5,808.61 1081.99,807.3 1083.48,805.98 1084.97,804.67 1086.46,803.34 1087.95,802.02 1089.45,800.7 1090.94,799.37 1092.43,798.04 1093.92,796.71 1095.41,795.38 1096.91,794.05 1098.4,792.72 1099.89,791.39 1101.38,790.06 1102.87,788.73 1104.36,787.4 1105.86,786.07 1107.35,784.75 1108.84,783.42 1110.33,782.1 1111.82,780.77 1113.32,779.45 1114.81,778.14 1116.3,776.82 1117.79,775.51 1119.28,774.2 1120.77,772.89 1122.27,771.59 1123.76,770.29 1125.25,769 1126.74,767.71 1128.23,766.43 1129.72,765.15 1131.22,763.87 1132.71,762.6 1134.2,761.34 1135.69,760.08 1137.18,758.83 1138.68,757.58 1140.17,756.34 1141.66,755.11 1143.15,753.88 1144.64,752.66 1146.13,751.44 1147.63,750.23 1149.12,749.03 1150.61,747.83 1152.1,746.64 1153.59,745.45 1155.08,744.27 1156.58,743.09 1158.07,741.92 1159.56,740.76 1161.05,739.6 1162.54,738.44 1164.04,737.3 1165.53,736.15 1167.02,735.01 1168.51,733.88 1170,732.75 1171.49,731.63 1172.99,730.51 1174.48,729.4 1175.97,728.29 1177.46,727.19 1178.95,726.09 1180.45,725 1181.94,723.91 1183.43,722.83 1184.92,721.75 1186.41,720.68 1187.9,719.61 1189.4,718.54 1190.89,717.48 1192.38,716.43 1193.87,715.38 1195.36,714.33 1196.85,713.29 1198.35,712.25 1199.84,711.22 1201.33,710.19 1202.82,709.16 1204.31,708.14 1205.81,707.12 1207.3,706.11 1208.79,705.1 1210.28,704.09 1211.77,703.09 1213.26,702.09 1214.76,701.1 1216.25,700.11 1217.74,699.12 1219.23,698.14 1220.72,697.16 1222.22,696.18 1223.71,695.21 1225.2,694.24 1226.69,693.27 1228.18,692.31 1229.67,691.35 1231.17,690.4 1232.66,689.44 1234.15,688.5 1235.64,687.55 1237.13,686.61 1238.62,685.67 1240.12,684.73 1241.61,683.79 1243.1,682.86 1244.59,681.93 1246.08,681.01 1247.58,680.09 1249.07,679.17 1250.56,678.25 1252.05,677.33 1253.54,676.42 1255.03,675.51 1256.53,674.6 1258.02,673.7 1259.51,672.8 1261,671.9 1262.49,671 1263.98,670.1 1265.48,669.21 1266.97,668.32 1268.46,667.43 1269.95,666.54 1271.44,665.66 1272.94,664.77 1274.43,663.89 1275.92,663.01 1277.41,662.13 1278.9,661.26 1280.39,660.38 1281.89,659.51 1283.38,658.64 1284.87,657.77 1286.36,656.9 1287.85,656.04 1289.35,655.17 1290.84,654.31 1292.33,653.45 1293.82,652.59 1295.31,651.73 1296.8,650.87 1298.3,650.01 1299.79,649.16 1301.28,648.3 1302.77,647.45 1304.26,646.59 1305.75,645.74 1307.25,644.89 1308.74,644.04 1310.23,643.19 1311.72,642.34 1313.21,641.5 1314.71,640.65 1316.2,639.8 1317.69,638.96 1319.18,638.11 1320.67,637.26 1322.16,636.42 1323.66,635.58 1325.15,634.73 1326.64,633.89 1328.13,633.05 1329.62,632.2 1331.12,631.36 1332.61,630.52 1334.1,629.67 1335.59,628.83 1337.08,627.99 1338.57,627.14 1340.07,626.3 1341.56,625.46 1343.05,624.61 1344.54,623.77 1346.03,622.93 1347.52,622.08 1349.02,621.24 1350.51,620.39 1352,619.55" fill="none" stroke="#000" stroke-width="3.4" stroke-linejoin="round" stroke-linecap="butt"/>
<line x1="947.9" y1="878.2" x2="947.9" y2="938.1" stroke="#4682b9" stroke-width="2.0"/>
<line x1="940.9" y1="878.2" x2="954.9" y2="878.2" stroke="#4682b9" stroke-width="2.0"/>
<line x1="940.9" y1="938.1" x2="954.9" y2="938.1" stroke="#4682b9" stroke-width="2.0"/>
<line x1="968.8" y1="894.2" x2="968.8" y2="943.3" stroke="#4682b9" stroke-width="2.0"/>
<line x1="961.8" y1="894.2" x2="975.8" y2="894.2" stroke="#4682b9" stroke-width="2.0"/>
<line x1="961.8" y1="943.3" x2="975.8" y2="943.3" stroke="#4682b9" stroke-width="2.0"/>
<line x1="971" y1="872" x2="971" y2="904.8" stroke="#4682b9" stroke-width="2.0"/>
<line x1="964" y1="872" x2="978" y2="872" stroke="#4682b9" stroke-width="2.0"/>
<line x1="964" y1="904.8" x2="978" y2="904.8" stroke="#4682b9" stroke-width="2.0"/>
<line x1="973.2" y1="852.6" x2="973.2" y2="883.8" stroke="#4682b9" stroke-width="2.0"/>
<line x1="966.2" y1="852.6" x2="980.2" y2="852.6" stroke="#4682b9" stroke-width="2.0"/>
<line x1="966.2" y1="883.8" x2="980.2" y2="883.8" stroke="#4682b9" stroke-width="2.0"/>
<line x1="975" y1="841.6" x2="975" y2="872" stroke="#4682b9" stroke-width="2.0"/>
<line x1="968" y1="841.6" x2="982" y2="841.6" stroke="#4682b9" stroke-width="2.0"/>
<line x1="968" y1="872" x2="982" y2="872" stroke="#4682b9" stroke-width="2.0"/>
<line x1="976.9" y1="802.9" x2="976.9" y2="916.3" stroke="#4682b9" stroke-width="2.0"/>
<line x1="969.9" y1="802.9" x2="983.9" y2="802.9" stroke="#4682b9" stroke-width="2.0"/>
<line x1="969.9" y1="916.3" x2="983.9" y2="916.3" stroke="#4682b9" stroke-width="2.0"/>
<line x1="979.4" y1="778.8" x2="979.4" y2="800" stroke="#4682b9" stroke-width="2.0"/>
<line x1="972.4" y1="778.8" x2="986.4" y2="778.8" stroke="#4682b9" stroke-width="2.0"/>
<line x1="972.4" y1="800" x2="986.4" y2="800" stroke="#4682b9" stroke-width="2.0"/>
<line x1="989.7" y1="676.6" x2="989.7" y2="707" stroke="#4682b9" stroke-width="2.0"/>
<line x1="982.7" y1="676.6" x2="996.7" y2="676.6" stroke="#4682b9" stroke-width="2.0"/>
<line x1="982.7" y1="707" x2="996.7" y2="707" stroke="#4682b9" stroke-width="2.0"/>
<line x1="999.8" y1="774.7" x2="999.8" y2="815" stroke="#4682b9" stroke-width="2.0"/>
<line x1="992.8" y1="774.7" x2="1006.8" y2="774.7" stroke="#4682b9" stroke-width="2.0"/>
<line x1="992.8" y1="815" x2="1006.8" y2="815" stroke="#4682b9" stroke-width="2.0"/>
<line x1="1004.4" y1="776" x2="1004.4" y2="850.3" stroke="#4682b9" stroke-width="2.0"/>
<line x1="997.4" y1="776" x2="1011.4" y2="776" stroke="#4682b9" stroke-width="2.0"/>
<line x1="997.4" y1="850.3" x2="1011.4" y2="850.3" stroke="#4682b9" stroke-width="2.0"/>
<line x1="1011" y1="820.2" x2="1011" y2="840.4" stroke="#4682b9" stroke-width="2.0"/>
<line x1="1004" y1="820.2" x2="1018" y2="820.2" stroke="#4682b9" stroke-width="2.0"/>
<line x1="1004" y1="840.4" x2="1018" y2="840.4" stroke="#4682b9" stroke-width="2.0"/>
<line x1="1019.5" y1="837.3" x2="1019.5" y2="864" stroke="#4682b9" stroke-width="2.0"/>
<line x1="1012.5" y1="837.3" x2="1026.5" y2="837.3" stroke="#4682b9" stroke-width="2.0"/>
<line x1="1012.5" y1="864" x2="1026.5" y2="864" stroke="#4682b9" stroke-width="2.0"/>
<line x1="1016.2" y1="845.7" x2="1016.2" y2="881.8" stroke="#4682b9" stroke-width="2.0"/>
<line x1="1009.2" y1="845.7" x2="1023.2" y2="845.7" stroke="#4682b9" stroke-width="2.0"/>
<line x1="1009.2" y1="881.8" x2="1023.2" y2="881.8" stroke="#4682b9" stroke-width="2.0"/>
<line x1="1021.4" y1="855" x2="1021.4" y2="892.9" stroke="#4682b9" stroke-width="2.0"/>
<line x1="1014.4" y1="855" x2="1028.4" y2="855" stroke="#4682b9" stroke-width="2.0"/>
<line x1="1014.4" y1="892.9" x2="1028.4" y2="892.9" stroke="#4682b9" stroke-width="2.0"/>
<line x1="1031.9" y1="848.7" x2="1031.9" y2="886.4" stroke="#4682b9" stroke-width="2.0"/>
<line x1="1024.9" y1="848.7" x2="1038.9" y2="848.7" stroke="#4682b9" stroke-width="2.0"/>
<line x1="1024.9" y1="886.4" x2="1038.9" y2="886.4" stroke="#4682b9" stroke-width="2.0"/>
<line x1="1052.7" y1="838.4" x2="1052.7" y2="850" stroke="#4682b9" stroke-width="2.0"/>
<line x1="1045.7" y1="838.4" x2="1059.7" y2="838.4" stroke="#4682b9" stroke-width="2.0"/>
<line x1="1045.7" y1="850" x2="1059.7" y2="850" stroke="#4682b9" stroke-width="2.0"/>
<line x1="1083.7" y1="802.1" x2="1083.7" y2="817.8" stroke="#4682b9" stroke-width="2.0"/>
<line x1="1076.7" y1="802.1" x2="1090.7" y2="802.1" stroke="#4682b9" stroke-width="2.0"/>
<line x1="1076.7" y1="817.8" x2="1090.7" y2="817.8" stroke="#4682b9" stroke-width="2.0"/>
<line x1="1136.1" y1="761.5" x2="1136.1" y2="777.2" stroke="#4682b9" stroke-width="2.0"/>
<line x1="1129.1" y1="761.5" x2="1143.1" y2="761.5" stroke="#4682b9" stroke-width="2.0"/>
<line x1="1129.1" y1="777.2" x2="1143.1" y2="777.2" stroke="#4682b9" stroke-width="2.0"/>
<line x1="1188.5" y1="719.8" x2="1188.5" y2="726.2" stroke="#4682b9" stroke-width="2.0"/>
<line x1="1181.5" y1="719.8" x2="1195.5" y2="719.8" stroke="#4682b9" stroke-width="2.0"/>
<line x1="1181.5" y1="726.2" x2="1195.5" y2="726.2" stroke="#4682b9" stroke-width="2.0"/>
<line x1="1240.7" y1="677.6" x2="1240.7" y2="692" stroke="#4682b9" stroke-width="2.0"/>
<line x1="1233.7" y1="677.6" x2="1247.7" y2="677.6" stroke="#4682b9" stroke-width="2.0"/>
<line x1="1233.7" y1="692" x2="1247.7" y2="692" stroke="#4682b9" stroke-width="2.0"/>
<line x1="1292.6" y1="637.1" x2="1292.6" y2="642.1" stroke="#4682b9" stroke-width="2.0"/>
<line x1="1285.6" y1="637.1" x2="1299.6" y2="637.1" stroke="#4682b9" stroke-width="2.0"/>
<line x1="1285.6" y1="642.1" x2="1299.6" y2="642.1" stroke="#4682b9" stroke-width="2.0"/>
<line x1="1344.4" y1="610.8" x2="1344.4" y2="615.8" stroke="#4682b9" stroke-width="2.0"/>
<line x1="1337.4" y1="610.8" x2="1351.4" y2="610.8" stroke="#4682b9" stroke-width="2.0"/>
<line x1="1337.4" y1="615.8" x2="1351.4" y2="615.8" stroke="#4682b9" stroke-width="2.0"/>
<line x1="1344.4" y1="631.2" x2="1344.4" y2="636.2" stroke="#4682b9" stroke-width="2.0"/>
<line x1="1337.4" y1="631.2" x2="1351.4" y2="631.2" stroke="#4682b9" stroke-width="2.0"/>
<line x1="1337.4" y1="636.2" x2="1351.4" y2="636.2" stroke="#4682b9" stroke-width="2.0"/>
<circle cx="947.9" cy="900.4" r="7" fill="#4682b9"/>
<circle cx="968.8" cy="913.3" r="7" fill="#4682b9"/>
<circle cx="971" cy="886" r="7" fill="#4682b9"/>
<circle cx="973.2" cy="866.1" r="7" fill="#4682b9"/>
<circle cx="975" cy="855.1" r="7" fill="#4682b9"/>
<circle cx="976.9" cy="831" r="7" fill="#4682b9"/>
<circle cx="979.4" cy="789.9" r="7" fill="#4682b9"/>
<circle cx="989.7" cy="689.8" r="7" fill="#4682b9"/>
<circle cx="999.8" cy="791.2" r="7" fill="#4682b9"/>
<circle cx="1004.4" cy="801.3" r="7" fill="#4682b9"/>
<circle cx="1011" cy="829.4" r="7" fill="#4682b9"/>
<circle cx="1019.5" cy="849" r="7" fill="#4682b9"/>
<circle cx="1016.2" cy="860.8" r="7" fill="#4682b9"/>
<circle cx="1021.4" cy="870.7" r="7" fill="#4682b9"/>
<circle cx="1031.9" cy="864.1" r="7" fill="#4682b9"/>
<circle cx="1052.7" cy="844.4" r="7" fill="#4682b9"/>
<circle cx="1083.7" cy="809.6" r="7" fill="#4682b9"/>
<circle cx="1136.1" cy="768.9" r="7" fill="#4682b9"/>
<circle cx="1188.5" cy="723" r="7" fill="#4682b9"/>
<circle cx="1240.7" cy="685" r="7" fill="#4682b9"/>
<circle cx="1292.6" cy="639.6" r="7" fill="#4682b9"/>
<circle cx="1344.4" cy="613.3" r="7" fill="#4682b9"/>
<circle cx="1344.4" cy="633.7" r="7" fill="#4682b9"/>
</g>
<rect x="834" y="568.9" width="513.5" height="397.3" fill="none" stroke="#000" stroke-width="2.0"/>
<line x1="833.7" y1="966.2" x2="833.7" y2="974.7" stroke="#000" stroke-width="1.8"/>
<line x1="1042.9" y1="966.2" x2="1042.9" y2="974.7" stroke="#000" stroke-width="1.8"/>
<line x1="1252.1" y1="966.2" x2="1252.1" y2="974.7" stroke="#000" stroke-width="1.8"/>
<line x1="825.5" y1="878.5" x2="834" y2="878.5" stroke="#000" stroke-width="1.8"/>
<line x1="825.5" y1="753.7" x2="834" y2="753.7" stroke="#000" stroke-width="1.8"/>
<line x1="825.5" y1="628.9" x2="834" y2="628.9" stroke="#000" stroke-width="1.8"/>
<line x1="829.2" y1="965.73" x2="834" y2="965.73" stroke="#000" stroke-width="1.8"/>
<line x1="829.2" y1="943.76" x2="834" y2="943.76" stroke="#000" stroke-width="1.8"/>
<line x1="829.2" y1="928.16" x2="834" y2="928.16" stroke="#000" stroke-width="1.8"/>
<line x1="829.2" y1="916.07" x2="834" y2="916.07" stroke="#000" stroke-width="1.8"/>
<line x1="829.2" y1="906.19" x2="834" y2="906.19" stroke="#000" stroke-width="1.8"/>
<line x1="829.2" y1="897.83" x2="834" y2="897.83" stroke="#000" stroke-width="1.8"/>
<line x1="829.2" y1="890.59" x2="834" y2="890.59" stroke="#000" stroke-width="1.8"/>
<line x1="829.2" y1="884.21" x2="834" y2="884.21" stroke="#000" stroke-width="1.8"/>
<line x1="829.2" y1="840.93" x2="834" y2="840.93" stroke="#000" stroke-width="1.8"/>
<line x1="829.2" y1="818.96" x2="834" y2="818.96" stroke="#000" stroke-width="1.8"/>
<line x1="829.2" y1="803.36" x2="834" y2="803.36" stroke="#000" stroke-width="1.8"/>
<line x1="829.2" y1="791.27" x2="834" y2="791.27" stroke="#000" stroke-width="1.8"/>
<line x1="829.2" y1="781.39" x2="834" y2="781.39" stroke="#000" stroke-width="1.8"/>
<line x1="829.2" y1="773.03" x2="834" y2="773.03" stroke="#000" stroke-width="1.8"/>
<line x1="829.2" y1="765.79" x2="834" y2="765.79" stroke="#000" stroke-width="1.8"/>
<line x1="829.2" y1="759.41" x2="834" y2="759.41" stroke="#000" stroke-width="1.8"/>
<line x1="829.2" y1="716.13" x2="834" y2="716.13" stroke="#000" stroke-width="1.8"/>
<line x1="829.2" y1="694.16" x2="834" y2="694.16" stroke="#000" stroke-width="1.8"/>
<line x1="829.2" y1="678.56" x2="834" y2="678.56" stroke="#000" stroke-width="1.8"/>
<line x1="829.2" y1="666.47" x2="834" y2="666.47" stroke="#000" stroke-width="1.8"/>
<line x1="829.2" y1="656.59" x2="834" y2="656.59" stroke="#000" stroke-width="1.8"/>
<line x1="829.2" y1="648.23" x2="834" y2="648.23" stroke="#000" stroke-width="1.8"/>
<line x1="829.2" y1="640.99" x2="834" y2="640.99" stroke="#000" stroke-width="1.8"/>
<line x1="829.2" y1="634.61" x2="834" y2="634.61" stroke="#000" stroke-width="1.8"/>
<line x1="829.2" y1="591.33" x2="834" y2="591.33" stroke="#000" stroke-width="1.8"/>
<line x1="829.2" y1="569.36" x2="834" y2="569.36" stroke="#000" stroke-width="1.8"/>
</g>
<g font-family="&quot;Liberation Sans&quot;, sans-serif" font-size="100" fill="#000">
<text transform="matrix(0.40566 0 0 0.40000 0.38 30.30)" font-weight="bold">a</text>
<text transform="matrix(0.42748 0 0 0.40845 57.19 86.59)">0.6</text>
<text transform="matrix(0.41818 0 0 0.38873 57.33 205.81)">0.4</text>
<text transform="matrix(0.41769 0 0 0.39155 57.33 325.61)">0.2</text>
<text transform="matrix(0.40638 0 0 0.39429 245.47 472.01)">5</text>
<text transform="matrix(0.43333 0 0 0.39718 399.83 472.20)">10</text>
<text transform="matrix(0.42525 0 0 0.40286 566.80 472.20)">15</text>
<text transform="matrix(0.43196 0 0 0.40500 293.34 518.90)">Time (ms)</text>
<text transform="matrix(0 -0.42690 0.40500 0 38.90 345.83)">Current (nA)</text>
<text transform="matrix(0.43084 0 0 0.40500 443.01 73.40)">spin-up</text>
<text transform="matrix(0.43004 0 0 0.40500 443.01 129.40)">spin-down</text>
<text transform="matrix(0.45800 0 0 0.40822 679.79 30.90)" font-weight="bold">b</text>
<text transform="matrix(0.41723 0 0 0.40500 986.05 45.00)" font-style="italic">dI/dV</text>
<text transform="matrix(0.42805 0 0 0.40500 1097.63 45.00)">(a.u.)</text>
<text transform="matrix(0.42866 0 0 0.40423 744.66 122.90)">693</text>
<text transform="matrix(0.42468 0 0 0.40845 744.68 440.79)">685</text>
<text transform="matrix(0.41667 0 0 0.39014 822.53 471.71)">0</text>
<text transform="matrix(0.40465 0 0 0.40145 1031.16 472.40)">1</text>
<text transform="matrix(0.39783 0 0 0.39571 1240.51 472.40)">2</text>
<text transform="matrix(0.38500 0 0 0.40435 1024.64 519.20)" font-style="italic">B</text>
<text transform="matrix(0.32093 0 0 0.28500 1050.52 524.00)">ext</text>
<text transform="matrix(0.41466 0 0 0.40500 1106.11 519.20)">(T)</text>
<text transform="matrix(0 -0.38000 0.40725 0 726.90 341.82)" font-style="italic">V</text>
<text transform="matrix(0 -0.25472 0.28116 0 733.00 314.14)">B</text>
<text transform="matrix(0 -0.42304 0.40500 0 726.90 282.84)">(mV)</text>
<text transform="matrix(0.38980 0 0 0.39818 0.04 563.80)" font-weight="bold">c</text>
<text transform="matrix(0.42803 0 0 0.40563 56.89 611.29)">0.4</text>
<text transform="matrix(0.43588 0 0 0.39296 56.46 731.71)">0.3</text>
<text transform="matrix(0.42846 0 0 0.39437 56.49 853.21)">0.2</text>
<text transform="matrix(0.43462 0 0 0.39155 56.46 974.21)">0.1</text>
<text transform="matrix(0.45208 0 0 0.39437 144.09 1011.91)">0</text>
<text transform="matrix(0.42826 0 0 0.39571 331.06 1012.30)">2</text>
<text transform="matrix(0.40588 0 0 0.40735 519.29 1012.71)">4</text>
<text transform="matrix(0.43860 0 0 0.40500 239.56 1058.60)">Waiting time (s)</text>
<text transform="matrix(0 -0.43396 0.40500 0 38.50 919.87)">Spin-up fraction</text>
<text transform="matrix(0.40172 0 0 0.40580 261.28 628.40)" font-style="italic">T</text>
<text transform="matrix(0.30233 0 0 0.25652 284.98 633.60)">1</text>
<text transform="matrix(0.43187 0 0 0.40141 351.35 628.50)">1.09</text>
<text transform="matrix(0.42321 0 0 0.40141 491.31 628.50)">0.20s</text>
<text transform="matrix(0.44800 0 0 0.41096 679.91 564.70)" font-weight="bold">d</text>
<text transform="matrix(0.44040 0 0 0.38310 753.68 642.02)">10</text>
<text transform="matrix(0.28478 0 0 0.25000 802.18 626.50)">2</text>
<text transform="matrix(0.43131 0 0 0.40423 753.65 768.20)">10</text>
<text transform="matrix(0.27442 0 0 0.28116 802.70 753.70)">1</text>
<text transform="matrix(0.43737 0 0 0.40423 753.00 893.00)">10</text>
<text transform="matrix(0.26250 0 0 0.27324 802.15 878.23)">0</text>
<text transform="matrix(0.41667 0 0 0.39014 822.53 1012.11)">0</text>
<text transform="matrix(0.40465 0 0 0.40145 1031.16 1012.80)">1</text>
<text transform="matrix(0.39783 0 0 0.39571 1240.51 1012.80)">2</text>
<text transform="matrix(0.38500 0 0 0.40435 1024.64 1059.60)" font-style="italic">B</text>
<text transform="matrix(0.32093 0 0 0.28500 1050.52 1063.70)">ext</text>
<text transform="matrix(0.41466 0 0 0.40500 1106.11 1058.90)">(T)</text>
<text transform="matrix(0 -0.43200 0.40500 0 734.10 855.56)">1/</text>
<text transform="matrix(0 -0.40000 0.40290 0 734.10 820.80)" font-style="italic">T</text>
<text transform="matrix(0 -0.26512 0.28116 0 740.90 795.32)">1</text>
<text transform="matrix(0 -0.41081 0.40500 0 734.30 765.76)">(s</text>
<text transform="matrix(0 -0.32885 0.27826 0 719.80 729.84)">−1</text>
<text transform="matrix(0 -0.32308 0.36915 0 731.75 687.72)">)</text>
<rect x="315.2" y="610.95" width="23.7" height="2.9"/>
<rect x="315.2" y="618.55" width="23.7" height="2.9"/>
<rect x="451.6" y="611.35" width="23.9" height="3"/>
<rect x="462" y="604.1" width="3" height="17.7"/>
<rect x="451.6" y="625.1" width="23.9" height="3"/>
</g>
</svg>
</body></html>
